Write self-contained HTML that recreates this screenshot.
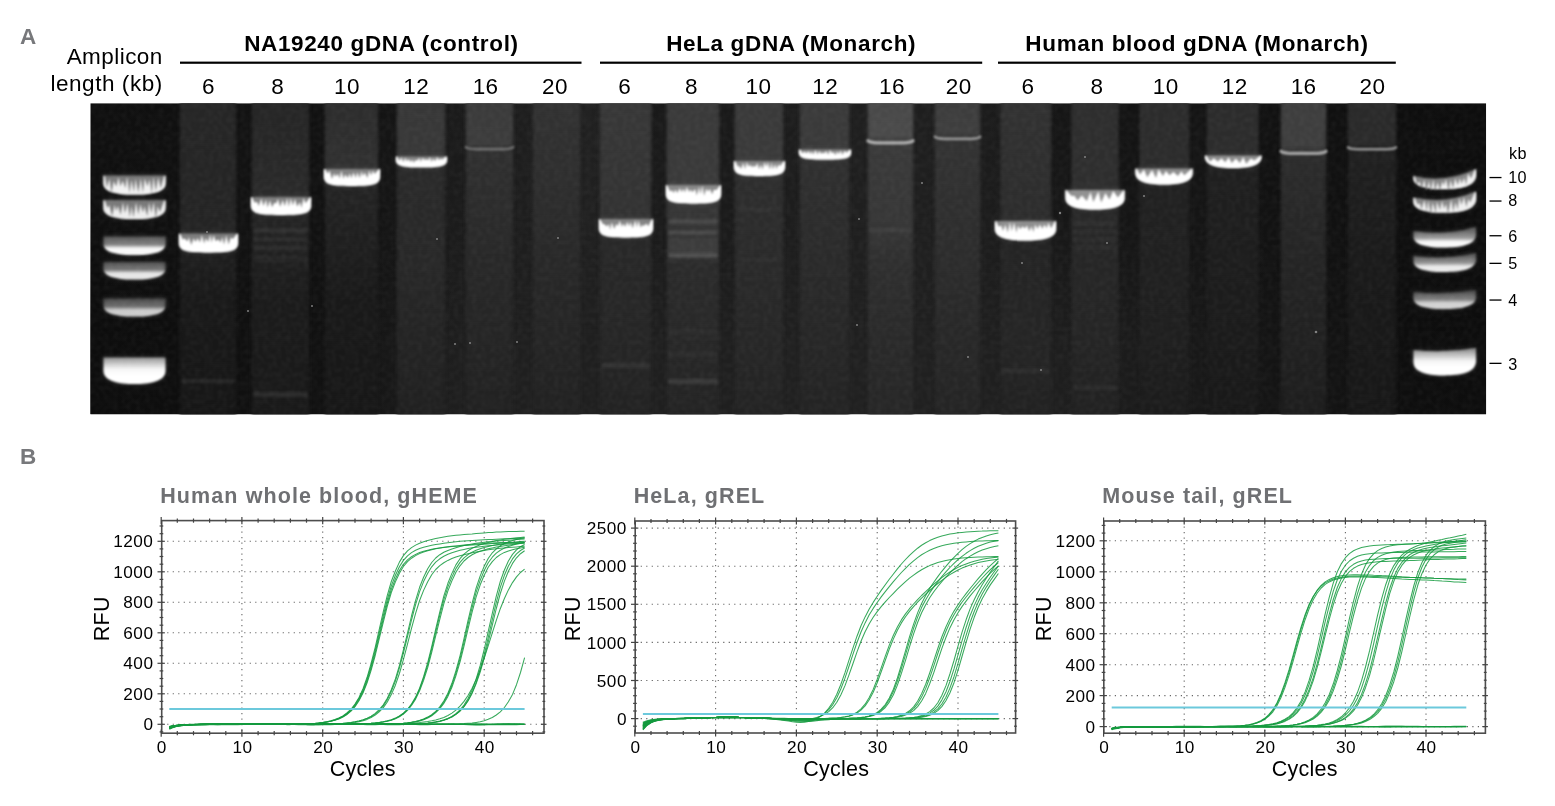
<!DOCTYPE html>
<html lang="en"><head><meta charset="utf-8"><title>Figure</title>
<style>
html,body{margin:0;padding:0;background:#fff;}
body{width:1555px;height:806px;overflow:hidden;}
svg{display:block;font-family:"Liberation Sans", Arial, Helvetica, sans-serif;}
.t{fill:#000;}
.hd{font-weight:700;font-size:22.5px;letter-spacing:0.64px;}
.num{font-size:22.5px;letter-spacing:0.45px;}
.kb{font-size:16.2px;letter-spacing:0.3px;}
.pt{font-weight:700;font-size:21.5px;letter-spacing:1.1px;fill:#6f7073;}
.tk{font-size:17.2px;letter-spacing:0.45px;}
.ax{font-size:21.5px;letter-spacing:0.25px;}
.pl{font-weight:700;font-size:22.5px;fill:#77787b;}
</style></head><body>
<svg width="1555" height="806" viewBox="0 0 1555 806">
<defs>
<filter id="b05" color-interpolation-filters="sRGB" x="-50%" y="-50%" width="200%" height="200%"><feGaussianBlur stdDeviation="0.5"/></filter>
<filter id="b1" color-interpolation-filters="sRGB" x="-10%" y="-40%" width="120%" height="180%"><feGaussianBlur stdDeviation="1.1"/></filter>
<filter id="b15" color-interpolation-filters="sRGB" x="-10%" y="-80%" width="120%" height="260%"><feGaussianBlur stdDeviation="1.5"/></filter>
<filter id="b08" color-interpolation-filters="sRGB" x="-10%" y="-200%" width="120%" height="500%"><feGaussianBlur stdDeviation="0.8"/></filter>
<filter id="b2" color-interpolation-filters="sRGB" x="-10%" y="-5%" width="120%" height="110%"><feGaussianBlur stdDeviation="1.6 0.1"/></filter>
<filter id="b3" color-interpolation-filters="sRGB" x="-15%" y="-60%" width="130%" height="220%"><feGaussianBlur stdDeviation="2.4"/></filter>
<filter id="noise" x="0" y="0" width="100%" height="100%" color-interpolation-filters="sRGB"><feTurbulence type="fractalNoise" baseFrequency="0.22" numOctaves="2" seed="4"/><feGaussianBlur stdDeviation="0.9"/><feColorMatrix type="matrix" values="0 0 0 0 1  0 0 0 0 1  0 0 0 0 1  0.1 0 0 0 -0.04"/></filter>
<clipPath id="gc"><rect x="90.3" y="103.2" width="1395.9" height="311.2"/></clipPath>
<linearGradient id="lg0" x1="0" y1="0" x2="0" y2="1"><stop offset="-0.001" stop-color="#262626"/><stop offset="0.414" stop-color="#242424"/><stop offset="0.440" stop-color="#262626"/><stop offset="0.491" stop-color="#1e1e1e"/><stop offset="0.632" stop-color="#191919"/><stop offset="0.999" stop-color="#161616"/></linearGradient><linearGradient id="lg1" x1="0" y1="0" x2="0" y2="1"><stop offset="-0.001" stop-color="#252525"/><stop offset="0.298" stop-color="#2a2a2a"/><stop offset="0.369" stop-color="#242424"/><stop offset="0.510" stop-color="#1f1f1f"/><stop offset="0.632" stop-color="#1b1b1b"/><stop offset="0.999" stop-color="#191919"/></linearGradient><linearGradient id="lg2" x1="0" y1="0" x2="0" y2="1"><stop offset="-0.001" stop-color="#2c2c2c"/><stop offset="0.208" stop-color="#303030"/><stop offset="0.272" stop-color="#242424"/><stop offset="0.504" stop-color="#1d1d1d"/><stop offset="0.632" stop-color="#191919"/><stop offset="0.999" stop-color="#171717"/></linearGradient><linearGradient id="lg3" x1="0" y1="0" x2="0" y2="1"><stop offset="-0.001" stop-color="#373737"/><stop offset="0.166" stop-color="#383838"/><stop offset="0.215" stop-color="#2a2a2a"/><stop offset="0.504" stop-color="#282828"/><stop offset="0.729" stop-color="#242424"/><stop offset="0.999" stop-color="#202020"/></linearGradient><linearGradient id="lg4" x1="0" y1="0" x2="0" y2="1"><stop offset="-0.001" stop-color="#3a3a3a"/><stop offset="0.138" stop-color="#3c3c3c"/><stop offset="0.157" stop-color="#303030"/><stop offset="0.504" stop-color="#282828"/><stop offset="0.729" stop-color="#252525"/><stop offset="0.999" stop-color="#212121"/></linearGradient><linearGradient id="lg5" x1="0" y1="0" x2="0" y2="1"><stop offset="-0.001" stop-color="#323232"/><stop offset="0.247" stop-color="#2e2e2e"/><stop offset="0.504" stop-color="#282828"/><stop offset="0.729" stop-color="#252525"/><stop offset="0.999" stop-color="#212121"/></linearGradient><linearGradient id="lg6" x1="0" y1="0" x2="0" y2="1"><stop offset="-0.001" stop-color="#383838"/><stop offset="0.369" stop-color="#323232"/><stop offset="0.440" stop-color="#282828"/><stop offset="0.729" stop-color="#262626"/><stop offset="0.999" stop-color="#222222"/></linearGradient><linearGradient id="lg7" x1="0" y1="0" x2="0" y2="1"><stop offset="-0.001" stop-color="#3a3a3a"/><stop offset="0.260" stop-color="#3a3a3a"/><stop offset="0.330" stop-color="#363636"/><stop offset="0.488" stop-color="#323232"/><stop offset="0.517" stop-color="#2b2b2b"/><stop offset="0.729" stop-color="#282828"/><stop offset="0.999" stop-color="#232323"/></linearGradient><linearGradient id="lg8" x1="0" y1="0" x2="0" y2="1"><stop offset="-0.001" stop-color="#3a3a3a"/><stop offset="0.183" stop-color="#3a3a3a"/><stop offset="0.240" stop-color="#2e2e2e"/><stop offset="0.504" stop-color="#2a2a2a"/><stop offset="0.729" stop-color="#272727"/><stop offset="0.999" stop-color="#232323"/></linearGradient><linearGradient id="lg9" x1="0" y1="0" x2="0" y2="1"><stop offset="-0.001" stop-color="#3a3a3a"/><stop offset="0.144" stop-color="#3a3a3a"/><stop offset="0.189" stop-color="#303030"/><stop offset="0.504" stop-color="#2a2a2a"/><stop offset="0.729" stop-color="#272727"/><stop offset="0.999" stop-color="#232323"/></linearGradient><linearGradient id="lg10" x1="0" y1="0" x2="0" y2="1"><stop offset="-0.001" stop-color="#484848"/><stop offset="0.112" stop-color="#4a4a4a"/><stop offset="0.138" stop-color="#3a3a3a"/><stop offset="0.407" stop-color="#363636"/><stop offset="0.504" stop-color="#2f2f2f"/><stop offset="0.729" stop-color="#2a2a2a"/><stop offset="0.999" stop-color="#262626"/></linearGradient><linearGradient id="lg11" x1="0" y1="0" x2="0" y2="1"><stop offset="-0.001" stop-color="#3c3c3c"/><stop offset="0.102" stop-color="#3e3e3e"/><stop offset="0.125" stop-color="#333333"/><stop offset="0.504" stop-color="#2c2c2c"/><stop offset="0.729" stop-color="#282828"/><stop offset="0.999" stop-color="#242424"/></linearGradient><linearGradient id="lg12" x1="0" y1="0" x2="0" y2="1"><stop offset="-0.001" stop-color="#323232"/><stop offset="0.379" stop-color="#2c2c2c"/><stop offset="0.446" stop-color="#242424"/><stop offset="0.729" stop-color="#252525"/><stop offset="0.999" stop-color="#212121"/></linearGradient><linearGradient id="lg13" x1="0" y1="0" x2="0" y2="1"><stop offset="-0.001" stop-color="#2e2e2e"/><stop offset="0.279" stop-color="#2e2e2e"/><stop offset="0.350" stop-color="#282828"/><stop offset="0.504" stop-color="#262626"/><stop offset="0.729" stop-color="#252525"/><stop offset="0.999" stop-color="#212121"/></linearGradient><linearGradient id="lg14" x1="0" y1="0" x2="0" y2="1"><stop offset="-0.001" stop-color="#2c2c2c"/><stop offset="0.208" stop-color="#2c2c2c"/><stop offset="0.266" stop-color="#212121"/><stop offset="0.729" stop-color="#1f1f1f"/><stop offset="0.999" stop-color="#1b1b1b"/></linearGradient><linearGradient id="lg15" x1="0" y1="0" x2="0" y2="1"><stop offset="-0.001" stop-color="#2c2c2c"/><stop offset="0.166" stop-color="#2c2c2c"/><stop offset="0.215" stop-color="#1f1f1f"/><stop offset="0.729" stop-color="#1b1b1b"/><stop offset="0.999" stop-color="#181818"/></linearGradient><linearGradient id="lg16" x1="0" y1="0" x2="0" y2="1"><stop offset="-0.001" stop-color="#3e3e3e"/><stop offset="0.144" stop-color="#3e3e3e"/><stop offset="0.173" stop-color="#2c2c2c"/><stop offset="0.504" stop-color="#242424"/><stop offset="0.729" stop-color="#212121"/><stop offset="0.999" stop-color="#1d1d1d"/></linearGradient><linearGradient id="lg17" x1="0" y1="0" x2="0" y2="1"><stop offset="-0.001" stop-color="#2a2a2a"/><stop offset="0.134" stop-color="#2a2a2a"/><stop offset="0.157" stop-color="#202020"/><stop offset="0.504" stop-color="#1a1a1a"/><stop offset="0.999" stop-color="#171717"/></linearGradient><linearGradient id="bg0" gradientUnits="userSpaceOnUse" x1="0" y1="175.5" x2="0" y2="194.5"><stop offset="0" stop-color="#fff" stop-opacity="0.17"/><stop offset="0.43" stop-color="#fff" stop-opacity="0.34"/><stop offset="0.65" stop-color="#fff" stop-opacity="0.90"/><stop offset="1" stop-color="#fff" stop-opacity="0.90"/></linearGradient><linearGradient id="bg1" gradientUnits="userSpaceOnUse" x1="0" y1="200.0" x2="0" y2="219.0"><stop offset="0" stop-color="#fff" stop-opacity="0.16"/><stop offset="0.43" stop-color="#fff" stop-opacity="0.32"/><stop offset="0.65" stop-color="#fff" stop-opacity="0.88"/><stop offset="1" stop-color="#fff" stop-opacity="0.88"/></linearGradient><linearGradient id="bg2" gradientUnits="userSpaceOnUse" x1="0" y1="236.5" x2="0" y2="255.0"><stop offset="0" stop-color="#fff" stop-opacity="0.18"/><stop offset="0.43" stop-color="#fff" stop-opacity="0.36"/><stop offset="0.65" stop-color="#fff" stop-opacity="0.97"/><stop offset="1" stop-color="#fff" stop-opacity="0.97"/></linearGradient><linearGradient id="bg3" gradientUnits="userSpaceOnUse" x1="0" y1="262.0" x2="0" y2="279.5"><stop offset="0" stop-color="#fff" stop-opacity="0.15"/><stop offset="0.43" stop-color="#fff" stop-opacity="0.30"/><stop offset="0.65" stop-color="#fff" stop-opacity="0.88"/><stop offset="1" stop-color="#fff" stop-opacity="0.88"/></linearGradient><linearGradient id="bg4" gradientUnits="userSpaceOnUse" x1="0" y1="298.5" x2="0" y2="316.5"><stop offset="0" stop-color="#fff" stop-opacity="0.12"/><stop offset="0.43" stop-color="#fff" stop-opacity="0.25"/><stop offset="0.65" stop-color="#fff" stop-opacity="0.75"/><stop offset="1" stop-color="#fff" stop-opacity="0.75"/></linearGradient><linearGradient id="bg5" gradientUnits="userSpaceOnUse" x1="0" y1="357.5" x2="0" y2="384.0"><stop offset="0" stop-color="#fff" stop-opacity="0.47"/><stop offset="0.43" stop-color="#fff" stop-opacity="0.95"/><stop offset="0.65" stop-color="#fff" stop-opacity="1.00"/><stop offset="1" stop-color="#fff" stop-opacity="1.00"/></linearGradient><linearGradient id="bg6" gradientUnits="userSpaceOnUse" x1="0" y1="176.0" x2="0" y2="189.0"><stop offset="0" stop-color="#fff" stop-opacity="0.20"/><stop offset="0.43" stop-color="#fff" stop-opacity="0.40"/><stop offset="0.65" stop-color="#fff" stop-opacity="0.90"/><stop offset="1" stop-color="#fff" stop-opacity="0.90"/></linearGradient><linearGradient id="bg7" gradientUnits="userSpaceOnUse" x1="0" y1="197.5" x2="0" y2="212.5"><stop offset="0" stop-color="#fff" stop-opacity="0.20"/><stop offset="0.43" stop-color="#fff" stop-opacity="0.40"/><stop offset="0.65" stop-color="#fff" stop-opacity="0.88"/><stop offset="1" stop-color="#fff" stop-opacity="0.88"/></linearGradient><linearGradient id="bg8" gradientUnits="userSpaceOnUse" x1="0" y1="231.0" x2="0" y2="247.5"><stop offset="0" stop-color="#fff" stop-opacity="0.25"/><stop offset="0.43" stop-color="#fff" stop-opacity="0.50"/><stop offset="0.65" stop-color="#fff" stop-opacity="0.97"/><stop offset="1" stop-color="#fff" stop-opacity="0.97"/></linearGradient><linearGradient id="bg9" gradientUnits="userSpaceOnUse" x1="0" y1="256.0" x2="0" y2="272.0"><stop offset="0" stop-color="#fff" stop-opacity="0.23"/><stop offset="0.43" stop-color="#fff" stop-opacity="0.45"/><stop offset="0.65" stop-color="#fff" stop-opacity="0.90"/><stop offset="1" stop-color="#fff" stop-opacity="0.90"/></linearGradient><linearGradient id="bg10" gradientUnits="userSpaceOnUse" x1="0" y1="292.0" x2="0" y2="309.0"><stop offset="0" stop-color="#fff" stop-opacity="0.17"/><stop offset="0.43" stop-color="#fff" stop-opacity="0.35"/><stop offset="0.65" stop-color="#fff" stop-opacity="0.78"/><stop offset="1" stop-color="#fff" stop-opacity="0.78"/></linearGradient><linearGradient id="bg11" gradientUnits="userSpaceOnUse" x1="0" y1="350.0" x2="0" y2="375.5"><stop offset="0" stop-color="#fff" stop-opacity="0.47"/><stop offset="0.43" stop-color="#fff" stop-opacity="0.95"/><stop offset="0.65" stop-color="#fff" stop-opacity="1.00"/><stop offset="1" stop-color="#fff" stop-opacity="1.00"/></linearGradient><linearGradient id="bg12" gradientUnits="userSpaceOnUse" x1="0" y1="233.5" x2="0" y2="252.5"><stop offset="0" stop-color="#fff" stop-opacity="0.15"/><stop offset="0.18" stop-color="#fff" stop-opacity="0.30"/><stop offset="0.40" stop-color="#fff" stop-opacity="1.00"/><stop offset="1" stop-color="#fff" stop-opacity="1.00"/></linearGradient><linearGradient id="bg13" gradientUnits="userSpaceOnUse" x1="0" y1="197.0" x2="0" y2="215.0"><stop offset="0" stop-color="#fff" stop-opacity="0.15"/><stop offset="0.18" stop-color="#fff" stop-opacity="0.30"/><stop offset="0.40" stop-color="#fff" stop-opacity="1.00"/><stop offset="1" stop-color="#fff" stop-opacity="1.00"/></linearGradient><linearGradient id="bg14" gradientUnits="userSpaceOnUse" x1="0" y1="169.0" x2="0" y2="186.0"><stop offset="0" stop-color="#fff" stop-opacity="0.15"/><stop offset="0.18" stop-color="#fff" stop-opacity="0.30"/><stop offset="0.40" stop-color="#fff" stop-opacity="1.00"/><stop offset="1" stop-color="#fff" stop-opacity="1.00"/></linearGradient><linearGradient id="bg15" gradientUnits="userSpaceOnUse" x1="0" y1="156.5" x2="0" y2="167.3"><stop offset="0" stop-color="#fff" stop-opacity="0.15"/><stop offset="0.18" stop-color="#fff" stop-opacity="0.30"/><stop offset="0.40" stop-color="#fff" stop-opacity="1.00"/><stop offset="1" stop-color="#fff" stop-opacity="1.00"/></linearGradient><linearGradient id="bg16" gradientUnits="userSpaceOnUse" x1="0" y1="219.0" x2="0" y2="237.5"><stop offset="0" stop-color="#fff" stop-opacity="0.15"/><stop offset="0.18" stop-color="#fff" stop-opacity="0.30"/><stop offset="0.40" stop-color="#fff" stop-opacity="1.00"/><stop offset="1" stop-color="#fff" stop-opacity="1.00"/></linearGradient><linearGradient id="bg17" gradientUnits="userSpaceOnUse" x1="0" y1="185.0" x2="0" y2="203.5"><stop offset="0" stop-color="#fff" stop-opacity="0.15"/><stop offset="0.18" stop-color="#fff" stop-opacity="0.30"/><stop offset="0.40" stop-color="#fff" stop-opacity="1.00"/><stop offset="1" stop-color="#fff" stop-opacity="1.00"/></linearGradient><linearGradient id="bg18" gradientUnits="userSpaceOnUse" x1="0" y1="161.0" x2="0" y2="176.0"><stop offset="0" stop-color="#fff" stop-opacity="0.15"/><stop offset="0.18" stop-color="#fff" stop-opacity="0.30"/><stop offset="0.40" stop-color="#fff" stop-opacity="1.00"/><stop offset="1" stop-color="#fff" stop-opacity="1.00"/></linearGradient><linearGradient id="bg19" gradientUnits="userSpaceOnUse" x1="0" y1="149.5" x2="0" y2="159.5"><stop offset="0" stop-color="#fff" stop-opacity="0.15"/><stop offset="0.18" stop-color="#fff" stop-opacity="0.30"/><stop offset="0.40" stop-color="#fff" stop-opacity="1.00"/><stop offset="1" stop-color="#fff" stop-opacity="1.00"/></linearGradient><linearGradient id="bg20" gradientUnits="userSpaceOnUse" x1="0" y1="221.0" x2="0" y2="240.5"><stop offset="0" stop-color="#fff" stop-opacity="0.19"/><stop offset="0.18" stop-color="#fff" stop-opacity="0.38"/><stop offset="0.40" stop-color="#fff" stop-opacity="1.00"/><stop offset="1" stop-color="#fff" stop-opacity="1.00"/></linearGradient><linearGradient id="bg21" gradientUnits="userSpaceOnUse" x1="0" y1="190.0" x2="0" y2="209.5"><stop offset="0" stop-color="#fff" stop-opacity="0.19"/><stop offset="0.18" stop-color="#fff" stop-opacity="0.38"/><stop offset="0.40" stop-color="#fff" stop-opacity="1.00"/><stop offset="1" stop-color="#fff" stop-opacity="1.00"/></linearGradient><linearGradient id="bg22" gradientUnits="userSpaceOnUse" x1="0" y1="168.5" x2="0" y2="184.5"><stop offset="0" stop-color="#fff" stop-opacity="0.19"/><stop offset="0.18" stop-color="#fff" stop-opacity="0.38"/><stop offset="0.40" stop-color="#fff" stop-opacity="1.00"/><stop offset="1" stop-color="#fff" stop-opacity="1.00"/></linearGradient><linearGradient id="bg23" gradientUnits="userSpaceOnUse" x1="0" y1="155.5" x2="0" y2="168.0"><stop offset="0" stop-color="#fff" stop-opacity="0.19"/><stop offset="0.18" stop-color="#fff" stop-opacity="0.38"/><stop offset="0.40" stop-color="#fff" stop-opacity="1.00"/><stop offset="1" stop-color="#fff" stop-opacity="1.00"/></linearGradient>
</defs>
<rect width="1555" height="806" fill="#fff"/>

<text class="pl" x="20" y="44">A</text>
<text class="pl" x="20" y="464">B</text>
<text class="t num" x="162.8" y="64" text-anchor="end">Amplicon</text>
<text class="t num" x="162.8" y="91.3" text-anchor="end" style="letter-spacing:0.55px">length (kb)</text>
<rect x="180" y="61.6" width="401.5" height="2.2" fill="#000"/>
<text class="t hd" x="381.4" y="51" text-anchor="middle">NA19240 gDNA (control)</text>
<rect x="600" y="61.6" width="382.20000000000005" height="2.2" fill="#000"/>
<text class="t hd" x="791.2" y="51" text-anchor="middle">HeLa gDNA (Monarch)</text>
<rect x="998" y="61.6" width="397.79999999999995" height="2.2" fill="#000"/>
<text class="t hd" x="1197" y="51" text-anchor="middle">Human blood gDNA (Monarch)</text>
<text class="t num" x="208.4" y="93.8" text-anchor="middle">6</text>
<text class="t num" x="277.7" y="93.8" text-anchor="middle">8</text>
<text class="t num" x="347.0" y="93.8" text-anchor="middle">10</text>
<text class="t num" x="416.3" y="93.8" text-anchor="middle">12</text>
<text class="t num" x="485.6" y="93.8" text-anchor="middle">16</text>
<text class="t num" x="554.9" y="93.8" text-anchor="middle">20</text>
<text class="t num" x="624.8" y="93.8" text-anchor="middle">6</text>
<text class="t num" x="691.6" y="93.8" text-anchor="middle">8</text>
<text class="t num" x="758.4" y="93.8" text-anchor="middle">10</text>
<text class="t num" x="825.2" y="93.8" text-anchor="middle">12</text>
<text class="t num" x="892.0" y="93.8" text-anchor="middle">16</text>
<text class="t num" x="958.8" y="93.8" text-anchor="middle">20</text>
<text class="t num" x="1028.0" y="93.8" text-anchor="middle">6</text>
<text class="t num" x="1096.9" y="93.8" text-anchor="middle">8</text>
<text class="t num" x="1165.8" y="93.8" text-anchor="middle">10</text>
<text class="t num" x="1234.7" y="93.8" text-anchor="middle">12</text>
<text class="t num" x="1303.6" y="93.8" text-anchor="middle">16</text>
<text class="t num" x="1372.5" y="93.8" text-anchor="middle">20</text>
<defs><linearGradient id="gbg" gradientUnits="userSpaceOnUse" x1="90" y1="0" x2="1486" y2="0"><stop offset="0.0000" stop-color="#101010"/><stop offset="0.0630" stop-color="#111111"/><stop offset="0.1103" stop-color="#131313"/><stop offset="0.1626" stop-color="#121212"/><stop offset="0.2135" stop-color="#151515"/><stop offset="0.2615" stop-color="#1b1b1b"/><stop offset="0.3102" stop-color="#1e1e1e"/><stop offset="0.3582" stop-color="#212121"/><stop offset="0.4076" stop-color="#1a1a1a"/><stop offset="0.4563" stop-color="#1a1a1a"/><stop offset="0.5021" stop-color="#1d1d1d"/><stop offset="0.5501" stop-color="#1f1f1f"/><stop offset="0.5974" stop-color="#1f1f1f"/><stop offset="0.6433" stop-color="#1c1c1c"/><stop offset="0.6948" stop-color="#161616"/><stop offset="0.7450" stop-color="#141414"/><stop offset="0.7937" stop-color="#151515"/><stop offset="0.8453" stop-color="#121212"/><stop offset="0.8933" stop-color="#111111"/><stop offset="0.9420" stop-color="#0f0f0f"/><stop offset="1.0000" stop-color="#0e0e0e"/></linearGradient><linearGradient id="gbb" gradientUnits="userSpaceOnUse" x1="90" y1="0" x2="1486" y2="0"><stop offset="0.0000" stop-color="#0d0d0d"/><stop offset="0.0630" stop-color="#0e0e0e"/><stop offset="0.1103" stop-color="#101010"/><stop offset="0.1626" stop-color="#111111"/><stop offset="0.2135" stop-color="#171717"/><stop offset="0.2615" stop-color="#1e1e1e"/><stop offset="0.3102" stop-color="#1f1f1f"/><stop offset="0.3582" stop-color="#1f1f1f"/><stop offset="0.4076" stop-color="#1f1f1f"/><stop offset="0.4563" stop-color="#1f1f1f"/><stop offset="0.5021" stop-color="#202020"/><stop offset="0.5501" stop-color="#202020"/><stop offset="0.5974" stop-color="#202020"/><stop offset="0.6433" stop-color="#1f1f1f"/><stop offset="0.6948" stop-color="#1e1e1e"/><stop offset="0.7450" stop-color="#1b1b1b"/><stop offset="0.7937" stop-color="#181818"/><stop offset="0.8453" stop-color="#141414"/><stop offset="0.8933" stop-color="#131313"/><stop offset="0.9420" stop-color="#0e0e0e"/><stop offset="1.0000" stop-color="#0d0d0d"/></linearGradient><linearGradient id="gbv" x1="0" y1="0" x2="0" y2="1"><stop offset="0" stop-color="#fff" stop-opacity="0"/><stop offset="0.35" stop-color="#fff" stop-opacity="0.15"/><stop offset="0.75" stop-color="#fff" stop-opacity="1"/></linearGradient><mask id="mbv" maskUnits="userSpaceOnUse" x="90" y="100" width="1400" height="320"><rect x="90" y="103.2" width="1400" height="311.2" fill="url(#gbv)"/></mask></defs>
<g clip-path="url(#gc)"><rect x="90.3" y="103.2" width="1395.9" height="311.2" fill="url(#gbg)"/><rect x="90.3" y="103.2" width="1395.9" height="311.2" fill="url(#gbb)" mask="url(#mbv)"/>
<rect x="179.8" y="99.2" width="56.4" height="319.2" fill="url(#lg0)" filter="url(#b2)"/>
<rect x="251.8" y="99.2" width="57.4" height="319.2" fill="url(#lg1)" filter="url(#b2)"/>
<rect x="324.8" y="99.2" width="53.4" height="319.2" fill="url(#lg2)" filter="url(#b2)"/>
<rect x="396.8" y="99.2" width="48.4" height="319.2" fill="url(#lg3)" filter="url(#b2)"/>
<rect x="465.8" y="99.2" width="47.4" height="319.2" fill="url(#lg4)" filter="url(#b2)"/>
<rect x="532.8" y="99.2" width="47.4" height="319.2" fill="url(#lg5)" filter="url(#b2)"/>
<rect x="599.8" y="99.2" width="51.4" height="319.2" fill="url(#lg6)" filter="url(#b2)"/>
<rect x="666.8" y="99.2" width="52.4" height="319.2" fill="url(#lg7)" filter="url(#b2)"/>
<rect x="734.8" y="99.2" width="48.4" height="319.2" fill="url(#lg8)" filter="url(#b2)"/>
<rect x="799.8" y="99.2" width="49.4" height="319.2" fill="url(#lg9)" filter="url(#b2)"/>
<rect x="867.8" y="99.2" width="45.4" height="319.2" fill="url(#lg10)" filter="url(#b2)"/>
<rect x="934.8" y="99.2" width="45.4" height="319.2" fill="url(#lg11)" filter="url(#b2)"/>
<rect x="1000.3" y="99.2" width="50.9" height="319.2" fill="url(#lg12)" filter="url(#b2)"/>
<rect x="1071.3" y="99.2" width="47.4" height="319.2" fill="url(#lg13)" filter="url(#b2)"/>
<rect x="1139.3" y="99.2" width="49.9" height="319.2" fill="url(#lg14)" filter="url(#b2)"/>
<rect x="1206.8" y="99.2" width="51.9" height="319.2" fill="url(#lg15)" filter="url(#b2)"/>
<rect x="1280.8" y="99.2" width="45.4" height="319.2" fill="url(#lg16)" filter="url(#b2)"/>
<rect x="1347.8" y="99.2" width="48.4" height="319.2" fill="url(#lg17)" filter="url(#b2)"/>
<path d="M103.5 175.5 Q134.5 175.5 165.5 175.5 L165.5 183.4 C165.5 192.8 148.4 194.5 134.5 194.5 C120.5 194.5 103.5 192.8 103.5 183.4 Z" fill="#999" opacity="0.32" filter="url(#b3)"/>
<path d="M103.5 175.5 Q134.5 175.5 165.5 175.5 L165.5 183.4 C165.5 192.8 148.4 194.5 134.5 194.5 C120.5 194.5 103.5 192.8 103.5 183.4 Z" fill="#fff" opacity="0.34" filter="url(#b1)"/>
<path d="M103.5 175.5 L105.1 176.4 L107.0 187.5 L109.4 178.7 L111.5 192.6 L113.7 180.9 L116.2 186.8 L118.6 177.3 L120.3 186.5 L122.9 180.7 L125.3 188.3 L127.1 177.1 L129.6 192.8 L131.4 180.1 L134.0 192.1 L135.5 178.9 L138.4 192.6 L140.8 178.2 L142.9 192.5 L144.8 178.2 L147.4 186.4 L149.6 179.2 L151.8 193.3 L153.4 176.7 L155.8 190.9 L158.3 177.5 L160.6 188.2 L163.9 176.4 L165.5 175.5 L165.5 183.4 C165.5 192.8 148.4 194.5 134.5 194.5 C120.5 194.5 103.5 192.8 103.5 183.4 Z" fill="#fff" opacity="0.90" filter="url(#b08)"/>
<path d="M103.5 200.0 Q134.5 200.0 165.5 200.0 L165.5 207.9 C165.5 217.3 148.4 219.0 134.5 219.0 C120.5 219.0 103.5 217.3 103.5 207.9 Z" fill="#999" opacity="0.32" filter="url(#b3)"/>
<path d="M103.5 200.0 Q134.5 200.0 165.5 200.0 L165.5 207.9 C165.5 217.3 148.4 219.0 134.5 219.0 C120.5 219.0 103.5 217.3 103.5 207.9 Z" fill="#fff" opacity="0.32" filter="url(#b1)"/>
<path d="M103.5 200.0 L105.1 200.9 L107.5 208.0 L109.4 205.2 L112.1 216.0 L114.6 204.8 L116.2 211.2 L118.0 205.8 L120.6 214.7 L123.0 202.2 L124.9 213.2 L127.5 203.4 L129.8 216.9 L131.6 205.7 L133.4 217.2 L136.1 202.4 L138.3 214.4 L140.5 204.3 L143.0 212.8 L144.5 206.0 L147.3 216.2 L149.1 202.2 L151.3 213.3 L153.6 201.9 L155.8 218.0 L157.6 206.1 L159.9 212.1 L163.9 200.9 L165.5 200.0 L165.5 207.9 C165.5 217.3 148.4 219.0 134.5 219.0 C120.5 219.0 103.5 217.3 103.5 207.9 Z" fill="#fff" opacity="0.88" filter="url(#b08)"/>
<path d="M103.5 236.5 Q134.5 236.5 165.5 236.5 L165.5 243.9 C165.5 253.3 148.4 255.0 134.5 255.0 C120.5 255.0 103.5 253.3 103.5 243.9 Z" fill="#999" opacity="0.32" filter="url(#b3)"/>
<path d="M103.5 236.5 Q134.5 236.5 165.5 236.5 L165.5 243.9 C165.5 253.3 148.4 255.0 134.5 255.0 C120.5 255.0 103.5 253.3 103.5 243.9 Z" fill="url(#bg2)" filter="url(#b1)"/>
<path d="M103.5 262.0 Q134.5 262.0 165.5 262.0 L165.5 268.4 C165.5 277.8 148.4 279.5 134.5 279.5 C120.5 279.5 103.5 277.8 103.5 268.4 Z" fill="#999" opacity="0.32" filter="url(#b3)"/>
<path d="M103.5 262.0 Q134.5 262.0 165.5 262.0 L165.5 268.4 C165.5 277.8 148.4 279.5 134.5 279.5 C120.5 279.5 103.5 277.8 103.5 268.4 Z" fill="url(#bg3)" filter="url(#b1)"/>
<path d="M103.5 298.5 Q134.5 298.5 165.5 298.5 L165.5 305.4 C165.5 314.8 148.4 316.5 134.5 316.5 C120.5 316.5 103.5 314.8 103.5 305.4 Z" fill="#999" opacity="0.32" filter="url(#b3)"/>
<path d="M103.5 298.5 Q134.5 298.5 165.5 298.5 L165.5 305.4 C165.5 314.8 148.4 316.5 134.5 316.5 C120.5 316.5 103.5 314.8 103.5 305.4 Z" fill="url(#bg4)" filter="url(#b1)"/>
<path d="M103.5 357.5 Q134.5 357.5 165.5 357.5 L165.5 370.5 C165.5 382.0 148.4 384.0 134.5 384.0 C120.5 384.0 103.5 382.0 103.5 370.5 Z" fill="#999" opacity="0.32" filter="url(#b3)"/>
<path d="M103.5 357.5 Q134.5 357.5 165.5 357.5 L165.5 370.5 C165.5 382.0 148.4 384.0 134.5 384.0 C120.5 384.0 103.5 382.0 103.5 370.5 Z" fill="url(#bg5)" filter="url(#b1)"/>
<path d="M1413.5 176.0 Q1444.8 183.8 1476.0 169.0 L1476.0 174.8 C1476.0 186.9 1458.8 189.0 1444.8 189.0 C1430.7 189.0 1413.5 187.3 1413.5 177.9 Z" fill="#999" opacity="0.32" filter="url(#b3)"/>
<path d="M1413.5 176.0 Q1444.8 183.8 1476.0 169.0 L1476.0 174.8 C1476.0 186.9 1458.8 189.0 1444.8 189.0 C1430.7 189.0 1413.5 187.3 1413.5 177.9 Z" fill="#fff" opacity="0.40" filter="url(#b1)"/>
<path d="M1413.5 176.0 L1415.1 177.0 L1417.2 184.0 L1419.4 181.4 L1422.0 187.8 L1424.2 179.7 L1426.5 190.0 L1429.0 181.0 L1430.8 190.4 L1433.4 179.6 L1435.0 190.4 L1437.7 182.2 L1439.9 189.7 L1442.4 181.3 L1444.0 185.7 L1445.9 178.9 L1448.6 190.0 L1450.6 180.1 L1453.0 188.1 L1455.3 178.3 L1457.7 185.3 L1459.9 177.9 L1461.5 183.9 L1464.2 177.7 L1466.0 185.0 L1468.1 173.5 L1471.1 178.5 L1474.4 170.4 L1476.0 169.0 L1476.0 174.8 C1476.0 186.9 1458.8 189.0 1444.8 189.0 C1430.7 189.0 1413.5 187.3 1413.5 177.9 Z" fill="#fff" opacity="0.90" filter="url(#b08)"/>
<path d="M1413.5 197.5 Q1444.8 204.4 1476.0 191.5 L1476.0 198.7 C1476.0 210.4 1458.8 212.5 1444.8 212.5 C1430.7 212.5 1413.5 210.8 1413.5 201.4 Z" fill="#999" opacity="0.32" filter="url(#b3)"/>
<path d="M1413.5 197.5 Q1444.8 204.4 1476.0 191.5 L1476.0 198.7 C1476.0 210.4 1458.8 212.5 1444.8 212.5 C1430.7 212.5 1413.5 210.8 1413.5 201.4 Z" fill="#fff" opacity="0.40" filter="url(#b1)"/>
<path d="M1413.5 197.5 L1415.1 198.6 L1417.7 204.4 L1419.9 203.3 L1421.5 209.3 L1424.3 200.1 L1426.9 211.1 L1428.1 200.4 L1431.0 213.8 L1432.6 202.5 L1435.8 212.6 L1436.9 201.6 L1440.0 210.1 L1442.0 200.8 L1444.0 208.7 L1446.2 204.0 L1448.0 213.1 L1451.2 199.6 L1453.3 211.4 L1455.5 202.3 L1457.7 209.6 L1459.3 197.7 L1461.6 205.1 L1463.9 197.1 L1466.4 207.1 L1468.3 198.7 L1470.2 202.6 L1474.4 192.9 L1476.0 191.5 L1476.0 198.7 C1476.0 210.4 1458.8 212.5 1444.8 212.5 C1430.7 212.5 1413.5 210.8 1413.5 201.4 Z" fill="#fff" opacity="0.88" filter="url(#b08)"/>
<path d="M1413.5 231.0 Q1444.8 236.1 1476.0 227.0 L1476.0 234.6 C1476.0 245.6 1458.8 247.5 1444.8 247.5 C1430.7 247.5 1413.5 245.8 1413.5 236.4 Z" fill="#999" opacity="0.32" filter="url(#b3)"/>
<path d="M1413.5 231.0 Q1444.8 236.1 1476.0 227.0 L1476.0 234.6 C1476.0 245.6 1458.8 247.5 1444.8 247.5 C1430.7 247.5 1413.5 245.8 1413.5 236.4 Z" fill="url(#bg8)" filter="url(#b1)"/>
<path d="M1413.5 256.0 Q1444.8 260.2 1476.0 253.0 L1476.0 259.6 C1476.0 270.1 1458.8 272.0 1444.8 272.0 C1430.7 272.0 1413.5 270.3 1413.5 260.9 Z" fill="#999" opacity="0.32" filter="url(#b3)"/>
<path d="M1413.5 256.0 Q1444.8 260.2 1476.0 253.0 L1476.0 259.6 C1476.0 270.1 1458.8 272.0 1444.8 272.0 C1430.7 272.0 1413.5 270.3 1413.5 260.9 Z" fill="url(#bg9)" filter="url(#b1)"/>
<path d="M1413.5 292.0 Q1444.8 295.3 1476.0 290.0 L1476.0 297.0 C1476.0 307.2 1458.8 309.0 1444.8 309.0 C1430.7 309.0 1413.5 307.3 1413.5 297.9 Z" fill="#999" opacity="0.32" filter="url(#b3)"/>
<path d="M1413.5 292.0 Q1444.8 295.3 1476.0 290.0 L1476.0 297.0 C1476.0 307.2 1458.8 309.0 1444.8 309.0 C1430.7 309.0 1413.5 307.3 1413.5 297.9 Z" fill="url(#bg10)" filter="url(#b1)"/>
<path d="M1413.5 350.0 Q1444.8 353.3 1476.0 348.0 L1476.0 361.1 C1476.0 373.3 1458.8 375.5 1444.8 375.5 C1430.7 375.5 1413.5 373.5 1413.5 362.0 Z" fill="#999" opacity="0.32" filter="url(#b3)"/>
<path d="M1413.5 350.0 Q1444.8 353.3 1476.0 348.0 L1476.0 361.1 C1476.0 373.3 1458.8 375.5 1444.8 375.5 C1430.7 375.5 1413.5 373.5 1413.5 362.0 Z" fill="url(#bg11)" filter="url(#b1)"/>
<path d="M179.0 233.5 Q208.5 233.5 238.0 233.5 L238.0 243.1 C238.0 252.0 226.8 252.5 208.5 252.5 C190.2 252.5 179.0 252.0 179.0 243.1 Z" fill="#999" opacity="0.32" filter="url(#b3)"/>
<path d="M179.0 233.5 Q208.5 233.5 238.0 233.5 L238.0 243.1 C238.0 252.0 226.8 252.5 208.5 252.5 C190.2 252.5 179.0 252.0 179.0 243.1 Z" fill="#fff" opacity="0.30" filter="url(#b1)"/>
<path d="M179.0 233.5 L180.6 234.4 L182.8 239.4 L184.9 238.6 L187.5 241.5 L188.9 236.9 L191.3 245.1 L193.5 238.3 L195.7 242.1 L197.5 237.9 L200.0 242.5 L201.8 235.0 L204.2 243.5 L205.7 238.0 L208.1 241.9 L210.2 234.4 L211.6 242.4 L213.6 235.2 L215.8 241.3 L218.3 239.3 L220.5 242.6 L222.4 237.1 L224.0 244.8 L226.2 235.3 L228.6 244.5 L230.7 237.6 L232.8 238.9 L236.4 234.4 L238.0 233.5 L238.0 243.1 C238.0 252.0 226.8 252.5 208.5 252.5 C190.2 252.5 179.0 252.0 179.0 243.1 Z" fill="#fff" opacity="1.00" filter="url(#b08)"/>
<path d="M251.0 197.0 Q281.0 197.0 311.0 197.0 L311.0 205.6 C311.0 214.5 299.6 215.0 281.0 215.0 C262.4 215.0 251.0 214.5 251.0 205.6 Z" fill="#999" opacity="0.32" filter="url(#b3)"/>
<path d="M251.0 197.0 Q281.0 197.0 311.0 197.0 L311.0 205.6 C311.0 214.5 299.6 215.0 281.0 215.0 C262.4 215.0 251.0 214.5 251.0 205.6 Z" fill="#fff" opacity="0.30" filter="url(#b1)"/>
<path d="M251.0 197.0 L252.6 197.9 L254.5 202.4 L257.2 201.9 L258.7 206.1 L261.3 198.6 L263.5 205.9 L266.0 199.2 L267.6 207.6 L269.9 200.3 L272.1 207.3 L274.4 202.5 L276.1 203.7 L277.9 199.1 L280.2 206.7 L282.8 199.8 L284.7 206.2 L287.2 198.0 L288.8 206.7 L290.8 198.0 L292.9 205.6 L294.9 198.7 L297.2 206.6 L299.9 201.9 L301.4 207.8 L303.6 198.0 L305.5 203.3 L309.4 197.9 L311.0 197.0 L311.0 205.6 C311.0 214.5 299.6 215.0 281.0 215.0 C262.4 215.0 251.0 214.5 251.0 205.6 Z" fill="#fff" opacity="1.00" filter="url(#b08)"/>
<path d="M324.0 169.0 Q352.0 169.0 380.0 169.0 L380.0 176.6 C380.0 185.5 369.4 186.0 352.0 186.0 C334.6 186.0 324.0 185.5 324.0 176.6 Z" fill="#999" opacity="0.32" filter="url(#b3)"/>
<path d="M324.0 169.0 Q352.0 169.0 380.0 169.0 L380.0 176.6 C380.0 185.5 369.4 186.0 352.0 186.0 C334.6 186.0 324.0 185.5 324.0 176.6 Z" fill="#fff" opacity="0.30" filter="url(#b1)"/>
<path d="M324.0 169.0 L325.6 169.8 L327.5 173.6 L329.6 170.8 L332.0 179.1 L334.1 173.0 L335.4 176.8 L337.7 173.7 L339.8 178.4 L341.2 170.7 L343.6 178.7 L345.2 174.2 L347.8 178.1 L349.7 173.3 L351.4 178.3 L353.4 172.2 L355.8 178.1 L357.2 172.1 L359.6 178.0 L361.6 171.1 L362.8 176.3 L364.8 172.4 L367.4 178.1 L369.2 170.2 L371.0 175.5 L372.9 170.4 L374.6 174.0 L378.4 169.8 L380.0 169.0 L380.0 176.6 C380.0 185.5 369.4 186.0 352.0 186.0 C334.6 186.0 324.0 185.5 324.0 176.6 Z" fill="#fff" opacity="1.00" filter="url(#b08)"/>
<path d="M396.0 156.5 Q421.5 156.5 447.0 156.5 L447.0 160.0 C447.0 166.9 437.3 167.3 421.5 167.3 C405.7 167.3 396.0 166.9 396.0 160.0 Z" fill="#999" opacity="0.32" filter="url(#b3)"/>
<path d="M396.0 156.5 Q421.5 156.5 447.0 156.5 L447.0 160.0 C447.0 166.9 437.3 167.3 421.5 167.3 C405.7 167.3 396.0 166.9 396.0 160.0 Z" fill="#fff" opacity="0.30" filter="url(#b1)"/>
<path d="M396.0 156.5 L397.6 157.0 L399.4 161.0 L401.2 157.2 L403.4 162.1 L405.2 157.6 L406.8 161.5 L408.4 158.9 L410.8 162.1 L412.3 159.4 L413.8 162.7 L415.7 159.4 L417.0 161.1 L419.4 157.8 L420.7 161.7 L422.7 157.8 L424.8 160.6 L426.1 158.7 L428.2 160.6 L429.8 157.0 L431.6 162.0 L433.1 158.3 L435.0 161.3 L437.3 157.1 L438.9 160.5 L440.0 158.6 L442.1 159.5 L445.4 157.0 L447.0 156.5 L447.0 160.0 C447.0 166.9 437.3 167.3 421.5 167.3 C405.7 167.3 396.0 166.9 396.0 160.0 Z" fill="#fff" opacity="1.00" filter="url(#b08)"/>
<path d="M599.0 219.0 Q626.0 219.0 653.0 219.0 L653.0 228.1 C653.0 237.0 642.7 237.5 626.0 237.5 C609.3 237.5 599.0 237.0 599.0 228.1 Z" fill="#999" opacity="0.32" filter="url(#b3)"/>
<path d="M599.0 219.0 Q626.0 219.0 653.0 219.0 L653.0 228.1 C653.0 237.0 642.7 237.5 626.0 237.5 C609.3 237.5 599.0 237.0 599.0 228.1 Z" fill="#fff" opacity="0.30" filter="url(#b1)"/>
<path d="M599.0 219.0 L600.6 219.9 L602.9 224.0 L604.9 224.5 L606.8 226.5 L608.9 224.1 L610.1 229.8 L611.8 222.3 L614.2 229.0 L616.2 224.1 L618.1 226.1 L619.6 220.5 L622.0 227.1 L623.1 223.4 L625.4 226.7 L627.2 221.7 L629.3 226.6 L630.6 221.7 L632.7 228.2 L635.3 219.9 L636.9 227.4 L638.3 220.3 L640.7 227.6 L642.3 224.9 L643.9 225.9 L646.3 223.6 L648.2 226.3 L651.4 219.9 L653.0 219.0 L653.0 228.1 C653.0 237.0 642.7 237.5 626.0 237.5 C609.3 237.5 599.0 237.0 599.0 228.1 Z" fill="#fff" opacity="1.00" filter="url(#b08)"/>
<path d="M666.0 185.0 Q693.5 185.0 721.0 185.0 L721.0 194.1 C721.0 203.0 710.5 203.5 693.5 203.5 C676.5 203.5 666.0 203.0 666.0 194.1 Z" fill="#999" opacity="0.32" filter="url(#b3)"/>
<path d="M666.0 185.0 Q693.5 185.0 721.0 185.0 L721.0 194.1 C721.0 203.0 710.5 203.5 693.5 203.5 C676.5 203.5 666.0 203.0 666.0 194.1 Z" fill="#fff" opacity="0.30" filter="url(#b1)"/>
<path d="M666.0 185.0 L667.6 185.9 L670.1 191.4 L672.2 190.2 L673.7 193.1 L675.5 189.4 L677.3 192.9 L679.8 187.9 L681.6 192.3 L683.4 188.4 L685.0 192.4 L686.7 187.0 L689.2 191.9 L690.7 189.5 L692.5 192.2 L695.2 188.8 L696.7 195.4 L699.1 186.8 L700.4 194.1 L702.5 185.8 L704.1 195.7 L706.3 188.3 L707.9 191.8 L709.8 188.8 L712.2 194.2 L713.8 189.7 L716.4 189.9 L719.4 185.9 L721.0 185.0 L721.0 194.1 C721.0 203.0 710.5 203.5 693.5 203.5 C676.5 203.5 666.0 203.0 666.0 194.1 Z" fill="#fff" opacity="1.00" filter="url(#b08)"/>
<path d="M734.0 161.0 Q759.5 161.0 785.0 161.0 L785.0 166.6 C785.0 175.5 775.3 176.0 759.5 176.0 C743.7 176.0 734.0 175.5 734.0 166.6 Z" fill="#999" opacity="0.32" filter="url(#b3)"/>
<path d="M734.0 161.0 Q759.5 161.0 785.0 161.0 L785.0 166.6 C785.0 175.5 775.3 176.0 759.5 176.0 C743.7 176.0 734.0 175.5 734.0 166.6 Z" fill="#fff" opacity="0.30" filter="url(#b1)"/>
<path d="M734.0 161.0 L735.6 161.7 L738.1 167.1 L739.1 165.4 L741.0 169.1 L743.4 162.7 L745.0 169.2 L746.8 162.0 L748.7 167.0 L749.9 164.6 L752.3 167.6 L753.3 165.4 L755.1 166.9 L757.5 163.3 L759.1 169.3 L761.0 164.4 L762.6 169.6 L764.5 162.3 L766.4 167.1 L767.8 162.1 L769.9 169.5 L771.7 162.5 L772.9 169.4 L775.2 163.8 L776.4 169.1 L778.5 164.5 L780.1 166.0 L783.4 161.8 L785.0 161.0 L785.0 166.6 C785.0 175.5 775.3 176.0 759.5 176.0 C743.7 176.0 734.0 175.5 734.0 166.6 Z" fill="#fff" opacity="1.00" filter="url(#b08)"/>
<path d="M799.0 149.5 Q825.0 149.5 851.0 149.5 L851.0 152.8 C851.0 159.2 841.1 159.5 825.0 159.5 C808.9 159.5 799.0 159.2 799.0 152.8 Z" fill="#999" opacity="0.32" filter="url(#b3)"/>
<path d="M799.0 149.5 Q825.0 149.5 851.0 149.5 L851.0 152.8 C851.0 159.2 841.1 159.5 825.0 159.5 C808.9 159.5 799.0 159.2 799.0 152.8 Z" fill="#fff" opacity="0.30" filter="url(#b1)"/>
<path d="M799.0 149.5 L800.6 150.0 L802.6 153.5 L804.4 151.2 L806.5 153.5 L808.4 151.0 L810.4 154.0 L811.6 151.2 L813.5 154.5 L815.4 150.1 L817.6 154.6 L819.0 150.9 L821.2 153.8 L822.7 152.4 L824.6 153.4 L826.1 150.7 L828.2 154.8 L829.9 150.0 L831.9 153.2 L833.3 152.1 L835.6 155.1 L837.0 151.2 L838.8 154.1 L840.8 150.4 L842.3 154.8 L844.8 150.7 L846.4 152.7 L849.4 150.0 L851.0 149.5 L851.0 152.8 C851.0 159.2 841.1 159.5 825.0 159.5 C808.9 159.5 799.0 159.2 799.0 152.8 Z" fill="#fff" opacity="1.00" filter="url(#b08)"/>
<path d="M995.0 221.0 Q1025.5 221.0 1056.0 221.0 L1056.0 229.0 C1056.0 238.8 1039.2 240.5 1025.5 240.5 C1011.8 240.5 995.0 238.8 995.0 229.0 Z" fill="#999" opacity="0.32" filter="url(#b3)"/>
<path d="M995.0 221.0 Q1025.5 221.0 1056.0 221.0 L1056.0 229.0 C1056.0 238.8 1039.2 240.5 1025.5 240.5 C1011.8 240.5 995.0 238.8 995.0 229.0 Z" fill="#fff" opacity="0.38" filter="url(#b1)"/>
<path d="M995.0 221.0 L996.6 222.0 L998.6 226.6 L1001.3 225.7 L1003.0 231.1 L1005.4 224.6 L1007.7 232.5 L1010.0 222.1 L1011.7 231.3 L1014.0 222.6 L1016.5 232.4 L1018.0 225.6 L1020.1 229.3 L1022.7 226.3 L1024.7 228.4 L1027.0 225.5 L1029.3 231.3 L1031.3 226.3 L1033.5 232.1 L1035.1 224.4 L1037.5 228.7 L1039.9 224.5 L1042.3 228.8 L1044.5 224.6 L1046.7 228.3 L1048.4 222.8 L1051.1 228.3 L1054.4 222.0 L1056.0 221.0 L1056.0 229.0 C1056.0 238.8 1039.2 240.5 1025.5 240.5 C1011.8 240.5 995.0 238.8 995.0 229.0 Z" fill="#fff" opacity="1.00" filter="url(#b08)"/>
<path d="M1065.5 190.0 Q1095.0 190.0 1124.5 190.0 L1124.5 198.0 C1124.5 207.8 1108.3 209.5 1095.0 209.5 C1081.7 209.5 1065.5 207.8 1065.5 198.0 Z" fill="#999" opacity="0.32" filter="url(#b3)"/>
<path d="M1065.5 190.0 Q1095.0 190.0 1124.5 190.0 L1124.5 198.0 C1124.5 207.8 1108.3 209.5 1095.0 209.5 C1081.7 209.5 1065.5 207.8 1065.5 198.0 Z" fill="#fff" opacity="0.38" filter="url(#b1)"/>
<path d="M1065.5 190.0 L1067.1 191.0 L1071.5 195.9 L1074.3 195.8 L1077.6 200.3 L1081.8 195.5 L1086.9 201.1 L1090.5 191.9 L1093.3 202.1 L1098.4 191.4 L1101.2 202.4 L1105.4 193.1 L1109.4 199.6 L1113.2 191.1 L1117.8 197.5 L1122.9 191.0 L1124.5 190.0 L1124.5 198.0 C1124.5 207.8 1108.3 209.5 1095.0 209.5 C1081.7 209.5 1065.5 207.8 1065.5 198.0 Z" fill="#fff" opacity="1.00" filter="url(#b08)"/>
<path d="M1135.5 168.5 Q1164.0 168.5 1192.5 168.5 L1192.5 173.0 C1192.5 182.8 1176.8 184.5 1164.0 184.5 C1151.2 184.5 1135.5 182.8 1135.5 173.0 Z" fill="#999" opacity="0.32" filter="url(#b3)"/>
<path d="M1135.5 168.5 Q1164.0 168.5 1192.5 168.5 L1192.5 173.0 C1192.5 182.8 1176.8 184.5 1164.0 184.5 C1151.2 184.5 1135.5 182.8 1135.5 173.0 Z" fill="#fff" opacity="0.38" filter="url(#b1)"/>
<path d="M1135.5 168.5 L1137.1 169.3 L1140.1 174.4 L1144.0 169.5 L1147.2 177.3 L1152.1 170.1 L1156.0 177.9 L1158.5 169.2 L1163.0 175.9 L1165.9 171.0 L1169.6 175.3 L1173.4 172.0 L1178.0 175.9 L1181.2 171.3 L1184.4 175.2 L1190.9 169.3 L1192.5 168.5 L1192.5 173.0 C1192.5 182.8 1176.8 184.5 1164.0 184.5 C1151.2 184.5 1135.5 182.8 1135.5 173.0 Z" fill="#fff" opacity="1.00" filter="url(#b08)"/>
<path d="M1205.0 155.5 Q1233.2 155.5 1261.5 155.5 L1261.5 156.5 C1261.5 166.3 1246.0 168.0 1233.2 168.0 C1220.5 168.0 1205.0 166.3 1205.0 156.5 Z" fill="#999" opacity="0.32" filter="url(#b3)"/>
<path d="M1205.0 155.5 Q1233.2 155.5 1261.5 155.5 L1261.5 156.5 C1261.5 166.3 1246.0 168.0 1233.2 168.0 C1220.5 168.0 1205.0 166.3 1205.0 156.5 Z" fill="#fff" opacity="0.38" filter="url(#b1)"/>
<path d="M1205.0 155.5 L1206.6 156.1 L1210.1 161.4 L1213.8 158.3 L1217.8 161.4 L1221.5 158.2 L1225.3 162.3 L1228.6 157.3 L1231.8 162.9 L1235.9 158.6 L1239.9 163.1 L1243.3 156.9 L1246.2 163.7 L1250.7 158.5 L1254.5 160.6 L1259.9 156.1 L1261.5 155.5 L1261.5 156.5 C1261.5 166.3 1246.0 168.0 1233.2 168.0 C1220.5 168.0 1205.0 166.3 1205.0 156.5 Z" fill="#fff" opacity="1.00" filter="url(#b08)"/>
<path d="M466 147.10000000000002 Q468 148.9 475 149.10000000000002 L504 149.10000000000002 Q511 148.9 513 147.10000000000002" fill="none" stroke="#707070" stroke-width="2.6" stroke-linecap="round" filter="url(#b08)"/>
<path d="M868 140.8 Q870 142.6 877 142.8 L904 142.8 Q911 142.6 913 140.8" fill="none" stroke="#afafaf" stroke-width="3.2" stroke-linecap="round" filter="url(#b08)"/>
<path d="M935 136.8 Q937 138.6 944 138.8 L971 138.8 Q978 138.6 980 136.8" fill="none" stroke="#969696" stroke-width="2.8" stroke-linecap="round" filter="url(#b08)"/>
<path d="M1281 151.3 Q1283 153.1 1290 153.3 L1317 153.3 Q1324 153.1 1326 151.3" fill="none" stroke="#a5a5a5" stroke-width="3.2" stroke-linecap="round" filter="url(#b08)"/>
<path d="M1348 147.3 Q1350 149.1 1357 149.3 L1387 149.3 Q1394 149.1 1396 147.3" fill="none" stroke="#969696" stroke-width="2.6" stroke-linecap="round" filter="url(#b08)"/>
<rect x="181.0" y="379.0" width="54.0" height="4.0" rx="2" fill="#fff" opacity="0.074" filter="url(#b15)"/>
<rect x="253.0" y="392.0" width="55.0" height="5.0" rx="2" fill="#fff" opacity="0.078" filter="url(#b15)"/>
<rect x="601.0" y="363.0" width="49.0" height="5.0" rx="2" fill="#fff" opacity="0.059" filter="url(#b15)"/>
<rect x="668.0" y="379.0" width="50.0" height="5.0" rx="2" fill="#fff" opacity="0.098" filter="url(#b15)"/>
<rect x="1001.5" y="368.5" width="48.5" height="4.5" rx="2" fill="#fff" opacity="0.049" filter="url(#b15)"/>
<rect x="1072.5" y="385.5" width="45.0" height="4.5" rx="2" fill="#fff" opacity="0.034" filter="url(#b15)"/>
<rect x="869.0" y="228.5" width="43.0" height="4.0" rx="2" fill="#fff" opacity="0.039" filter="url(#b15)"/>
<rect x="253.0" y="228.5" width="55.0" height="4.0" rx="2" fill="#fff" opacity="0.069" filter="url(#b15)"/>
<rect x="253.0" y="237.5" width="55.0" height="4.0" rx="2" fill="#fff" opacity="0.049" filter="url(#b15)"/>
<rect x="253.0" y="245.5" width="55.0" height="5.0" rx="2" fill="#fff" opacity="0.049" filter="url(#b15)"/>
<rect x="253.0" y="255.5" width="55.0" height="7.0" rx="2" fill="#fff" opacity="0.029" filter="url(#b15)"/>
<rect x="668.0" y="219.5" width="50.0" height="4.0" rx="2" fill="#fff" opacity="0.108" filter="url(#b15)"/>
<rect x="668.0" y="230.5" width="50.0" height="4.0" rx="2" fill="#fff" opacity="0.118" filter="url(#b15)"/>
<rect x="668.0" y="237.5" width="50.0" height="20.0" rx="2" fill="#fff" opacity="0.049" filter="url(#b15)"/>
<rect x="668.0" y="253.5" width="50.0" height="4.0" rx="2" fill="#fff" opacity="0.127" filter="url(#b15)"/>
<rect x="736.0" y="208.0" width="46.0" height="3.0" rx="2" fill="#fff" opacity="0.029" filter="url(#b15)"/>
<rect x="736.0" y="258.0" width="46.0" height="3.0" rx="2" fill="#fff" opacity="0.025" filter="url(#b15)"/>
<rect x="668.0" y="329.5" width="50.0" height="5.0" rx="2" fill="#fff" opacity="0.025" filter="url(#b15)"/>
<rect x="668.0" y="351.5" width="50.0" height="5.0" rx="2" fill="#fff" opacity="0.025" filter="url(#b15)"/>
<rect x="1072.5" y="221.5" width="45.0" height="4.0" rx="2" fill="#fff" opacity="0.034" filter="url(#b15)"/>
<rect x="1072.5" y="229.5" width="45.0" height="4.0" rx="2" fill="#fff" opacity="0.029" filter="url(#b15)"/>
<rect x="1072.5" y="237.5" width="45.0" height="4.0" rx="2" fill="#fff" opacity="0.029" filter="url(#b15)"/>
<rect x="1072.5" y="245.5" width="45.0" height="4.0" rx="2" fill="#fff" opacity="0.025" filter="url(#b15)"/>
<circle cx="207" cy="232" r="1" fill="#999" opacity="0.8" filter="url(#b05)"/>
<circle cx="437" cy="239" r="1" fill="#999" opacity="0.8" filter="url(#b05)"/>
<circle cx="312" cy="306" r="1" fill="#999" opacity="0.8" filter="url(#b05)"/>
<circle cx="248" cy="311" r="1" fill="#999" opacity="0.8" filter="url(#b05)"/>
<circle cx="455" cy="344" r="1" fill="#999" opacity="0.8" filter="url(#b05)"/>
<circle cx="558" cy="238" r="1" fill="#999" opacity="0.8" filter="url(#b05)"/>
<circle cx="517" cy="342" r="1" fill="#999" opacity="0.8" filter="url(#b05)"/>
<circle cx="470" cy="343" r="1" fill="#999" opacity="0.8" filter="url(#b05)"/>
<circle cx="922" cy="183" r="1" fill="#999" opacity="0.8" filter="url(#b05)"/>
<circle cx="857" cy="325" r="1" fill="#999" opacity="0.8" filter="url(#b05)"/>
<circle cx="968" cy="357" r="1" fill="#999" opacity="0.8" filter="url(#b05)"/>
<circle cx="1022" cy="263" r="1" fill="#999" opacity="0.8" filter="url(#b05)"/>
<circle cx="1107" cy="243" r="1" fill="#999" opacity="0.8" filter="url(#b05)"/>
<circle cx="1316" cy="332" r="1.3" fill="#999" opacity="0.8" filter="url(#b05)"/>
<circle cx="1144" cy="196" r="1" fill="#999" opacity="0.8" filter="url(#b05)"/>
<circle cx="1085" cy="157" r="1" fill="#999" opacity="0.8" filter="url(#b05)"/>
<circle cx="1041" cy="370" r="1" fill="#999" opacity="0.8" filter="url(#b05)"/>
<circle cx="859" cy="219" r="1" fill="#999" opacity="0.8" filter="url(#b05)"/>
<circle cx="1060" cy="213" r="1.2" fill="#999" opacity="0.8" filter="url(#b05)"/>
<rect x="90.3" y="103.2" width="1395.9" height="311.2" filter="url(#noise)"/>
</g>
<text class="t kb" x="1509" y="158.5">kb</text>
<rect x="1489.5" y="176.9" width="12" height="1.3" fill="#000"/>
<text class="t kb" x="1508.3" y="183.3">10</text>
<rect x="1489.5" y="200.4" width="12" height="1.3" fill="#000"/>
<text class="t kb" x="1508.3" y="205.6">8</text>
<rect x="1489.5" y="235.1" width="12" height="1.3" fill="#000"/>
<text class="t kb" x="1508.3" y="241.5">6</text>
<rect x="1489.5" y="262.7" width="12" height="1.3" fill="#000"/>
<text class="t kb" x="1508.3" y="269.4">5</text>
<rect x="1489.5" y="299.4" width="12" height="1.3" fill="#000"/>
<text class="t kb" x="1508.3" y="306.1">4</text>
<rect x="1489.5" y="362.7" width="12" height="1.3" fill="#000"/>
<text class="t kb" x="1508.3" y="369.9">3</text>
<text class="pt" x="160.2" y="502.5">Human whole blood, gHEME</text>
<line x1="241.9" y1="520.6" x2="241.9" y2="733.2" stroke="#666" stroke-width="1.1" stroke-dasharray="1.2 4.3"/>
<line x1="322.7" y1="520.6" x2="322.7" y2="733.2" stroke="#666" stroke-width="1.1" stroke-dasharray="1.2 4.3"/>
<line x1="403.4" y1="520.6" x2="403.4" y2="733.2" stroke="#666" stroke-width="1.1" stroke-dasharray="1.2 4.3"/>
<line x1="484.2" y1="520.6" x2="484.2" y2="733.2" stroke="#666" stroke-width="1.1" stroke-dasharray="1.2 4.3"/>
<line x1="161.7" y1="724.3" x2="544" y2="724.3" stroke="#666" stroke-width="1.1" stroke-dasharray="1.2 4.3"/>
<line x1="161.7" y1="693.8" x2="544" y2="693.8" stroke="#666" stroke-width="1.1" stroke-dasharray="1.2 4.3"/>
<line x1="161.7" y1="663.3" x2="544" y2="663.3" stroke="#666" stroke-width="1.1" stroke-dasharray="1.2 4.3"/>
<line x1="161.7" y1="632.8" x2="544" y2="632.8" stroke="#666" stroke-width="1.1" stroke-dasharray="1.2 4.3"/>
<line x1="161.7" y1="602.3" x2="544" y2="602.3" stroke="#666" stroke-width="1.1" stroke-dasharray="1.2 4.3"/>
<line x1="161.7" y1="571.8" x2="544" y2="571.8" stroke="#666" stroke-width="1.1" stroke-dasharray="1.2 4.3"/>
<line x1="161.7" y1="541.3" x2="544" y2="541.3" stroke="#666" stroke-width="1.1" stroke-dasharray="1.2 4.3"/>
<polyline points="169.3,727.4 173.3,726.2 177.3,725.5 181.4,725.1 185.4,724.8 189.5,724.7 193.5,724.6 197.5,724.5 201.6,724.4 205.6,724.3 209.6,724.2 213.7,724.2 217.7,724.1 221.8,724.1 225.8,724.1 229.8,724.1 233.9,724.2 237.9,724.2 241.9,724.3 246.0,724.4 250.0,724.4 254.1,724.4 258.1,724.4 262.1,724.4 266.2,724.3 270.2,724.3 274.2,724.2 278.3,724.2 282.3,724.2 286.4,724.2 290.4,724.2 294.4,724.2 298.5,724.1 302.5,724.1 306.5,723.9 310.6,723.7 314.6,723.4 318.7,723.0 322.7,722.5 326.7,721.8 330.8,720.8 334.8,719.6 338.8,718.0 342.9,715.9 346.9,713.0 351.0,709.2 355.0,704.1 359.0,697.4 363.1,688.5 367.1,677.3 371.1,663.4 375.2,647.3 379.2,629.5 383.3,611.7 387.3,595.3 391.3,581.5 395.4,571.0 399.4,562.1 403.4,555.6 407.5,550.9 411.5,547.6 415.6,545.1 419.6,543.2 423.6,541.7 427.7,540.5 431.7,539.4 435.7,538.5 439.8,537.7 443.8,537.0 447.9,536.3 451.9,535.8 455.9,535.3 460.0,534.9 464.0,534.5 468.0,534.2 472.1,533.9 476.1,533.5 480.2,533.2 484.2,532.9 488.2,532.6 492.3,532.4 496.3,532.1 500.3,531.9 504.4,531.7 508.4,531.5 512.5,531.4 516.5,531.4 520.5,531.3 524.6,531.3" fill="none" stroke="#149a3e" stroke-width="1.05" stroke-opacity="0.85" stroke-linejoin="round"/>
<polyline points="169.3,726.9 173.3,725.9 177.3,725.2 181.4,724.8 185.4,724.6 189.5,724.5 193.5,724.4 197.5,724.4 201.6,724.4 205.6,724.4 209.6,724.4 213.7,724.3 217.7,724.3 221.8,724.2 225.8,724.2 229.8,724.2 233.9,724.2 237.9,724.2 241.9,724.2 246.0,724.3 250.0,724.4 254.1,724.4 258.1,724.4 262.1,724.5 266.2,724.5 270.2,724.4 274.2,724.4 278.3,724.3 282.3,724.2 286.4,724.2 290.4,724.1 294.4,724.0 298.5,724.0 302.5,723.9 306.5,723.8 310.6,723.6 314.6,723.4 318.7,723.1 322.7,722.6 326.7,721.9 330.8,721.1 334.8,719.9 338.8,718.3 342.9,716.2 346.9,713.5 351.0,709.8 355.0,704.9 359.0,698.4 363.1,689.9 367.1,679.2 371.1,665.9 375.2,650.2 379.2,633.1 383.3,615.6 387.3,599.5 391.3,585.9 395.4,575.3 399.4,566.7 403.4,560.4 407.5,555.8 411.5,552.6 415.6,550.3 419.6,548.6 423.6,547.3 427.7,546.2 431.7,545.3 435.7,544.6 439.8,543.9 443.8,543.3 447.9,542.7 451.9,542.2 455.9,541.7 460.0,541.3 464.0,541.0 468.0,540.7 472.1,540.4 476.1,540.2 480.2,540.0 484.2,539.8 488.2,539.6 492.3,539.4 496.3,539.2 500.3,539.0 504.4,538.8 508.4,538.7 512.5,538.5 516.5,538.4 520.5,538.3 524.6,538.3" fill="none" stroke="#149a3e" stroke-width="1.05" stroke-opacity="0.85" stroke-linejoin="round"/>
<polyline points="169.3,728.2 173.3,726.9 177.3,726.0 181.4,725.5 185.4,725.2 189.5,725.0 193.5,724.8 197.5,724.7 201.6,724.6 205.6,724.4 209.6,724.3 213.7,724.2 217.7,724.2 221.8,724.2 225.8,724.2 229.8,724.2 233.9,724.3 237.9,724.3 241.9,724.3 246.0,724.4 250.0,724.3 254.1,724.3 258.1,724.2 262.1,724.1 266.2,724.1 270.2,724.0 274.2,724.0 278.3,724.0 282.3,724.1 286.4,724.1 290.4,724.2 294.4,724.2 298.5,724.2 302.5,724.1 306.5,724.0 310.6,723.8 314.6,723.5 318.7,723.2 322.7,722.7 326.7,722.0 330.8,721.2 334.8,720.1 338.8,718.7 342.9,716.8 346.9,714.2 351.0,710.7 355.0,706.0 359.0,699.8 363.1,691.6 367.1,681.1 371.1,668.1 375.2,652.9 379.2,636.1 383.3,618.9 387.3,603.0 391.3,589.5 395.4,579.0 399.4,570.6 403.4,564.3 407.5,559.8 411.5,556.7 415.6,554.4 419.6,552.6 423.6,551.3 427.7,550.2 431.7,549.3 435.7,548.5 439.8,547.9 443.8,547.3 447.9,546.9 451.9,546.5 455.9,546.2 460.0,545.9 464.0,545.6 468.0,545.3 472.1,545.1 476.1,544.8 480.2,544.5 484.2,544.2 488.2,543.9 492.3,543.6 496.3,543.4 500.3,543.2 504.4,543.1 508.4,543.0 512.5,542.9 516.5,542.8 520.5,542.8 524.6,542.7" fill="none" stroke="#149a3e" stroke-width="1.05" stroke-opacity="0.85" stroke-linejoin="round"/>
<polyline points="169.3,726.6 173.3,725.8 177.3,725.2 181.4,724.9 185.4,724.7 189.5,724.6 193.5,724.5 197.5,724.4 201.6,724.3 205.6,724.3 209.6,724.3 213.7,724.2 217.7,724.2 221.8,724.2 225.8,724.3 229.8,724.3 233.9,724.4 237.9,724.4 241.9,724.5 246.0,724.5 250.0,724.5 254.1,724.4 258.1,724.4 262.1,724.3 266.2,724.3 270.2,724.2 274.2,724.2 278.3,724.2 282.3,724.2 286.4,724.2 290.4,724.2 294.4,724.1 298.5,724.1 302.5,724.0 306.5,723.9 310.6,723.7 314.6,723.4 318.7,723.0 322.7,722.6 326.7,722.0 330.8,721.2 334.8,720.2 338.8,718.9 342.9,717.0 346.9,714.5 351.0,711.2 355.0,706.7 359.0,700.7 363.1,692.8 367.1,682.8 371.1,670.3 375.2,655.5 379.2,639.0 383.3,622.1 387.3,606.2 391.3,592.5 395.4,581.9 399.4,573.2 403.4,566.5 407.5,561.6 411.5,558.2 415.6,555.6 419.6,553.6 423.6,552.1 427.7,550.8 431.7,549.7 435.7,548.8 439.8,548.1 443.8,547.4 447.9,546.8 451.9,546.3 455.9,545.9 460.0,545.5 464.0,545.1 468.0,544.8 472.1,544.5 476.1,544.1 480.2,543.8 484.2,543.6 488.2,543.3 492.3,543.0 496.3,542.8 500.3,542.6 504.4,542.5 508.4,542.4 512.5,542.3 516.5,542.2 520.5,542.1 524.6,542.0" fill="none" stroke="#149a3e" stroke-width="1.05" stroke-opacity="0.85" stroke-linejoin="round"/>
<polyline points="169.3,728.2 173.3,726.9 177.3,725.9 181.4,725.3 185.4,724.9 189.5,724.6 193.5,724.4 197.5,724.3 201.6,724.2 205.6,724.2 209.6,724.3 213.7,724.3 217.7,724.3 221.8,724.3 225.8,724.3 229.8,724.3 233.9,724.3 237.9,724.2 241.9,724.2 246.0,724.1 250.0,724.1 254.1,724.1 258.1,724.1 262.1,724.2 266.2,724.3 270.2,724.4 274.2,724.4 278.3,724.5 282.3,724.5 286.4,724.5 290.4,724.5 294.4,724.4 298.5,724.3 302.5,724.3 306.5,724.2 310.6,724.2 314.6,724.1 318.7,724.1 322.7,724.1 326.7,724.1 330.8,724.0 334.8,723.9 338.8,723.7 342.9,723.4 346.9,723.0 351.0,722.5 355.0,721.8 359.0,720.9 363.1,719.7 367.1,718.2 371.1,716.1 375.2,713.4 379.2,709.7 383.3,704.8 387.3,698.3 391.3,689.8 395.4,678.9 399.4,665.6 403.4,650.0 407.5,633.0 411.5,616.0 415.6,600.4 419.6,587.3 423.6,577.3 427.7,568.8 431.7,562.5 435.7,558.0 439.8,554.7 443.8,552.3 447.9,550.4 451.9,548.9 455.9,547.7 460.0,546.6 464.0,545.6 468.0,544.8 472.1,544.0 476.1,543.3 480.2,542.8 484.2,542.3 488.2,541.8 492.3,541.5 496.3,541.1 500.3,540.8 504.4,540.5 508.4,540.2 512.5,539.9 516.5,539.6 520.5,539.3 524.6,539.1" fill="none" stroke="#149a3e" stroke-width="1.05" stroke-opacity="0.85" stroke-linejoin="round"/>
<polyline points="169.3,727.7 173.3,726.4 177.3,725.6 181.4,725.0 185.4,724.7 189.5,724.5 193.5,724.4 197.5,724.3 201.6,724.3 205.6,724.3 209.6,724.4 213.7,724.4 217.7,724.3 221.8,724.3 225.8,724.3 229.8,724.2 233.9,724.2 237.9,724.1 241.9,724.1 246.0,724.1 250.0,724.2 254.1,724.3 258.1,724.3 262.1,724.4 266.2,724.5 270.2,724.5 274.2,724.5 278.3,724.5 282.3,724.4 286.4,724.4 290.4,724.3 294.4,724.3 298.5,724.2 302.5,724.2 306.5,724.2 310.6,724.2 314.6,724.2 318.7,724.2 322.7,724.2 326.7,724.1 330.8,724.0 334.8,723.8 338.8,723.6 342.9,723.3 346.9,722.9 351.0,722.4 355.0,721.8 359.0,721.0 363.1,720.0 367.1,718.6 371.1,716.7 375.2,714.1 379.2,710.6 383.3,705.9 387.3,699.6 391.3,691.5 395.4,681.1 399.4,668.2 403.4,653.2 407.5,636.7 411.5,620.0 415.6,604.6 419.6,591.6 423.6,581.6 427.7,573.2 431.7,566.8 435.7,562.2 439.8,558.8 443.8,556.3 447.9,554.3 451.9,552.7 455.9,551.4 460.0,550.3 464.0,549.4 468.0,548.5 472.1,547.8 476.1,547.2 480.2,546.7 484.2,546.2 488.2,545.8 492.3,545.4 496.3,545.1 500.3,544.7 504.4,544.3 508.4,544.0 512.5,543.7 516.5,543.4 520.5,543.1 524.6,542.9" fill="none" stroke="#149a3e" stroke-width="1.05" stroke-opacity="0.85" stroke-linejoin="round"/>
<polyline points="169.3,726.6 173.3,725.8 177.3,725.3 181.4,724.9 185.4,724.7 189.5,724.6 193.5,724.5 197.5,724.4 201.6,724.3 205.6,724.3 209.6,724.2 213.7,724.2 217.7,724.3 221.8,724.3 225.8,724.3 229.8,724.4 233.9,724.4 237.9,724.5 241.9,724.5 246.0,724.5 250.0,724.4 254.1,724.4 258.1,724.3 262.1,724.3 266.2,724.2 270.2,724.2 274.2,724.2 278.3,724.2 282.3,724.3 286.4,724.3 290.4,724.3 294.4,724.3 298.5,724.3 302.5,724.3 306.5,724.2 310.6,724.2 314.6,724.1 318.7,724.0 322.7,724.0 326.7,723.9 330.8,723.8 334.8,723.8 338.8,723.7 342.9,723.5 346.9,723.3 351.0,722.9 355.0,722.4 359.0,721.7 363.1,720.7 367.1,719.4 371.1,717.5 375.2,715.1 379.2,711.9 383.3,707.6 387.3,702.0 391.3,694.6 395.4,685.2 399.4,673.5 403.4,659.7 407.5,644.2 411.5,628.3 415.6,613.3 419.6,600.5 423.6,590.4 427.7,581.7 431.7,574.7 435.7,569.5 439.8,565.6 443.8,562.7 447.9,560.4 451.9,558.6 455.9,557.1 460.0,555.8 464.0,554.7 468.0,553.7 472.1,552.8 476.1,551.9 480.2,551.2 484.2,550.5 488.2,549.8 492.3,549.2 496.3,548.7 500.3,548.3 504.4,547.9 508.4,547.5 512.5,547.2 516.5,546.9 520.5,546.6 524.6,546.3" fill="none" stroke="#149a3e" stroke-width="1.05" stroke-opacity="0.85" stroke-linejoin="round"/>
<polyline points="169.3,727.8 173.3,726.5 177.3,725.7 181.4,725.2 185.4,724.9 189.5,724.7 193.5,724.6 197.5,724.4 201.6,724.3 205.6,724.2 209.6,724.2 213.7,724.1 217.7,724.1 221.8,724.1 225.8,724.2 229.8,724.2 233.9,724.3 237.9,724.4 241.9,724.5 246.0,724.5 250.0,724.5 254.1,724.5 258.1,724.4 262.1,724.4 266.2,724.3 270.2,724.3 274.2,724.3 278.3,724.3 282.3,724.3 286.4,724.3 290.4,724.4 294.4,724.4 298.5,724.4 302.5,724.4 306.5,724.4 310.6,724.4 314.6,724.3 318.7,724.2 322.7,724.1 326.7,724.0 330.8,724.0 334.8,724.0 338.8,724.0 342.9,724.0 346.9,724.1 351.0,724.1 355.0,724.0 359.0,724.0 363.1,723.8 367.1,723.6 371.1,723.3 375.2,722.9 379.2,722.4 383.3,721.7 387.3,720.8 391.3,719.7 395.4,718.1 399.4,716.0 403.4,713.1 407.5,709.2 411.5,704.0 415.6,697.1 419.6,688.1 423.6,676.7 427.7,662.7 431.7,646.6 435.7,629.2 439.8,611.9 443.8,596.2 447.9,583.3 451.9,573.4 455.9,564.9 460.0,558.7 464.0,554.2 468.0,550.8 472.1,548.3 476.1,546.4 480.2,544.8 484.2,543.5 488.2,542.4 492.3,541.4 496.3,540.6 500.3,539.9 504.4,539.2 508.4,538.7 512.5,538.2 516.5,537.8 520.5,537.4 524.6,537.1" fill="none" stroke="#149a3e" stroke-width="1.05" stroke-opacity="0.85" stroke-linejoin="round"/>
<polyline points="169.3,726.7 173.3,725.9 177.3,725.4 181.4,725.0 185.4,724.8 189.5,724.6 193.5,724.5 197.5,724.4 201.6,724.3 205.6,724.3 209.6,724.3 213.7,724.3 217.7,724.4 221.8,724.4 225.8,724.4 229.8,724.4 233.9,724.4 237.9,724.4 241.9,724.4 246.0,724.3 250.0,724.3 254.1,724.2 258.1,724.2 262.1,724.2 266.2,724.2 270.2,724.2 274.2,724.2 278.3,724.3 282.3,724.3 286.4,724.3 290.4,724.3 294.4,724.3 298.5,724.3 302.5,724.3 306.5,724.2 310.6,724.2 314.6,724.2 318.7,724.2 322.7,724.2 326.7,724.2 330.8,724.3 334.8,724.3 338.8,724.3 342.9,724.3 346.9,724.3 351.0,724.2 355.0,724.1 359.0,724.0 363.1,723.8 367.1,723.6 371.1,723.3 375.2,722.9 379.2,722.5 383.3,721.8 387.3,721.0 391.3,719.9 395.4,718.4 399.4,716.3 403.4,713.5 407.5,709.6 411.5,704.6 415.6,697.9 419.6,689.2 423.6,678.2 427.7,664.8 431.7,649.1 435.7,632.2 439.8,615.2 443.8,599.8 447.9,586.9 451.9,577.1 455.9,568.6 460.0,562.4 464.0,557.9 468.0,554.6 472.1,552.1 476.1,550.2 480.2,548.7 484.2,547.4 488.2,546.4 492.3,545.5 496.3,544.8 500.3,544.2 504.4,543.6 508.4,543.0 512.5,542.6 516.5,542.1 520.5,541.6 524.6,541.2" fill="none" stroke="#149a3e" stroke-width="1.05" stroke-opacity="0.85" stroke-linejoin="round"/>
<polyline points="169.3,727.8 173.3,726.6 177.3,725.8 181.4,725.3 185.4,724.9 189.5,724.7 193.5,724.5 197.5,724.4 201.6,724.4 205.6,724.4 209.6,724.4 213.7,724.4 217.7,724.5 221.8,724.5 225.8,724.5 229.8,724.5 233.9,724.4 237.9,724.4 241.9,724.3 246.0,724.2 250.0,724.1 254.1,724.1 258.1,724.1 262.1,724.1 266.2,724.1 270.2,724.2 274.2,724.3 278.3,724.3 282.3,724.3 286.4,724.3 290.4,724.3 294.4,724.3 298.5,724.2 302.5,724.2 306.5,724.2 310.6,724.2 314.6,724.2 318.7,724.2 322.7,724.3 326.7,724.4 330.8,724.4 334.8,724.4 338.8,724.5 342.9,724.4 346.9,724.4 351.0,724.2 355.0,724.1 359.0,723.9 363.1,723.7 367.1,723.5 371.1,723.3 375.2,723.0 379.2,722.6 383.3,722.0 387.3,721.2 391.3,720.2 395.4,718.7 399.4,716.7 403.4,714.0 407.5,710.3 411.5,705.5 415.6,699.1 419.6,690.8 423.6,680.4 427.7,667.5 431.7,652.4 435.7,635.9 439.8,619.3 443.8,603.9 447.9,590.9 451.9,580.9 455.9,572.3 460.0,565.8 464.0,561.0 468.0,557.5 472.1,554.8 476.1,552.8 480.2,551.2 484.2,549.9 488.2,548.8 492.3,547.9 496.3,547.1 500.3,546.4 504.4,545.8 508.4,545.2 512.5,544.6 516.5,544.0 520.5,543.5 524.6,543.0" fill="none" stroke="#149a3e" stroke-width="1.05" stroke-opacity="0.85" stroke-linejoin="round"/>
<polyline points="169.3,726.9 173.3,726.0 177.3,725.5 181.4,725.1 185.4,724.8 189.5,724.7 193.5,724.5 197.5,724.4 201.6,724.3 205.6,724.3 209.6,724.3 213.7,724.3 217.7,724.3 221.8,724.3 225.8,724.3 229.8,724.4 233.9,724.4 237.9,724.3 241.9,724.3 246.0,724.3 250.0,724.2 254.1,724.2 258.1,724.1 262.1,724.1 266.2,724.1 270.2,724.2 274.2,724.2 278.3,724.3 282.3,724.3 286.4,724.4 290.4,724.4 294.4,724.4 298.5,724.4 302.5,724.4 306.5,724.3 310.6,724.3 314.6,724.3 318.7,724.3 322.7,724.3 326.7,724.3 330.8,724.3 334.8,724.4 338.8,724.4 342.9,724.4 346.9,724.4 351.0,724.4 355.0,724.3 359.0,724.3 363.1,724.2 367.1,724.1 371.1,724.1 375.2,724.0 379.2,724.0 383.3,723.9 387.3,723.9 391.3,723.8 395.4,723.7 399.4,723.5 403.4,723.2 407.5,722.8 411.5,722.2 415.6,721.4 419.6,720.4 423.6,719.0 427.7,717.1 431.7,714.7 435.7,711.3 439.8,706.9 443.8,701.0 447.9,693.3 451.9,683.3 455.9,670.8 460.0,655.8 464.0,638.7 468.0,620.7 472.1,603.4 476.1,588.2 480.2,575.9 484.2,566.3 488.2,558.5 492.3,552.8 496.3,548.8 500.3,545.8 504.4,543.6 508.4,541.9 512.5,540.6 516.5,539.4 520.5,538.5 524.6,537.6" fill="none" stroke="#149a3e" stroke-width="1.05" stroke-opacity="0.85" stroke-linejoin="round"/>
<polyline points="169.3,727.0 173.3,726.1 177.3,725.5 181.4,725.1 185.4,724.8 189.5,724.6 193.5,724.5 197.5,724.4 201.6,724.3 205.6,724.3 209.6,724.2 213.7,724.2 217.7,724.3 221.8,724.3 225.8,724.3 229.8,724.3 233.9,724.3 237.9,724.3 241.9,724.3 246.0,724.2 250.0,724.2 254.1,724.2 258.1,724.1 262.1,724.2 266.2,724.2 270.2,724.2 274.2,724.3 278.3,724.3 282.3,724.4 286.4,724.4 290.4,724.4 294.4,724.4 298.5,724.4 302.5,724.4 306.5,724.3 310.6,724.3 314.6,724.3 318.7,724.3 322.7,724.3 326.7,724.3 330.8,724.3 334.8,724.4 338.8,724.4 342.9,724.4 346.9,724.4 351.0,724.3 355.0,724.3 359.0,724.2 363.1,724.2 367.1,724.1 371.1,724.0 375.2,724.0 379.2,724.0 383.3,723.9 387.3,723.9 391.3,723.8 395.4,723.7 399.4,723.5 403.4,723.3 407.5,722.9 411.5,722.3 415.6,721.6 419.6,720.6 423.6,719.3 427.7,717.5 431.7,715.2 435.7,712.0 439.8,707.8 443.8,702.2 447.9,694.8 451.9,685.3 455.9,673.3 460.0,658.8 464.0,642.3 468.0,624.7 472.1,607.6 476.1,592.4 480.2,580.2 484.2,570.6 488.2,562.8 492.3,557.2 496.3,553.1 500.3,550.2 504.4,548.1 508.4,546.5 512.5,545.2 516.5,544.1 520.5,543.2 524.6,542.3" fill="none" stroke="#149a3e" stroke-width="1.05" stroke-opacity="0.85" stroke-linejoin="round"/>
<polyline points="169.3,727.7 173.3,726.5 177.3,725.8 181.4,725.3 185.4,725.1 189.5,724.8 193.5,724.7 197.5,724.5 201.6,724.4 205.6,724.3 209.6,724.2 213.7,724.2 217.7,724.1 221.8,724.1 225.8,724.1 229.8,724.2 233.9,724.2 237.9,724.3 241.9,724.3 246.0,724.3 250.0,724.3 254.1,724.3 258.1,724.3 262.1,724.2 266.2,724.2 270.2,724.2 274.2,724.2 278.3,724.2 282.3,724.3 286.4,724.3 290.4,724.4 294.4,724.5 298.5,724.5 302.5,724.5 306.5,724.5 310.6,724.5 314.6,724.4 318.7,724.3 322.7,724.3 326.7,724.2 330.8,724.2 334.8,724.2 338.8,724.2 342.9,724.3 346.9,724.3 351.0,724.3 355.0,724.3 359.0,724.3 363.1,724.3 367.1,724.2 371.1,724.1 375.2,724.0 379.2,723.9 383.3,723.9 387.3,723.8 391.3,723.7 395.4,723.6 399.4,723.5 403.4,723.3 407.5,723.0 411.5,722.5 415.6,721.9 419.6,721.0 423.6,719.7 427.7,718.1 431.7,715.8 435.7,712.7 439.8,708.7 443.8,703.4 447.9,696.4 451.9,687.3 455.9,675.9 460.0,662.1 464.0,646.1 468.0,629.1 472.1,612.2 476.1,597.1 480.2,584.8 484.2,575.2 488.2,567.3 492.3,561.6 496.3,557.5 500.3,554.6 504.4,552.4 508.4,550.9 512.5,549.7 516.5,548.7 520.5,547.9 524.6,547.2" fill="none" stroke="#149a3e" stroke-width="1.05" stroke-opacity="0.85" stroke-linejoin="round"/>
<polyline points="169.3,728.7 173.3,727.1 177.3,726.1 181.4,725.5 185.4,725.2 189.5,724.9 193.5,724.8 197.5,724.7 201.6,724.6 205.6,724.5 209.6,724.3 213.7,724.2 217.7,724.1 221.8,724.0 225.8,724.0 229.8,724.0 233.9,724.1 237.9,724.1 241.9,724.2 246.0,724.3 250.0,724.4 254.1,724.4 258.1,724.4 262.1,724.4 266.2,724.3 270.2,724.3 274.2,724.2 278.3,724.2 282.3,724.2 286.4,724.2 290.4,724.3 294.4,724.4 298.5,724.5 302.5,724.5 306.5,724.6 310.6,724.6 314.6,724.6 318.7,724.5 322.7,724.4 326.7,724.3 330.8,724.2 334.8,724.2 338.8,724.1 342.9,724.1 346.9,724.1 351.0,724.2 355.0,724.3 359.0,724.3 363.1,724.3 367.1,724.3 371.1,724.3 375.2,724.2 379.2,724.2 383.3,724.1 387.3,724.0 391.3,724.0 395.4,723.9 399.4,723.9 403.4,724.0 407.5,724.0 411.5,724.0 415.6,724.0 419.6,723.8 423.6,723.6 427.7,723.3 431.7,722.8 435.7,722.1 439.8,721.2 443.8,720.0 447.9,718.4 451.9,716.4 455.9,713.6 460.0,709.9 464.0,705.0 468.0,698.5 472.1,690.0 476.1,679.1 480.2,665.5 484.2,649.5 488.2,631.6 492.3,613.3 496.3,596.1 500.3,581.5 504.4,570.0 508.4,561.0 512.5,554.4 516.5,549.9 520.5,546.7 524.6,544.5" fill="none" stroke="#149a3e" stroke-width="1.05" stroke-opacity="0.85" stroke-linejoin="round"/>
<polyline points="169.3,726.8 173.3,725.8 177.3,725.2 181.4,724.8 185.4,724.6 189.5,724.5 193.5,724.4 197.5,724.4 201.6,724.4 205.6,724.4 209.6,724.4 213.7,724.3 217.7,724.3 221.8,724.3 225.8,724.2 229.8,724.2 233.9,724.2 237.9,724.2 241.9,724.3 246.0,724.3 250.0,724.4 254.1,724.4 258.1,724.5 262.1,724.5 266.2,724.5 270.2,724.4 274.2,724.4 278.3,724.3 282.3,724.3 286.4,724.2 290.4,724.2 294.4,724.2 298.5,724.2 302.5,724.3 306.5,724.3 310.6,724.3 314.6,724.3 318.7,724.3 322.7,724.3 326.7,724.3 330.8,724.2 334.8,724.2 338.8,724.2 342.9,724.1 346.9,724.1 351.0,724.2 355.0,724.2 359.0,724.3 363.1,724.3 367.1,724.4 371.1,724.4 375.2,724.4 379.2,724.4 383.3,724.4 387.3,724.3 391.3,724.3 395.4,724.2 399.4,724.1 403.4,724.1 407.5,724.0 411.5,724.0 415.6,723.9 419.6,723.7 423.6,723.5 427.7,723.2 431.7,722.8 435.7,722.2 439.8,721.4 443.8,720.3 447.9,718.9 451.9,717.0 455.9,714.4 460.0,711.0 464.0,706.4 468.0,700.4 472.1,692.6 476.1,682.5 480.2,669.8 484.2,654.7 488.2,637.5 492.3,619.6 496.3,602.4 500.3,587.3 504.4,575.3 508.4,566.0 512.5,558.9 516.5,553.9 520.5,550.5 524.6,548.0" fill="none" stroke="#149a3e" stroke-width="1.05" stroke-opacity="0.85" stroke-linejoin="round"/>
<polyline points="169.3,727.2 173.3,726.2 177.3,725.6 181.4,725.2 185.4,724.9 189.5,724.8 193.5,724.6 197.5,724.5 201.6,724.4 205.6,724.3 209.6,724.3 213.7,724.3 217.7,724.3 221.8,724.3 225.8,724.3 229.8,724.4 233.9,724.4 237.9,724.4 241.9,724.4 246.0,724.3 250.0,724.3 254.1,724.2 258.1,724.2 262.1,724.1 266.2,724.1 270.2,724.1 274.2,724.1 278.3,724.2 282.3,724.2 286.4,724.3 290.4,724.4 294.4,724.4 298.5,724.4 302.5,724.4 306.5,724.4 310.6,724.3 314.6,724.3 318.7,724.3 322.7,724.3 326.7,724.3 330.8,724.3 334.8,724.3 338.8,724.4 342.9,724.4 346.9,724.5 351.0,724.5 355.0,724.5 359.0,724.4 363.1,724.4 367.1,724.3 371.1,724.2 375.2,724.2 379.2,724.1 383.3,724.1 387.3,724.1 391.3,724.1 395.4,724.1 399.4,724.1 403.4,724.1 407.5,724.0 411.5,723.9 415.6,723.7 419.6,723.5 423.6,723.2 427.7,722.9 431.7,722.4 435.7,721.8 439.8,721.0 443.8,720.0 447.9,718.6 451.9,716.8 455.9,714.3 460.0,711.0 464.0,706.7 468.0,700.9 472.1,693.4 476.1,683.9 480.2,672.1 484.2,658.1 488.2,642.1 492.3,625.2 496.3,608.5 500.3,593.5 504.4,581.1 508.4,571.3 512.5,563.4 516.5,557.8 520.5,553.7 524.6,550.8" fill="none" stroke="#149a3e" stroke-width="1.05" stroke-opacity="0.85" stroke-linejoin="round"/>
<polyline points="169.3,728.4 173.3,727.0 177.3,726.1 181.4,725.4 185.4,725.0 189.5,724.7 193.5,724.4 197.5,724.3 201.6,724.2 205.6,724.1 209.6,724.1 213.7,724.2 217.7,724.2 221.8,724.3 225.8,724.3 229.8,724.4 233.9,724.3 237.9,724.3 241.9,724.3 246.0,724.2 250.0,724.2 254.1,724.2 258.1,724.2 262.1,724.2 266.2,724.2 270.2,724.3 274.2,724.4 278.3,724.5 282.3,724.5 286.4,724.6 290.4,724.6 294.4,724.5 298.5,724.5 302.5,724.4 306.5,724.3 310.6,724.2 314.6,724.2 318.7,724.2 322.7,724.2 326.7,724.2 330.8,724.3 334.8,724.3 338.8,724.4 342.9,724.4 346.9,724.3 351.0,724.3 355.0,724.2 359.0,724.1 363.1,724.0 367.1,724.0 371.1,723.9 375.2,724.0 379.2,724.0 383.3,724.0 387.3,724.1 391.3,724.1 395.4,724.1 399.4,724.0 403.4,723.9 407.5,723.7 411.5,723.4 415.6,723.0 419.6,722.6 423.6,722.1 427.7,721.5 431.7,720.8 435.7,719.9 439.8,718.8 443.8,717.4 447.9,715.5 451.9,713.1 455.9,710.1 460.0,706.2 464.0,701.4 468.0,695.5 472.1,688.3 476.1,679.6 480.2,669.5 484.2,658.1 488.2,645.8 492.3,632.9 496.3,620.3 500.3,608.7 504.4,598.5 508.4,589.9 512.5,582.6 516.5,576.9 520.5,572.5 524.6,569.2" fill="none" stroke="#149a3e" stroke-width="1.05" stroke-opacity="0.85" stroke-linejoin="round"/>
<polyline points="169.3,727.3 173.3,726.3 177.3,725.6 181.4,725.2 185.4,725.0 189.5,724.8 193.5,724.7 197.5,724.6 201.6,724.5 205.6,724.4 209.6,724.3 213.7,724.2 217.7,724.2 221.8,724.1 225.8,724.1 229.8,724.2 233.9,724.2 237.9,724.2 241.9,724.3 246.0,724.3 250.0,724.3 254.1,724.3 258.1,724.3 262.1,724.3 266.2,724.2 270.2,724.2 274.2,724.2 278.3,724.2 282.3,724.2 286.4,724.3 290.4,724.3 294.4,724.4 298.5,724.5 302.5,724.5 306.5,724.5 310.6,724.5 314.6,724.5 318.7,724.4 322.7,724.3 326.7,724.3 330.8,724.2 334.8,724.2 338.8,724.2 342.9,724.2 346.9,724.3 351.0,724.3 355.0,724.3 359.0,724.4 363.1,724.4 367.1,724.3 371.1,724.3 375.2,724.2 379.2,724.2 383.3,724.1 387.3,724.1 391.3,724.1 395.4,724.1 399.4,724.2 403.4,724.2 407.5,724.3 411.5,724.4 415.6,724.4 419.6,724.4 423.6,724.4 427.7,724.4 431.7,724.3 435.7,724.2 439.8,724.2 443.8,724.1 447.9,724.0 451.9,724.0 455.9,723.9 460.0,723.8 464.0,723.6 468.0,723.3 472.1,723.0 476.1,722.4 480.2,721.7 484.2,720.7 488.2,719.3 492.3,717.5 496.3,715.0 500.3,711.8 504.4,707.5 508.4,701.8 512.5,694.4 516.5,684.7 520.5,672.5 524.6,657.6" fill="none" stroke="#149a3e" stroke-width="1.05" stroke-opacity="0.85" stroke-linejoin="round"/>
<polyline points="169.3,726.9 173.3,726.0 177.3,725.4 181.4,725.1 185.4,724.9 189.5,724.7 193.5,724.7 197.5,724.6 201.6,724.5 205.6,724.5 209.6,724.4 213.7,724.3 217.7,724.3 221.8,724.2 225.8,724.2 229.8,724.2 233.9,724.3 237.9,724.3 241.9,724.3 246.0,724.4 250.0,724.4 254.1,724.3 258.1,724.3 262.1,724.3 266.2,724.2 270.2,724.2 274.2,724.1 278.3,724.1 282.3,724.1 286.4,724.2 290.4,724.2 294.4,724.3 298.5,724.3 302.5,724.4 306.5,724.4 310.6,724.4 314.6,724.4 318.7,724.4 322.7,724.4 326.7,724.3 330.8,724.3 334.8,724.3 338.8,724.3 342.9,724.3 346.9,724.3 351.0,724.4 355.0,724.4 359.0,724.4 363.1,724.4 367.1,724.4 371.1,724.4 375.2,724.3 379.2,724.3 383.3,724.2 387.3,724.2 391.3,724.1 395.4,724.1 399.4,724.1 403.4,724.2 407.5,724.2 411.5,724.3 415.6,724.3 419.6,724.3 423.6,724.3 427.7,724.3 431.7,724.3 435.7,724.3 439.8,724.2 443.8,724.2 447.9,724.2 451.9,724.2 455.9,724.3 460.0,724.3 464.0,724.4 468.0,724.4 472.1,724.5 476.1,724.5 480.2,724.5 484.2,724.5 488.2,724.4 492.3,724.3 496.3,724.3 500.3,724.2 504.4,724.2 508.4,724.2 512.5,724.2 516.5,724.2 520.5,724.3 524.6,724.3" fill="none" stroke="#149a3e" stroke-width="1.3" stroke-opacity="0.85" stroke-linejoin="round"/>
<polyline points="169.3,727.8 173.3,726.6 177.3,725.7 181.4,725.2 185.4,724.8 189.5,724.5 193.5,724.4 197.5,724.3 201.6,724.3 205.6,724.3 209.6,724.3 213.7,724.4 217.7,724.5 221.8,724.5 225.8,724.5 229.8,724.5 233.9,724.5 237.9,724.5 241.9,724.4 246.0,724.3 250.0,724.3 254.1,724.2 258.1,724.2 262.1,724.2 266.2,724.3 270.2,724.3 274.2,724.4 278.3,724.4 282.3,724.4 286.4,724.4 290.4,724.3 294.4,724.3 298.5,724.2 302.5,724.1 306.5,724.1 310.6,724.1 314.6,724.1 318.7,724.1 322.7,724.2 326.7,724.3 330.8,724.3 334.8,724.4 338.8,724.4 342.9,724.4 346.9,724.4 351.0,724.4 355.0,724.3 359.0,724.3 363.1,724.3 367.1,724.3 371.1,724.3 375.2,724.3 379.2,724.4 383.3,724.4 387.3,724.5 391.3,724.5 395.4,724.5 399.4,724.5 403.4,724.4 407.5,724.3 411.5,724.3 415.6,724.2 419.6,724.1 423.6,724.1 427.7,724.1 431.7,724.1 435.7,724.2 439.8,724.2 443.8,724.3 447.9,724.3 451.9,724.3 455.9,724.3 460.0,724.3 464.0,724.3 468.0,724.2 472.1,724.2 476.1,724.2 480.2,724.2 484.2,724.2 488.2,724.3 492.3,724.3 496.3,724.4 500.3,724.5 504.4,724.5 508.4,724.5 512.5,724.5 516.5,724.5 520.5,724.4 524.6,724.4" fill="none" stroke="#149a3e" stroke-width="1.3" stroke-opacity="0.85" stroke-linejoin="round"/>
<polyline points="169.3,728.5 173.3,727.0 177.3,726.1 181.4,725.5 185.4,725.2 189.5,725.0 193.5,724.9 197.5,724.7 201.6,724.6 205.6,724.5 209.6,724.4 213.7,724.2 217.7,724.2 221.8,724.1 225.8,724.1 229.8,724.1 233.9,724.1 237.9,724.2 241.9,724.3 246.0,724.3 250.0,724.3 254.1,724.3 258.1,724.3 262.1,724.3 266.2,724.2 270.2,724.1 274.2,724.1 278.3,724.1 282.3,724.1 286.4,724.2 290.4,724.3 294.4,724.4 298.5,724.5 302.5,724.5 306.5,724.6 310.6,724.6 314.6,724.6 318.7,724.5 322.7,724.4 326.7,724.3 330.8,724.3 334.8,724.2 338.8,724.2 342.9,724.2 346.9,724.3 351.0,724.3 355.0,724.4 359.0,724.4 363.1,724.4 367.1,724.4 371.1,724.3 375.2,724.2 379.2,724.2 383.3,724.1 387.3,724.0 391.3,724.0 395.4,724.0 399.4,724.1 403.4,724.2 407.5,724.3 411.5,724.3 415.6,724.4 419.6,724.5 423.6,724.5 427.7,724.5 431.7,724.4 435.7,724.4 439.8,724.3 443.8,724.3 447.9,724.3 451.9,724.3 455.9,724.3 460.0,724.4 464.0,724.4 468.0,724.5 472.1,724.5 476.1,724.5 480.2,724.5 484.2,724.4 488.2,724.4 492.3,724.3 496.3,724.2 500.3,724.1 504.4,724.0 508.4,724.0 512.5,724.1 516.5,724.1 520.5,724.2 524.6,724.3" fill="none" stroke="#149a3e" stroke-width="1.3" stroke-opacity="0.85" stroke-linejoin="round"/>
<polyline points="169.3,729.2 173.3,727.3 177.3,726.2 181.4,725.5 185.4,725.1 189.5,724.9 193.5,724.8 197.5,724.8 201.6,724.8 205.6,724.7 209.6,724.7 213.7,724.6 217.7,724.5 221.8,724.3 225.8,724.2 229.8,724.2 233.9,724.1 237.9,724.1 241.9,724.2 246.0,724.2 250.0,724.3 254.1,724.3 258.1,724.4 262.1,724.4 266.2,724.3 270.2,724.3 274.2,724.2 278.3,724.1 282.3,724.0 286.4,724.0 290.4,724.0 294.4,724.1 298.5,724.2 302.5,724.3 306.5,724.4 310.6,724.5 314.6,724.6 318.7,724.6 322.7,724.6 326.7,724.5 330.8,724.5 334.8,724.4 338.8,724.3 342.9,724.3 346.9,724.2 351.0,724.3 355.0,724.3 359.0,724.4 363.1,724.4 367.1,724.5 371.1,724.5 375.2,724.5 379.2,724.4 383.3,724.3 387.3,724.2 391.3,724.1 395.4,724.0 399.4,724.0 403.4,724.0 407.5,724.0 411.5,724.1 415.6,724.1 419.6,724.2 423.6,724.3 427.7,724.4 431.7,724.4 435.7,724.4 439.8,724.4 443.8,724.3 447.9,724.3 451.9,724.2 455.9,724.2 460.0,724.2 464.0,724.3 468.0,724.3 472.1,724.4 476.1,724.5 480.2,724.6 484.2,724.6 488.2,724.6 492.3,724.6 496.3,724.5 500.3,724.4 504.4,724.3 508.4,724.2 512.5,724.1 516.5,724.1 520.5,724.1 524.6,724.1" fill="none" stroke="#149a3e" stroke-width="1.3" stroke-opacity="0.85" stroke-linejoin="round"/>
<line x1="169.3" y1="709.0" x2="524.6" y2="709.0" stroke="#6cc9dc" stroke-width="2"/>
<rect x="161.7" y="520.6" width="382.3" height="212.60000000000002" fill="none" stroke="#4d4d4d" stroke-width="1.6"/>
<line x1="161.2" y1="729.6" x2="161.2" y2="736.8000000000001" stroke="#444" stroke-width="1.2"/>
<line x1="161.2" y1="517.0" x2="161.2" y2="524.2" stroke="#444" stroke-width="1.2"/>
<line x1="177.3" y1="731.1" x2="177.3" y2="735.3000000000001" stroke="#444" stroke-width="1.2"/>
<line x1="177.3" y1="518.5" x2="177.3" y2="522.7" stroke="#444" stroke-width="1.2"/>
<line x1="193.5" y1="731.1" x2="193.5" y2="735.3000000000001" stroke="#444" stroke-width="1.2"/>
<line x1="193.5" y1="518.5" x2="193.5" y2="522.7" stroke="#444" stroke-width="1.2"/>
<line x1="209.6" y1="731.1" x2="209.6" y2="735.3000000000001" stroke="#444" stroke-width="1.2"/>
<line x1="209.6" y1="518.5" x2="209.6" y2="522.7" stroke="#444" stroke-width="1.2"/>
<line x1="225.8" y1="731.1" x2="225.8" y2="735.3000000000001" stroke="#444" stroke-width="1.2"/>
<line x1="225.8" y1="518.5" x2="225.8" y2="522.7" stroke="#444" stroke-width="1.2"/>
<line x1="241.9" y1="729.6" x2="241.9" y2="736.8000000000001" stroke="#444" stroke-width="1.2"/>
<line x1="241.9" y1="517.0" x2="241.9" y2="524.2" stroke="#444" stroke-width="1.2"/>
<line x1="258.1" y1="731.1" x2="258.1" y2="735.3000000000001" stroke="#444" stroke-width="1.2"/>
<line x1="258.1" y1="518.5" x2="258.1" y2="522.7" stroke="#444" stroke-width="1.2"/>
<line x1="274.2" y1="731.1" x2="274.2" y2="735.3000000000001" stroke="#444" stroke-width="1.2"/>
<line x1="274.2" y1="518.5" x2="274.2" y2="522.7" stroke="#444" stroke-width="1.2"/>
<line x1="290.4" y1="731.1" x2="290.4" y2="735.3000000000001" stroke="#444" stroke-width="1.2"/>
<line x1="290.4" y1="518.5" x2="290.4" y2="522.7" stroke="#444" stroke-width="1.2"/>
<line x1="306.5" y1="731.1" x2="306.5" y2="735.3000000000001" stroke="#444" stroke-width="1.2"/>
<line x1="306.5" y1="518.5" x2="306.5" y2="522.7" stroke="#444" stroke-width="1.2"/>
<line x1="322.7" y1="729.6" x2="322.7" y2="736.8000000000001" stroke="#444" stroke-width="1.2"/>
<line x1="322.7" y1="517.0" x2="322.7" y2="524.2" stroke="#444" stroke-width="1.2"/>
<line x1="338.8" y1="731.1" x2="338.8" y2="735.3000000000001" stroke="#444" stroke-width="1.2"/>
<line x1="338.8" y1="518.5" x2="338.8" y2="522.7" stroke="#444" stroke-width="1.2"/>
<line x1="355.0" y1="731.1" x2="355.0" y2="735.3000000000001" stroke="#444" stroke-width="1.2"/>
<line x1="355.0" y1="518.5" x2="355.0" y2="522.7" stroke="#444" stroke-width="1.2"/>
<line x1="371.1" y1="731.1" x2="371.1" y2="735.3000000000001" stroke="#444" stroke-width="1.2"/>
<line x1="371.1" y1="518.5" x2="371.1" y2="522.7" stroke="#444" stroke-width="1.2"/>
<line x1="387.3" y1="731.1" x2="387.3" y2="735.3000000000001" stroke="#444" stroke-width="1.2"/>
<line x1="387.3" y1="518.5" x2="387.3" y2="522.7" stroke="#444" stroke-width="1.2"/>
<line x1="403.4" y1="729.6" x2="403.4" y2="736.8000000000001" stroke="#444" stroke-width="1.2"/>
<line x1="403.4" y1="517.0" x2="403.4" y2="524.2" stroke="#444" stroke-width="1.2"/>
<line x1="419.6" y1="731.1" x2="419.6" y2="735.3000000000001" stroke="#444" stroke-width="1.2"/>
<line x1="419.6" y1="518.5" x2="419.6" y2="522.7" stroke="#444" stroke-width="1.2"/>
<line x1="435.7" y1="731.1" x2="435.7" y2="735.3000000000001" stroke="#444" stroke-width="1.2"/>
<line x1="435.7" y1="518.5" x2="435.7" y2="522.7" stroke="#444" stroke-width="1.2"/>
<line x1="451.9" y1="731.1" x2="451.9" y2="735.3000000000001" stroke="#444" stroke-width="1.2"/>
<line x1="451.9" y1="518.5" x2="451.9" y2="522.7" stroke="#444" stroke-width="1.2"/>
<line x1="468.0" y1="731.1" x2="468.0" y2="735.3000000000001" stroke="#444" stroke-width="1.2"/>
<line x1="468.0" y1="518.5" x2="468.0" y2="522.7" stroke="#444" stroke-width="1.2"/>
<line x1="484.2" y1="729.6" x2="484.2" y2="736.8000000000001" stroke="#444" stroke-width="1.2"/>
<line x1="484.2" y1="517.0" x2="484.2" y2="524.2" stroke="#444" stroke-width="1.2"/>
<line x1="500.3" y1="731.1" x2="500.3" y2="735.3000000000001" stroke="#444" stroke-width="1.2"/>
<line x1="500.3" y1="518.5" x2="500.3" y2="522.7" stroke="#444" stroke-width="1.2"/>
<line x1="516.5" y1="731.1" x2="516.5" y2="735.3000000000001" stroke="#444" stroke-width="1.2"/>
<line x1="516.5" y1="518.5" x2="516.5" y2="522.7" stroke="#444" stroke-width="1.2"/>
<line x1="532.6" y1="731.1" x2="532.6" y2="735.3000000000001" stroke="#444" stroke-width="1.2"/>
<line x1="532.6" y1="518.5" x2="532.6" y2="522.7" stroke="#444" stroke-width="1.2"/>
<line x1="159.6" y1="731.9" x2="163.27499999999998" y2="731.9" stroke="#444" stroke-width="1.2"/>
<line x1="542.425" y1="731.9" x2="545.26" y2="731.9" stroke="#444" stroke-width="1.2"/>
<line x1="157.5" y1="724.3" x2="164.85" y2="724.3" stroke="#444" stroke-width="1.2"/>
<line x1="540.85" y1="724.3" x2="546.52" y2="724.3" stroke="#444" stroke-width="1.2"/>
<line x1="159.6" y1="716.7" x2="163.27499999999998" y2="716.7" stroke="#444" stroke-width="1.2"/>
<line x1="542.425" y1="716.7" x2="545.26" y2="716.7" stroke="#444" stroke-width="1.2"/>
<line x1="159.6" y1="709.0" x2="163.27499999999998" y2="709.0" stroke="#444" stroke-width="1.2"/>
<line x1="542.425" y1="709.0" x2="545.26" y2="709.0" stroke="#444" stroke-width="1.2"/>
<line x1="159.6" y1="701.4" x2="163.27499999999998" y2="701.4" stroke="#444" stroke-width="1.2"/>
<line x1="542.425" y1="701.4" x2="545.26" y2="701.4" stroke="#444" stroke-width="1.2"/>
<line x1="157.5" y1="693.8" x2="164.85" y2="693.8" stroke="#444" stroke-width="1.2"/>
<line x1="540.85" y1="693.8" x2="546.52" y2="693.8" stroke="#444" stroke-width="1.2"/>
<line x1="159.6" y1="686.2" x2="163.27499999999998" y2="686.2" stroke="#444" stroke-width="1.2"/>
<line x1="542.425" y1="686.2" x2="545.26" y2="686.2" stroke="#444" stroke-width="1.2"/>
<line x1="159.6" y1="678.5" x2="163.27499999999998" y2="678.5" stroke="#444" stroke-width="1.2"/>
<line x1="542.425" y1="678.5" x2="545.26" y2="678.5" stroke="#444" stroke-width="1.2"/>
<line x1="159.6" y1="670.9" x2="163.27499999999998" y2="670.9" stroke="#444" stroke-width="1.2"/>
<line x1="542.425" y1="670.9" x2="545.26" y2="670.9" stroke="#444" stroke-width="1.2"/>
<line x1="157.5" y1="663.3" x2="164.85" y2="663.3" stroke="#444" stroke-width="1.2"/>
<line x1="540.85" y1="663.3" x2="546.52" y2="663.3" stroke="#444" stroke-width="1.2"/>
<line x1="159.6" y1="655.7" x2="163.27499999999998" y2="655.7" stroke="#444" stroke-width="1.2"/>
<line x1="542.425" y1="655.7" x2="545.26" y2="655.7" stroke="#444" stroke-width="1.2"/>
<line x1="159.6" y1="648.0" x2="163.27499999999998" y2="648.0" stroke="#444" stroke-width="1.2"/>
<line x1="542.425" y1="648.0" x2="545.26" y2="648.0" stroke="#444" stroke-width="1.2"/>
<line x1="159.6" y1="640.4" x2="163.27499999999998" y2="640.4" stroke="#444" stroke-width="1.2"/>
<line x1="542.425" y1="640.4" x2="545.26" y2="640.4" stroke="#444" stroke-width="1.2"/>
<line x1="157.5" y1="632.8" x2="164.85" y2="632.8" stroke="#444" stroke-width="1.2"/>
<line x1="540.85" y1="632.8" x2="546.52" y2="632.8" stroke="#444" stroke-width="1.2"/>
<line x1="159.6" y1="625.2" x2="163.27499999999998" y2="625.2" stroke="#444" stroke-width="1.2"/>
<line x1="542.425" y1="625.2" x2="545.26" y2="625.2" stroke="#444" stroke-width="1.2"/>
<line x1="159.6" y1="617.5" x2="163.27499999999998" y2="617.5" stroke="#444" stroke-width="1.2"/>
<line x1="542.425" y1="617.5" x2="545.26" y2="617.5" stroke="#444" stroke-width="1.2"/>
<line x1="159.6" y1="609.9" x2="163.27499999999998" y2="609.9" stroke="#444" stroke-width="1.2"/>
<line x1="542.425" y1="609.9" x2="545.26" y2="609.9" stroke="#444" stroke-width="1.2"/>
<line x1="157.5" y1="602.3" x2="164.85" y2="602.3" stroke="#444" stroke-width="1.2"/>
<line x1="540.85" y1="602.3" x2="546.52" y2="602.3" stroke="#444" stroke-width="1.2"/>
<line x1="159.6" y1="594.7" x2="163.27499999999998" y2="594.7" stroke="#444" stroke-width="1.2"/>
<line x1="542.425" y1="594.7" x2="545.26" y2="594.7" stroke="#444" stroke-width="1.2"/>
<line x1="159.6" y1="587.0" x2="163.27499999999998" y2="587.0" stroke="#444" stroke-width="1.2"/>
<line x1="542.425" y1="587.0" x2="545.26" y2="587.0" stroke="#444" stroke-width="1.2"/>
<line x1="159.6" y1="579.4" x2="163.27499999999998" y2="579.4" stroke="#444" stroke-width="1.2"/>
<line x1="542.425" y1="579.4" x2="545.26" y2="579.4" stroke="#444" stroke-width="1.2"/>
<line x1="157.5" y1="571.8" x2="164.85" y2="571.8" stroke="#444" stroke-width="1.2"/>
<line x1="540.85" y1="571.8" x2="546.52" y2="571.8" stroke="#444" stroke-width="1.2"/>
<line x1="159.6" y1="564.2" x2="163.27499999999998" y2="564.2" stroke="#444" stroke-width="1.2"/>
<line x1="542.425" y1="564.2" x2="545.26" y2="564.2" stroke="#444" stroke-width="1.2"/>
<line x1="159.6" y1="556.5" x2="163.27499999999998" y2="556.5" stroke="#444" stroke-width="1.2"/>
<line x1="542.425" y1="556.5" x2="545.26" y2="556.5" stroke="#444" stroke-width="1.2"/>
<line x1="159.6" y1="548.9" x2="163.27499999999998" y2="548.9" stroke="#444" stroke-width="1.2"/>
<line x1="542.425" y1="548.9" x2="545.26" y2="548.9" stroke="#444" stroke-width="1.2"/>
<line x1="157.5" y1="541.3" x2="164.85" y2="541.3" stroke="#444" stroke-width="1.2"/>
<line x1="540.85" y1="541.3" x2="546.52" y2="541.3" stroke="#444" stroke-width="1.2"/>
<line x1="159.6" y1="533.7" x2="163.27499999999998" y2="533.7" stroke="#444" stroke-width="1.2"/>
<line x1="542.425" y1="533.7" x2="545.26" y2="533.7" stroke="#444" stroke-width="1.2"/>
<line x1="159.6" y1="526.0" x2="163.27499999999998" y2="526.0" stroke="#444" stroke-width="1.2"/>
<line x1="542.425" y1="526.0" x2="545.26" y2="526.0" stroke="#444" stroke-width="1.2"/>
<text class="t tk" x="153.39999999999998" y="730.4" text-anchor="end">0</text>
<text class="t tk" x="153.39999999999998" y="699.9" text-anchor="end">200</text>
<text class="t tk" x="153.39999999999998" y="669.4" text-anchor="end">400</text>
<text class="t tk" x="153.39999999999998" y="638.9" text-anchor="end">600</text>
<text class="t tk" x="153.39999999999998" y="608.4" text-anchor="end">800</text>
<text class="t tk" x="153.39999999999998" y="577.9" text-anchor="end">1000</text>
<text class="t tk" x="153.39999999999998" y="547.4" text-anchor="end">1200</text>
<text class="t tk" x="161.8" y="753.2" text-anchor="middle">0</text>
<text class="t tk" x="242.5" y="753.2" text-anchor="middle">10</text>
<text class="t tk" x="323.3" y="753.2" text-anchor="middle">20</text>
<text class="t tk" x="404.0" y="753.2" text-anchor="middle">30</text>
<text class="t tk" x="484.8" y="753.2" text-anchor="middle">40</text>
<text class="t ax" x="362.7" y="776.4" text-anchor="middle">Cycles</text>
<text class="t ax" transform="translate(108.8,618.8) rotate(-90)" text-anchor="middle">RFU</text>
<text class="pt" x="633.7" y="502.5">HeLa, gREL</text>
<line x1="715.6" y1="521" x2="715.6" y2="733" stroke="#666" stroke-width="1.1" stroke-dasharray="1.2 4.3"/>
<line x1="796.4" y1="521" x2="796.4" y2="733" stroke="#666" stroke-width="1.1" stroke-dasharray="1.2 4.3"/>
<line x1="877.2" y1="521" x2="877.2" y2="733" stroke="#666" stroke-width="1.1" stroke-dasharray="1.2 4.3"/>
<line x1="958.0" y1="521" x2="958.0" y2="733" stroke="#666" stroke-width="1.1" stroke-dasharray="1.2 4.3"/>
<line x1="635.2" y1="718.6" x2="1015.6" y2="718.6" stroke="#666" stroke-width="1.1" stroke-dasharray="1.2 4.3"/>
<line x1="635.2" y1="680.5" x2="1015.6" y2="680.5" stroke="#666" stroke-width="1.1" stroke-dasharray="1.2 4.3"/>
<line x1="635.2" y1="642.4" x2="1015.6" y2="642.4" stroke="#666" stroke-width="1.1" stroke-dasharray="1.2 4.3"/>
<line x1="635.2" y1="604.3" x2="1015.6" y2="604.3" stroke="#666" stroke-width="1.1" stroke-dasharray="1.2 4.3"/>
<line x1="635.2" y1="566.2" x2="1015.6" y2="566.2" stroke="#666" stroke-width="1.1" stroke-dasharray="1.2 4.3"/>
<line x1="635.2" y1="528.1" x2="1015.6" y2="528.1" stroke="#666" stroke-width="1.1" stroke-dasharray="1.2 4.3"/>
<polyline points="642.9,727.7 646.9,724.1 651.0,722.0 655.0,720.6 659.0,719.8 663.1,719.3 667.1,719.0 671.2,718.8 675.2,718.7 679.2,718.6 683.3,718.5 687.3,718.3 691.4,718.2 695.4,718.1 699.4,718.0 703.5,717.8 707.5,717.7 711.6,717.5 715.6,717.4 719.6,717.3 723.7,717.2 727.7,717.2 731.8,717.2 735.8,717.3 739.8,717.4 743.9,717.5 747.9,717.7 752.0,717.8 756.0,718.0 760.0,718.2 764.1,718.4 768.1,718.6 772.2,719.0 776.2,719.4 780.2,719.9 784.3,720.5 788.3,721.1 792.4,721.8 796.4,722.2 800.4,722.4 804.5,722.3 808.5,721.6 812.6,720.4 816.6,718.7 820.6,716.2 824.7,712.8 828.7,708.3 832.8,702.2 836.8,694.3 840.8,684.5 844.9,672.9 848.9,660.4 853.0,647.9 857.0,636.2 861.0,625.8 865.1,616.9 869.1,609.2 873.2,602.4 877.2,596.2 881.2,590.4 885.3,584.7 889.3,579.3 893.4,574.0 897.4,568.9 901.4,564.0 905.5,559.5 909.5,555.3 913.6,551.6 917.6,548.2 921.6,545.3 925.7,542.8 929.7,540.6 933.8,538.8 937.8,537.3 941.8,536.0 945.9,535.0 949.9,534.1 954.0,533.4 958.0,532.8 962.0,532.4 966.1,532.0 970.1,531.7 974.2,531.4 978.2,531.2 982.2,531.1 986.3,530.9 990.3,530.8 994.4,530.7 998.4,530.7" fill="none" stroke="#149a3e" stroke-width="1.05" stroke-opacity="0.85" stroke-linejoin="round"/>
<polyline points="642.9,730.0 646.9,725.5 651.0,722.8 655.0,721.1 659.0,720.1 663.1,719.5 667.1,719.1 671.2,718.9 675.2,718.7 679.2,718.6 683.3,718.5 687.3,718.4 691.4,718.2 695.4,718.1 699.4,718.0 703.5,717.8 707.5,717.7 711.6,717.5 715.6,717.4 719.6,717.3 723.7,717.3 727.7,717.2 731.8,717.2 735.8,717.3 739.8,717.4 743.9,717.5 747.9,717.7 752.0,717.8 756.0,718.0 760.0,718.2 764.1,718.3 768.1,718.5 772.2,718.8 776.2,719.1 780.2,719.4 784.3,719.8 788.3,720.3 792.4,720.7 796.4,721.0 800.4,721.1 804.5,720.9 808.5,720.4 812.6,719.5 816.6,718.1 820.6,716.1 824.7,713.4 828.7,709.7 832.8,704.6 836.8,697.8 840.8,689.0 844.9,678.4 848.9,666.5 853.0,654.2 857.0,642.5 861.0,632.0 865.1,622.9 869.1,615.1 873.2,608.4 877.2,602.5 881.2,596.9 885.3,591.7 889.3,586.6 893.4,581.7 897.4,577.0 901.4,572.5 905.5,568.3 909.5,564.3 913.6,560.8 917.6,557.6 921.6,554.8 925.7,552.4 929.7,550.3 933.8,548.6 937.8,547.1 941.8,545.8 945.9,544.8 949.9,544.0 954.0,543.3 958.0,542.7 962.0,542.2 966.1,541.9 970.1,541.6 974.2,541.3 978.2,541.1 982.2,541.0 986.3,540.8 990.3,540.7 994.4,540.6 998.4,540.6" fill="none" stroke="#149a3e" stroke-width="1.05" stroke-opacity="0.85" stroke-linejoin="round"/>
<polyline points="642.9,725.5 646.9,722.8 651.0,721.1 655.0,720.1 659.0,719.5 663.1,719.1 667.1,718.9 671.2,718.7 675.2,718.6 679.2,718.5 683.3,718.4 687.3,718.3 691.4,718.2 695.4,718.1 699.4,718.0 703.5,717.8 707.5,717.7 711.6,717.5 715.6,717.4 719.6,717.3 723.7,717.2 727.7,717.2 731.8,717.2 735.8,717.3 739.8,717.4 743.9,717.5 747.9,717.7 752.0,717.8 756.0,718.0 760.0,718.1 764.1,718.3 768.1,718.4 772.2,718.6 776.2,718.7 780.2,718.9 784.3,719.2 788.3,719.4 792.4,719.6 796.4,719.7 800.4,719.7 804.5,719.6 808.5,719.2 812.6,718.6 816.6,717.6 820.6,716.3 824.7,714.3 828.7,711.6 832.8,707.7 836.8,702.2 840.8,695.0 844.9,685.9 848.9,675.1 853.0,663.5 857.0,651.9 861.0,641.2 865.1,631.8 869.1,624.0 873.2,617.3 877.2,611.6 881.2,606.6 885.3,601.9 889.3,597.5 893.4,593.3 897.4,589.2 901.4,585.3 905.5,581.6 909.5,578.2 913.6,575.1 917.6,572.2 921.6,569.7 925.7,567.5 929.7,565.6 933.8,564.0 937.8,562.6 941.8,561.5 945.9,560.5 949.9,559.8 954.0,559.1 958.0,558.6 962.0,558.1 966.1,557.8 970.1,557.5 974.2,557.3 978.2,557.1 982.2,556.9 986.3,556.8 990.3,556.7 994.4,556.6 998.4,556.6" fill="none" stroke="#149a3e" stroke-width="1.05" stroke-opacity="0.85" stroke-linejoin="round"/>
<polyline points="642.9,727.0 646.9,723.7 651.0,721.7 655.0,720.5 659.0,719.7 663.1,719.3 667.1,719.0 671.2,718.8 675.2,718.7 679.2,718.5 683.3,718.4 687.3,718.3 691.4,718.2 695.4,718.1 699.4,718.0 703.5,717.8 707.5,717.7 711.6,717.5 715.6,717.4 719.6,717.3 723.7,717.3 727.7,717.2 731.8,717.2 735.8,717.3 739.8,717.4 743.9,717.5 747.9,717.7 752.0,717.8 756.0,718.0 760.0,718.1 764.1,718.2 768.1,718.3 772.2,718.4 776.2,718.5 780.2,718.5 784.3,718.5 788.3,718.6 792.4,718.6 796.4,718.6 800.4,718.6 804.5,718.6 808.5,718.6 812.6,718.5 816.6,718.5 820.6,718.5 824.7,718.4 828.7,718.3 832.8,718.1 836.8,717.9 840.8,717.5 844.9,716.8 848.9,715.9 853.0,714.4 857.0,712.2 861.0,708.9 865.1,704.2 869.1,697.7 873.2,689.4 877.2,679.2 881.2,667.8 885.3,656.2 889.3,645.1 893.4,635.3 897.4,626.9 901.4,619.9 905.5,613.9 909.5,608.7 913.6,604.0 917.6,599.6 921.6,595.5 925.7,591.6 929.7,587.8 933.8,584.2 937.8,580.8 941.8,577.6 945.9,574.6 949.9,572.0 954.0,569.5 958.0,567.4 962.0,565.5 966.1,563.9 970.1,562.4 974.2,561.2 978.2,560.2 982.2,559.3 986.3,558.5 990.3,557.9 994.4,557.4 998.4,556.9" fill="none" stroke="#149a3e" stroke-width="1.05" stroke-opacity="0.85" stroke-linejoin="round"/>
<polyline points="642.9,723.9 646.9,721.8 651.0,720.6 655.0,719.8 659.0,719.3 663.1,719.0 667.1,718.8 671.2,718.7 675.2,718.6 679.2,718.5 683.3,718.4 687.3,718.3 691.4,718.2 695.4,718.1 699.4,718.0 703.5,717.8 707.5,717.7 711.6,717.5 715.6,717.4 719.6,717.3 723.7,717.2 727.7,717.2 731.8,717.2 735.8,717.3 739.8,717.4 743.9,717.5 747.9,717.7 752.0,717.8 756.0,718.0 760.0,718.1 764.1,718.2 768.1,718.3 772.2,718.4 776.2,718.5 780.2,718.5 784.3,718.5 788.3,718.6 792.4,718.6 796.4,718.6 800.4,718.6 804.5,718.6 808.5,718.6 812.6,718.6 816.6,718.5 820.6,718.5 824.7,718.4 828.7,718.3 832.8,718.2 836.8,718.0 840.8,717.6 844.9,717.1 848.9,716.2 853.0,714.9 857.0,713.0 861.0,710.1 865.1,705.9 869.1,700.0 873.2,692.3 877.2,682.7 881.2,671.7 885.3,660.2 889.3,649.0 893.4,638.9 897.4,630.2 901.4,622.9 905.5,616.7 909.5,611.4 913.6,606.6 917.6,602.2 921.6,598.1 925.7,594.2 929.7,590.5 933.8,586.9 937.8,583.5 941.8,580.3 945.9,577.3 949.9,574.6 954.0,572.2 958.0,570.0 962.0,568.1 966.1,566.4 970.1,565.0 974.2,563.7 978.2,562.6 982.2,561.7 986.3,560.9 990.3,560.3 994.4,559.8 998.4,559.3" fill="none" stroke="#149a3e" stroke-width="1.05" stroke-opacity="0.85" stroke-linejoin="round"/>
<polyline points="642.9,728.5 646.9,724.6 651.0,722.2 655.0,720.8 659.0,719.9 663.1,719.4 667.1,719.1 671.2,718.8 675.2,718.7 679.2,718.6 683.3,718.5 687.3,718.4 691.4,718.2 695.4,718.1 699.4,718.0 703.5,717.8 707.5,717.7 711.6,717.5 715.6,717.4 719.6,717.3 723.7,717.3 727.7,717.2 731.8,717.2 735.8,717.3 739.8,717.4 743.9,717.5 747.9,717.7 752.0,717.8 756.0,718.0 760.0,718.1 764.1,718.2 768.1,718.3 772.2,718.4 776.2,718.5 780.2,718.5 784.3,718.5 788.3,718.6 792.4,718.6 796.4,718.6 800.4,718.6 804.5,718.6 808.5,718.6 812.6,718.6 816.6,718.6 820.6,718.6 824.7,718.6 828.7,718.6 832.8,718.6 836.8,718.5 840.8,718.5 844.9,718.4 848.9,718.3 853.0,718.1 857.0,717.9 861.0,717.5 865.1,716.9 869.1,716.0 873.2,714.6 877.2,712.4 881.2,709.2 885.3,704.5 889.3,698.0 893.4,689.2 897.4,678.0 901.4,664.9 905.5,650.9 909.5,636.9 913.6,624.1 917.6,612.9 921.6,603.4 925.7,595.4 929.7,588.4 933.8,582.2 937.8,576.6 941.8,571.3 945.9,566.3 949.9,561.6 954.0,557.3 958.0,553.3 962.0,549.7 966.1,546.4 970.1,543.6 974.2,541.2 978.2,539.1 982.2,537.4 986.3,535.9 990.3,534.7 994.4,533.8 998.4,532.9" fill="none" stroke="#149a3e" stroke-width="1.05" stroke-opacity="0.85" stroke-linejoin="round"/>
<polyline points="642.9,723.2 646.9,721.4 651.0,720.3 655.0,719.6 659.0,719.2 663.1,719.0 667.1,718.8 671.2,718.7 675.2,718.6 679.2,718.5 683.3,718.4 687.3,718.3 691.4,718.2 695.4,718.1 699.4,718.0 703.5,717.8 707.5,717.7 711.6,717.5 715.6,717.4 719.6,717.3 723.7,717.2 727.7,717.2 731.8,717.2 735.8,717.3 739.8,717.4 743.9,717.5 747.9,717.7 752.0,717.8 756.0,718.0 760.0,718.1 764.1,718.2 768.1,718.3 772.2,718.4 776.2,718.5 780.2,718.5 784.3,718.5 788.3,718.6 792.4,718.6 796.4,718.6 800.4,718.6 804.5,718.6 808.5,718.6 812.6,718.6 816.6,718.6 820.6,718.6 824.7,718.6 828.7,718.6 832.8,718.6 836.8,718.5 840.8,718.5 844.9,718.4 848.9,718.3 853.0,718.2 857.0,718.0 861.0,717.6 865.1,717.1 869.1,716.2 873.2,714.9 877.2,713.0 881.2,710.1 885.3,705.8 889.3,699.8 893.4,691.5 897.4,681.0 901.4,668.5 905.5,654.8 909.5,641.1 913.6,628.3 917.6,617.1 921.6,607.6 925.7,599.7 929.7,592.9 933.8,586.9 937.8,581.6 941.8,576.6 945.9,571.9 949.9,567.5 954.0,563.4 958.0,559.7 962.0,556.3 966.1,553.3 970.1,550.6 974.2,548.3 978.2,546.3 982.2,544.7 986.3,543.3 990.3,542.1 994.4,541.2 998.4,540.4" fill="none" stroke="#149a3e" stroke-width="1.05" stroke-opacity="0.85" stroke-linejoin="round"/>
<polyline points="642.9,726.2 646.9,723.2 651.0,721.4 655.0,720.3 659.0,719.6 663.1,719.2 667.1,718.9 671.2,718.8 675.2,718.6 679.2,718.5 683.3,718.4 687.3,718.3 691.4,718.2 695.4,718.1 699.4,718.0 703.5,717.8 707.5,717.7 711.6,717.5 715.6,717.4 719.6,717.3 723.7,717.3 727.7,717.2 731.8,717.2 735.8,717.3 739.8,717.4 743.9,717.5 747.9,717.7 752.0,717.8 756.0,718.0 760.0,718.1 764.1,718.2 768.1,718.3 772.2,718.4 776.2,718.5 780.2,718.5 784.3,718.5 788.3,718.6 792.4,718.6 796.4,718.6 800.4,718.6 804.5,718.6 808.5,718.6 812.6,718.6 816.6,718.6 820.6,718.6 824.7,718.6 828.7,718.6 832.8,718.6 836.8,718.5 840.8,718.5 844.9,718.5 848.9,718.4 853.0,718.2 857.0,718.1 861.0,717.8 865.1,717.3 869.1,716.6 873.2,715.5 877.2,713.8 881.2,711.2 885.3,707.5 889.3,702.1 893.4,694.8 897.4,685.1 901.4,673.4 905.5,660.3 909.5,646.8 913.6,633.9 917.6,622.5 921.6,612.8 925.7,604.7 929.7,597.8 933.8,591.8 937.8,586.5 941.8,581.6 945.9,577.0 949.9,572.8 954.0,568.8 958.0,565.1 962.0,561.7 966.1,558.7 970.1,556.1 974.2,553.8 978.2,551.8 982.2,550.1 986.3,548.7 990.3,547.6 994.4,546.6 998.4,545.8" fill="none" stroke="#149a3e" stroke-width="1.05" stroke-opacity="0.85" stroke-linejoin="round"/>
<polyline points="642.9,726.2 646.9,723.2 651.0,721.4 655.0,720.3 659.0,719.6 663.1,719.2 667.1,718.9 671.2,718.8 675.2,718.6 679.2,718.5 683.3,718.4 687.3,718.3 691.4,718.2 695.4,718.1 699.4,718.0 703.5,717.8 707.5,717.7 711.6,717.5 715.6,717.4 719.6,717.3 723.7,717.3 727.7,717.2 731.8,717.2 735.8,717.3 739.8,717.4 743.9,717.5 747.9,717.7 752.0,717.8 756.0,718.0 760.0,718.1 764.1,718.2 768.1,718.3 772.2,718.4 776.2,718.5 780.2,718.5 784.3,718.5 788.3,718.6 792.4,718.6 796.4,718.6 800.4,718.6 804.5,718.6 808.5,718.6 812.6,718.6 816.6,718.6 820.6,718.6 824.7,718.6 828.7,718.6 832.8,718.6 836.8,718.6 840.8,718.6 844.9,718.6 848.9,718.6 853.0,718.6 857.0,718.6 861.0,718.6 865.1,718.5 869.1,718.5 873.2,718.4 877.2,718.4 881.2,718.2 885.3,718.0 889.3,717.7 893.4,717.2 897.4,716.4 901.4,715.2 905.5,713.4 909.5,710.8 913.6,706.9 917.6,701.3 921.6,693.8 925.7,684.3 929.7,673.0 933.8,660.7 937.8,648.5 941.8,637.0 945.9,627.0 949.9,618.4 954.0,611.1 958.0,604.7 962.0,599.0 966.1,593.6 970.1,588.5 974.2,583.5 978.2,578.7 982.2,574.1 986.3,569.7 990.3,565.7 994.4,561.9 998.4,558.5" fill="none" stroke="#149a3e" stroke-width="1.05" stroke-opacity="0.85" stroke-linejoin="round"/>
<polyline points="642.9,729.3 646.9,725.1 651.0,722.5 655.0,721.0 659.0,720.0 663.1,719.5 667.1,719.1 671.2,718.9 675.2,718.7 679.2,718.6 683.3,718.5 687.3,718.4 691.4,718.2 695.4,718.1 699.4,718.0 703.5,717.8 707.5,717.7 711.6,717.5 715.6,717.4 719.6,717.3 723.7,717.3 727.7,717.2 731.8,717.2 735.8,717.3 739.8,717.4 743.9,717.5 747.9,717.7 752.0,717.8 756.0,718.0 760.0,718.1 764.1,718.2 768.1,718.3 772.2,718.4 776.2,718.5 780.2,718.5 784.3,718.5 788.3,718.6 792.4,718.6 796.4,718.6 800.4,718.6 804.5,718.6 808.5,718.6 812.6,718.6 816.6,718.6 820.6,718.6 824.7,718.6 828.7,718.6 832.8,718.6 836.8,718.6 840.8,718.6 844.9,718.6 848.9,718.6 853.0,718.6 857.0,718.6 861.0,718.6 865.1,718.5 869.1,718.5 873.2,718.5 877.2,718.4 881.2,718.3 885.3,718.1 889.3,717.8 893.4,717.4 897.4,716.8 901.4,715.8 905.5,714.3 909.5,712.0 913.6,708.6 917.6,703.8 921.6,697.1 925.7,688.4 929.7,677.8 933.8,665.9 937.8,653.5 941.8,641.8 945.9,631.3 949.9,622.3 954.0,614.7 958.0,608.1 962.0,602.3 966.1,597.0 970.1,592.0 974.2,587.1 978.2,582.5 982.2,578.0 986.3,573.7 990.3,569.7 994.4,566.0 998.4,562.7" fill="none" stroke="#149a3e" stroke-width="1.05" stroke-opacity="0.85" stroke-linejoin="round"/>
<polyline points="642.9,724.7 646.9,722.3 651.0,720.8 655.0,720.0 659.0,719.4 663.1,719.1 667.1,718.9 671.2,718.7 675.2,718.6 679.2,718.5 683.3,718.4 687.3,718.3 691.4,718.2 695.4,718.1 699.4,718.0 703.5,717.8 707.5,717.7 711.6,717.5 715.6,717.4 719.6,717.3 723.7,717.2 727.7,717.2 731.8,717.2 735.8,717.3 739.8,717.4 743.9,717.5 747.9,717.7 752.0,717.8 756.0,718.0 760.0,718.1 764.1,718.2 768.1,718.3 772.2,718.4 776.2,718.5 780.2,718.5 784.3,718.5 788.3,718.6 792.4,718.6 796.4,718.6 800.4,718.6 804.5,718.6 808.5,718.6 812.6,718.6 816.6,718.6 820.6,718.6 824.7,718.6 828.7,718.6 832.8,718.6 836.8,718.6 840.8,718.6 844.9,718.6 848.9,718.6 853.0,718.6 857.0,718.6 861.0,718.6 865.1,718.6 869.1,718.5 873.2,718.5 877.2,718.4 881.2,718.4 885.3,718.2 889.3,718.0 893.4,717.7 897.4,717.2 901.4,716.4 905.5,715.1 909.5,713.3 913.6,710.6 917.6,706.6 921.6,701.0 925.7,693.4 929.7,683.8 933.8,672.6 937.8,660.5 941.8,648.6 945.9,637.5 949.9,627.9 954.0,619.7 958.0,612.7 962.0,606.6 966.1,601.1 970.1,595.9 974.2,591.0 978.2,586.3 982.2,581.7 986.3,577.4 990.3,573.2 994.4,569.4 998.4,565.8" fill="none" stroke="#149a3e" stroke-width="1.05" stroke-opacity="0.85" stroke-linejoin="round"/>
<polyline points="642.9,726.2 646.9,723.2 651.0,721.4 655.0,720.3 659.0,719.6 663.1,719.2 667.1,718.9 671.2,718.8 675.2,718.6 679.2,718.5 683.3,718.4 687.3,718.3 691.4,718.2 695.4,718.1 699.4,718.0 703.5,717.8 707.5,717.7 711.6,717.5 715.6,717.4 719.6,717.3 723.7,717.3 727.7,717.2 731.8,717.2 735.8,717.3 739.8,717.4 743.9,717.5 747.9,717.7 752.0,717.8 756.0,718.0 760.0,718.1 764.1,718.2 768.1,718.3 772.2,718.4 776.2,718.5 780.2,718.5 784.3,718.5 788.3,718.6 792.4,718.6 796.4,718.6 800.4,718.6 804.5,718.6 808.5,718.6 812.6,718.6 816.6,718.6 820.6,718.6 824.7,718.6 828.7,718.6 832.8,718.6 836.8,718.6 840.8,718.6 844.9,718.6 848.9,718.6 853.0,718.6 857.0,718.6 861.0,718.6 865.1,718.6 869.1,718.6 873.2,718.6 877.2,718.6 881.2,718.6 885.3,718.5 889.3,718.5 893.4,718.5 897.4,718.4 901.4,718.3 905.5,718.1 909.5,717.8 913.6,717.4 917.6,716.7 921.6,715.6 925.7,714.0 929.7,711.6 933.8,708.0 937.8,702.7 941.8,695.5 945.9,685.9 949.9,674.0 954.0,660.5 958.0,646.2 962.0,632.3 966.1,619.8 970.1,608.9 974.2,599.7 978.2,591.7 982.2,584.7 986.3,578.3 990.3,572.3 994.4,566.5 998.4,560.9" fill="none" stroke="#149a3e" stroke-width="1.05" stroke-opacity="0.85" stroke-linejoin="round"/>
<polyline points="642.9,727.7 646.9,724.1 651.0,722.0 655.0,720.6 659.0,719.8 663.1,719.3 667.1,719.0 671.2,718.8 675.2,718.7 679.2,718.6 683.3,718.5 687.3,718.3 691.4,718.2 695.4,718.1 699.4,718.0 703.5,717.8 707.5,717.7 711.6,717.5 715.6,717.4 719.6,717.3 723.7,717.3 727.7,717.2 731.8,717.2 735.8,717.3 739.8,717.4 743.9,717.5 747.9,717.7 752.0,717.8 756.0,718.0 760.0,718.1 764.1,718.2 768.1,718.3 772.2,718.4 776.2,718.5 780.2,718.5 784.3,718.5 788.3,718.6 792.4,718.6 796.4,718.6 800.4,718.6 804.5,718.6 808.5,718.6 812.6,718.6 816.6,718.6 820.6,718.6 824.7,718.6 828.7,718.6 832.8,718.6 836.8,718.6 840.8,718.6 844.9,718.6 848.9,718.6 853.0,718.6 857.0,718.6 861.0,718.6 865.1,718.6 869.1,718.6 873.2,718.6 877.2,718.6 881.2,718.6 885.3,718.6 889.3,718.5 893.4,718.5 897.4,718.4 901.4,718.3 905.5,718.2 909.5,718.0 913.6,717.6 917.6,717.1 921.6,716.3 925.7,715.0 929.7,713.1 933.8,710.3 937.8,706.1 941.8,700.1 945.9,692.0 949.9,681.5 954.0,668.9 958.0,654.9 962.0,640.8 966.1,627.5 970.1,615.7 974.2,605.6 978.2,597.1 982.2,589.8 986.3,583.2 990.3,577.2 994.4,571.5 998.4,566.0" fill="none" stroke="#149a3e" stroke-width="1.05" stroke-opacity="0.85" stroke-linejoin="round"/>
<polyline points="642.9,725.5 646.9,722.8 651.0,721.1 655.0,720.1 659.0,719.5 663.1,719.1 667.1,718.9 671.2,718.7 675.2,718.6 679.2,718.5 683.3,718.4 687.3,718.3 691.4,718.2 695.4,718.1 699.4,718.0 703.5,717.8 707.5,717.7 711.6,717.5 715.6,717.4 719.6,717.3 723.7,717.2 727.7,717.2 731.8,717.2 735.8,717.3 739.8,717.4 743.9,717.5 747.9,717.7 752.0,717.8 756.0,718.0 760.0,718.1 764.1,718.2 768.1,718.3 772.2,718.4 776.2,718.5 780.2,718.5 784.3,718.5 788.3,718.6 792.4,718.6 796.4,718.6 800.4,718.6 804.5,718.6 808.5,718.6 812.6,718.6 816.6,718.6 820.6,718.6 824.7,718.6 828.7,718.6 832.8,718.6 836.8,718.6 840.8,718.6 844.9,718.6 848.9,718.6 853.0,718.6 857.0,718.6 861.0,718.6 865.1,718.6 869.1,718.6 873.2,718.6 877.2,718.6 881.2,718.6 885.3,718.6 889.3,718.5 893.4,718.5 897.4,718.5 901.4,718.4 905.5,718.3 909.5,718.1 913.6,717.9 917.6,717.5 921.6,716.8 925.7,715.9 929.7,714.4 933.8,712.1 937.8,708.8 941.8,704.0 945.9,697.2 949.9,688.1 954.0,676.7 958.0,663.4 962.0,649.2 966.1,635.3 970.1,622.5 974.2,611.5 978.2,602.1 982.2,594.1 986.3,587.1 990.3,580.8 994.4,574.9 998.4,569.2" fill="none" stroke="#149a3e" stroke-width="1.05" stroke-opacity="0.85" stroke-linejoin="round"/>
<polyline points="642.9,723.2 646.9,721.4 651.0,720.3 655.0,719.6 659.0,719.2 663.1,719.0 667.1,718.8 671.2,718.7 675.2,718.6 679.2,718.5 683.3,718.4 687.3,718.3 691.4,718.2 695.4,718.1 699.4,718.0 703.5,717.8 707.5,717.7 711.6,717.5 715.6,717.4 719.6,717.3 723.7,717.2 727.7,717.2 731.8,717.2 735.8,717.3 739.8,717.4 743.9,717.5 747.9,717.7 752.0,717.8 756.0,718.0 760.0,718.1 764.1,718.2 768.1,718.3 772.2,718.4 776.2,718.5 780.2,718.5 784.3,718.5 788.3,718.6 792.4,718.6 796.4,718.6 800.4,718.6 804.5,718.6 808.5,718.6 812.6,718.6 816.6,718.6 820.6,718.6 824.7,718.6 828.7,718.6 832.8,718.6 836.8,718.6 840.8,718.6 844.9,718.6 848.9,718.6 853.0,718.6 857.0,718.6 861.0,718.6 865.1,718.6 869.1,718.6 873.2,718.6 877.2,718.6 881.2,718.6 885.3,718.6 889.3,718.6 893.4,718.5 897.4,718.5 901.4,718.4 905.5,718.4 909.5,718.2 913.6,718.0 917.6,717.7 921.6,717.2 925.7,716.4 929.7,715.2 933.8,713.4 937.8,710.6 941.8,706.6 945.9,700.8 949.9,693.0 954.0,682.7 958.0,670.3 962.0,656.5 966.1,642.4 970.1,629.1 974.2,617.3 978.2,607.2 982.2,598.7 986.3,591.4 990.3,584.9 994.4,579.1 998.4,573.5" fill="none" stroke="#149a3e" stroke-width="1.05" stroke-opacity="0.85" stroke-linejoin="round"/>
<polyline points="642.9,722.4 646.9,720.9 651.0,720.0 655.0,719.4 659.0,719.1 663.1,718.9 667.1,718.8 671.2,718.7 675.2,718.6 679.2,718.5 683.3,718.5 687.3,718.4 691.4,718.3 695.4,718.2 699.4,718.1 703.5,718.0 707.5,717.8 711.6,717.7 715.6,717.6 719.6,717.5 723.7,717.5 727.7,717.5 731.8,717.5 735.8,717.5 739.8,717.6 743.9,717.7 747.9,717.8 752.0,717.9 756.0,718.1 760.0,718.2 764.1,718.3 768.1,718.4 772.2,718.4 776.2,718.5 780.2,718.5 784.3,718.5 788.3,718.6 792.4,718.6 796.4,718.6 800.4,718.6 804.5,718.6 808.5,718.6 812.6,718.6 816.6,718.6 820.6,718.6 824.7,718.6 828.7,718.6 832.8,718.6 836.8,718.6 840.8,718.6 844.9,718.6 848.9,718.6 853.0,718.6 857.0,718.6 861.0,718.6 865.1,718.6 869.1,718.6 873.2,718.6 877.2,718.6 881.2,718.6 885.3,718.6 889.3,718.6 893.4,718.6 897.4,718.6 901.4,718.6 905.5,718.6 909.5,718.6 913.6,718.6 917.6,718.6 921.6,718.6 925.7,718.6 929.7,718.6 933.8,718.6 937.8,718.6 941.8,718.6 945.9,718.6 949.9,718.6 954.0,718.6 958.0,718.6 962.0,718.6 966.1,718.6 970.1,718.6 974.2,718.6 978.2,718.6 982.2,718.6 986.3,718.6 990.3,718.6 994.4,718.6 998.4,718.6" fill="none" stroke="#149a3e" stroke-width="1.3" stroke-opacity="0.85" stroke-linejoin="round"/>
<polyline points="642.9,724.7 646.9,722.3 651.0,720.8 655.0,720.0 659.0,719.4 663.1,719.1 667.1,718.9 671.2,718.7 675.2,718.6 679.2,718.5 683.3,718.5 687.3,718.4 691.4,718.3 695.4,718.2 699.4,718.1 703.5,718.0 707.5,717.8 711.6,717.7 715.6,717.6 719.6,717.5 723.7,717.5 727.7,717.5 731.8,717.5 735.8,717.5 739.8,717.6 743.9,717.7 747.9,717.8 752.0,718.0 756.0,718.1 760.0,718.2 764.1,718.3 768.1,718.4 772.2,718.5 776.2,718.7 780.2,718.8 784.3,719.0 788.3,719.1 792.4,719.3 796.4,719.4 800.4,719.5 804.5,719.5 808.5,719.5 812.6,719.4 816.6,719.3 820.6,719.1 824.7,719.0 828.7,718.9 832.8,718.8 836.8,718.7 840.8,718.7 844.9,718.6 848.9,718.6 853.0,718.6 857.0,718.6 861.0,718.6 865.1,718.6 869.1,718.6 873.2,718.6 877.2,718.6 881.2,718.6 885.3,718.6 889.3,718.6 893.4,718.6 897.4,718.6 901.4,718.6 905.5,718.6 909.5,718.6 913.6,718.6 917.6,718.6 921.6,718.6 925.7,718.6 929.7,718.6 933.8,718.6 937.8,718.6 941.8,718.6 945.9,718.6 949.9,718.6 954.0,718.6 958.0,718.6 962.0,718.6 966.1,718.6 970.1,718.6 974.2,718.6 978.2,718.6 982.2,718.6 986.3,718.6 990.3,718.6 994.4,718.6 998.4,718.6" fill="none" stroke="#149a3e" stroke-width="1.3" stroke-opacity="0.85" stroke-linejoin="round"/>
<polyline points="642.9,727.0 646.9,723.7 651.0,721.7 655.0,720.5 659.0,719.7 663.1,719.3 667.1,719.0 671.2,718.8 675.2,718.7 679.2,718.6 683.3,718.5 687.3,718.4 691.4,718.3 695.4,718.2 699.4,718.1 703.5,718.0 707.5,717.8 711.6,717.7 715.6,717.6 719.6,717.5 723.7,717.5 727.7,717.5 731.8,717.5 735.8,717.5 739.8,717.6 743.9,717.7 747.9,717.8 752.0,718.0 756.0,718.1 760.0,718.2 764.1,718.4 768.1,718.5 772.2,718.7 776.2,718.9 780.2,719.1 784.3,719.4 788.3,719.7 792.4,720.0 796.4,720.2 800.4,720.4 804.5,720.4 808.5,720.4 812.6,720.2 816.6,720.0 820.6,719.7 824.7,719.4 828.7,719.2 832.8,719.0 836.8,718.8 840.8,718.7 844.9,718.7 848.9,718.6 853.0,718.6 857.0,718.6 861.0,718.6 865.1,718.6 869.1,718.6 873.2,718.6 877.2,718.6 881.2,718.6 885.3,718.6 889.3,718.6 893.4,718.6 897.4,718.6 901.4,718.6 905.5,718.6 909.5,718.6 913.6,718.6 917.6,718.6 921.6,718.6 925.7,718.6 929.7,718.6 933.8,718.6 937.8,718.6 941.8,718.6 945.9,718.6 949.9,718.6 954.0,718.6 958.0,718.6 962.0,718.6 966.1,718.6 970.1,718.6 974.2,718.6 978.2,718.6 982.2,718.6 986.3,718.6 990.3,718.6 994.4,718.6 998.4,718.6" fill="none" stroke="#149a3e" stroke-width="1.3" stroke-opacity="0.85" stroke-linejoin="round"/>
<polyline points="642.9,729.3 646.9,725.1 651.0,722.5 655.0,721.0 659.0,720.0 663.1,719.5 667.1,719.1 671.2,718.9 675.2,718.7 679.2,718.6 683.3,718.5 687.3,718.4 691.4,718.3 695.4,718.2 699.4,718.1 703.5,718.0 707.5,717.8 711.6,717.7 715.6,717.6 719.6,717.5 723.7,717.5 727.7,717.5 731.8,717.5 735.8,717.5 739.8,717.6 743.9,717.7 747.9,717.8 752.0,718.0 756.0,718.1 760.0,718.2 764.1,718.4 768.1,718.6 772.2,718.8 776.2,719.1 780.2,719.4 784.3,719.8 788.3,720.2 792.4,720.6 796.4,721.0 800.4,721.2 804.5,721.3 808.5,721.3 812.6,721.0 816.6,720.7 820.6,720.2 824.7,719.8 828.7,719.5 832.8,719.2 836.8,719.0 840.8,718.8 844.9,718.7 848.9,718.7 853.0,718.6 857.0,718.6 861.0,718.6 865.1,718.6 869.1,718.6 873.2,718.6 877.2,718.6 881.2,718.6 885.3,718.6 889.3,718.6 893.4,718.6 897.4,718.6 901.4,718.6 905.5,718.6 909.5,718.6 913.6,718.6 917.6,718.6 921.6,718.6 925.7,718.6 929.7,718.6 933.8,718.6 937.8,718.6 941.8,718.6 945.9,718.6 949.9,718.6 954.0,718.6 958.0,718.6 962.0,718.6 966.1,718.6 970.1,718.6 974.2,718.6 978.2,718.6 982.2,718.6 986.3,718.6 990.3,718.6 994.4,718.6 998.4,718.6" fill="none" stroke="#149a3e" stroke-width="1.3" stroke-opacity="0.85" stroke-linejoin="round"/>
<line x1="642.9" y1="714.0" x2="998.4" y2="714.0" stroke="#6cc9dc" stroke-width="2"/>
<rect x="635.2" y="521" width="380.4" height="212" fill="none" stroke="#4d4d4d" stroke-width="1.6"/>
<line x1="634.8" y1="729.4" x2="634.8" y2="736.6" stroke="#444" stroke-width="1.2"/>
<line x1="634.8" y1="517.4" x2="634.8" y2="524.6" stroke="#444" stroke-width="1.2"/>
<line x1="651.0" y1="730.9" x2="651.0" y2="735.1" stroke="#444" stroke-width="1.2"/>
<line x1="651.0" y1="518.9" x2="651.0" y2="523.1" stroke="#444" stroke-width="1.2"/>
<line x1="667.1" y1="730.9" x2="667.1" y2="735.1" stroke="#444" stroke-width="1.2"/>
<line x1="667.1" y1="518.9" x2="667.1" y2="523.1" stroke="#444" stroke-width="1.2"/>
<line x1="683.3" y1="730.9" x2="683.3" y2="735.1" stroke="#444" stroke-width="1.2"/>
<line x1="683.3" y1="518.9" x2="683.3" y2="523.1" stroke="#444" stroke-width="1.2"/>
<line x1="699.4" y1="730.9" x2="699.4" y2="735.1" stroke="#444" stroke-width="1.2"/>
<line x1="699.4" y1="518.9" x2="699.4" y2="523.1" stroke="#444" stroke-width="1.2"/>
<line x1="715.6" y1="729.4" x2="715.6" y2="736.6" stroke="#444" stroke-width="1.2"/>
<line x1="715.6" y1="517.4" x2="715.6" y2="524.6" stroke="#444" stroke-width="1.2"/>
<line x1="731.8" y1="730.9" x2="731.8" y2="735.1" stroke="#444" stroke-width="1.2"/>
<line x1="731.8" y1="518.9" x2="731.8" y2="523.1" stroke="#444" stroke-width="1.2"/>
<line x1="747.9" y1="730.9" x2="747.9" y2="735.1" stroke="#444" stroke-width="1.2"/>
<line x1="747.9" y1="518.9" x2="747.9" y2="523.1" stroke="#444" stroke-width="1.2"/>
<line x1="764.1" y1="730.9" x2="764.1" y2="735.1" stroke="#444" stroke-width="1.2"/>
<line x1="764.1" y1="518.9" x2="764.1" y2="523.1" stroke="#444" stroke-width="1.2"/>
<line x1="780.2" y1="730.9" x2="780.2" y2="735.1" stroke="#444" stroke-width="1.2"/>
<line x1="780.2" y1="518.9" x2="780.2" y2="523.1" stroke="#444" stroke-width="1.2"/>
<line x1="796.4" y1="729.4" x2="796.4" y2="736.6" stroke="#444" stroke-width="1.2"/>
<line x1="796.4" y1="517.4" x2="796.4" y2="524.6" stroke="#444" stroke-width="1.2"/>
<line x1="812.6" y1="730.9" x2="812.6" y2="735.1" stroke="#444" stroke-width="1.2"/>
<line x1="812.6" y1="518.9" x2="812.6" y2="523.1" stroke="#444" stroke-width="1.2"/>
<line x1="828.7" y1="730.9" x2="828.7" y2="735.1" stroke="#444" stroke-width="1.2"/>
<line x1="828.7" y1="518.9" x2="828.7" y2="523.1" stroke="#444" stroke-width="1.2"/>
<line x1="844.9" y1="730.9" x2="844.9" y2="735.1" stroke="#444" stroke-width="1.2"/>
<line x1="844.9" y1="518.9" x2="844.9" y2="523.1" stroke="#444" stroke-width="1.2"/>
<line x1="861.0" y1="730.9" x2="861.0" y2="735.1" stroke="#444" stroke-width="1.2"/>
<line x1="861.0" y1="518.9" x2="861.0" y2="523.1" stroke="#444" stroke-width="1.2"/>
<line x1="877.2" y1="729.4" x2="877.2" y2="736.6" stroke="#444" stroke-width="1.2"/>
<line x1="877.2" y1="517.4" x2="877.2" y2="524.6" stroke="#444" stroke-width="1.2"/>
<line x1="893.4" y1="730.9" x2="893.4" y2="735.1" stroke="#444" stroke-width="1.2"/>
<line x1="893.4" y1="518.9" x2="893.4" y2="523.1" stroke="#444" stroke-width="1.2"/>
<line x1="909.5" y1="730.9" x2="909.5" y2="735.1" stroke="#444" stroke-width="1.2"/>
<line x1="909.5" y1="518.9" x2="909.5" y2="523.1" stroke="#444" stroke-width="1.2"/>
<line x1="925.7" y1="730.9" x2="925.7" y2="735.1" stroke="#444" stroke-width="1.2"/>
<line x1="925.7" y1="518.9" x2="925.7" y2="523.1" stroke="#444" stroke-width="1.2"/>
<line x1="941.8" y1="730.9" x2="941.8" y2="735.1" stroke="#444" stroke-width="1.2"/>
<line x1="941.8" y1="518.9" x2="941.8" y2="523.1" stroke="#444" stroke-width="1.2"/>
<line x1="958.0" y1="729.4" x2="958.0" y2="736.6" stroke="#444" stroke-width="1.2"/>
<line x1="958.0" y1="517.4" x2="958.0" y2="524.6" stroke="#444" stroke-width="1.2"/>
<line x1="974.2" y1="730.9" x2="974.2" y2="735.1" stroke="#444" stroke-width="1.2"/>
<line x1="974.2" y1="518.9" x2="974.2" y2="523.1" stroke="#444" stroke-width="1.2"/>
<line x1="990.3" y1="730.9" x2="990.3" y2="735.1" stroke="#444" stroke-width="1.2"/>
<line x1="990.3" y1="518.9" x2="990.3" y2="523.1" stroke="#444" stroke-width="1.2"/>
<line x1="1006.5" y1="730.9" x2="1006.5" y2="735.1" stroke="#444" stroke-width="1.2"/>
<line x1="1006.5" y1="518.9" x2="1006.5" y2="523.1" stroke="#444" stroke-width="1.2"/>
<line x1="633.1" y1="726.2" x2="636.7750000000001" y2="726.2" stroke="#444" stroke-width="1.2"/>
<line x1="1014.025" y1="726.2" x2="1016.86" y2="726.2" stroke="#444" stroke-width="1.2"/>
<line x1="631.0" y1="718.6" x2="638.35" y2="718.6" stroke="#444" stroke-width="1.2"/>
<line x1="1012.45" y1="718.6" x2="1018.12" y2="718.6" stroke="#444" stroke-width="1.2"/>
<line x1="633.1" y1="711.0" x2="636.7750000000001" y2="711.0" stroke="#444" stroke-width="1.2"/>
<line x1="1014.025" y1="711.0" x2="1016.86" y2="711.0" stroke="#444" stroke-width="1.2"/>
<line x1="633.1" y1="703.4" x2="636.7750000000001" y2="703.4" stroke="#444" stroke-width="1.2"/>
<line x1="1014.025" y1="703.4" x2="1016.86" y2="703.4" stroke="#444" stroke-width="1.2"/>
<line x1="633.1" y1="695.7" x2="636.7750000000001" y2="695.7" stroke="#444" stroke-width="1.2"/>
<line x1="1014.025" y1="695.7" x2="1016.86" y2="695.7" stroke="#444" stroke-width="1.2"/>
<line x1="633.1" y1="688.1" x2="636.7750000000001" y2="688.1" stroke="#444" stroke-width="1.2"/>
<line x1="1014.025" y1="688.1" x2="1016.86" y2="688.1" stroke="#444" stroke-width="1.2"/>
<line x1="631.0" y1="680.5" x2="638.35" y2="680.5" stroke="#444" stroke-width="1.2"/>
<line x1="1012.45" y1="680.5" x2="1018.12" y2="680.5" stroke="#444" stroke-width="1.2"/>
<line x1="633.1" y1="672.9" x2="636.7750000000001" y2="672.9" stroke="#444" stroke-width="1.2"/>
<line x1="1014.025" y1="672.9" x2="1016.86" y2="672.9" stroke="#444" stroke-width="1.2"/>
<line x1="633.1" y1="665.3" x2="636.7750000000001" y2="665.3" stroke="#444" stroke-width="1.2"/>
<line x1="1014.025" y1="665.3" x2="1016.86" y2="665.3" stroke="#444" stroke-width="1.2"/>
<line x1="633.1" y1="657.6" x2="636.7750000000001" y2="657.6" stroke="#444" stroke-width="1.2"/>
<line x1="1014.025" y1="657.6" x2="1016.86" y2="657.6" stroke="#444" stroke-width="1.2"/>
<line x1="633.1" y1="650.0" x2="636.7750000000001" y2="650.0" stroke="#444" stroke-width="1.2"/>
<line x1="1014.025" y1="650.0" x2="1016.86" y2="650.0" stroke="#444" stroke-width="1.2"/>
<line x1="631.0" y1="642.4" x2="638.35" y2="642.4" stroke="#444" stroke-width="1.2"/>
<line x1="1012.45" y1="642.4" x2="1018.12" y2="642.4" stroke="#444" stroke-width="1.2"/>
<line x1="633.1" y1="634.8" x2="636.7750000000001" y2="634.8" stroke="#444" stroke-width="1.2"/>
<line x1="1014.025" y1="634.8" x2="1016.86" y2="634.8" stroke="#444" stroke-width="1.2"/>
<line x1="633.1" y1="627.2" x2="636.7750000000001" y2="627.2" stroke="#444" stroke-width="1.2"/>
<line x1="1014.025" y1="627.2" x2="1016.86" y2="627.2" stroke="#444" stroke-width="1.2"/>
<line x1="633.1" y1="619.5" x2="636.7750000000001" y2="619.5" stroke="#444" stroke-width="1.2"/>
<line x1="1014.025" y1="619.5" x2="1016.86" y2="619.5" stroke="#444" stroke-width="1.2"/>
<line x1="633.1" y1="611.9" x2="636.7750000000001" y2="611.9" stroke="#444" stroke-width="1.2"/>
<line x1="1014.025" y1="611.9" x2="1016.86" y2="611.9" stroke="#444" stroke-width="1.2"/>
<line x1="631.0" y1="604.3" x2="638.35" y2="604.3" stroke="#444" stroke-width="1.2"/>
<line x1="1012.45" y1="604.3" x2="1018.12" y2="604.3" stroke="#444" stroke-width="1.2"/>
<line x1="633.1" y1="596.7" x2="636.7750000000001" y2="596.7" stroke="#444" stroke-width="1.2"/>
<line x1="1014.025" y1="596.7" x2="1016.86" y2="596.7" stroke="#444" stroke-width="1.2"/>
<line x1="633.1" y1="589.1" x2="636.7750000000001" y2="589.1" stroke="#444" stroke-width="1.2"/>
<line x1="1014.025" y1="589.1" x2="1016.86" y2="589.1" stroke="#444" stroke-width="1.2"/>
<line x1="633.1" y1="581.4" x2="636.7750000000001" y2="581.4" stroke="#444" stroke-width="1.2"/>
<line x1="1014.025" y1="581.4" x2="1016.86" y2="581.4" stroke="#444" stroke-width="1.2"/>
<line x1="633.1" y1="573.8" x2="636.7750000000001" y2="573.8" stroke="#444" stroke-width="1.2"/>
<line x1="1014.025" y1="573.8" x2="1016.86" y2="573.8" stroke="#444" stroke-width="1.2"/>
<line x1="631.0" y1="566.2" x2="638.35" y2="566.2" stroke="#444" stroke-width="1.2"/>
<line x1="1012.45" y1="566.2" x2="1018.12" y2="566.2" stroke="#444" stroke-width="1.2"/>
<line x1="633.1" y1="558.6" x2="636.7750000000001" y2="558.6" stroke="#444" stroke-width="1.2"/>
<line x1="1014.025" y1="558.6" x2="1016.86" y2="558.6" stroke="#444" stroke-width="1.2"/>
<line x1="633.1" y1="551.0" x2="636.7750000000001" y2="551.0" stroke="#444" stroke-width="1.2"/>
<line x1="1014.025" y1="551.0" x2="1016.86" y2="551.0" stroke="#444" stroke-width="1.2"/>
<line x1="633.1" y1="543.3" x2="636.7750000000001" y2="543.3" stroke="#444" stroke-width="1.2"/>
<line x1="1014.025" y1="543.3" x2="1016.86" y2="543.3" stroke="#444" stroke-width="1.2"/>
<line x1="633.1" y1="535.7" x2="636.7750000000001" y2="535.7" stroke="#444" stroke-width="1.2"/>
<line x1="1014.025" y1="535.7" x2="1016.86" y2="535.7" stroke="#444" stroke-width="1.2"/>
<line x1="631.0" y1="528.1" x2="638.35" y2="528.1" stroke="#444" stroke-width="1.2"/>
<line x1="1012.45" y1="528.1" x2="1018.12" y2="528.1" stroke="#444" stroke-width="1.2"/>
<text class="t tk" x="626.9000000000001" y="724.7" text-anchor="end">0</text>
<text class="t tk" x="626.9000000000001" y="686.6" text-anchor="end">500</text>
<text class="t tk" x="626.9000000000001" y="648.5" text-anchor="end">1000</text>
<text class="t tk" x="626.9000000000001" y="610.4" text-anchor="end">1500</text>
<text class="t tk" x="626.9000000000001" y="572.3" text-anchor="end">2000</text>
<text class="t tk" x="626.9000000000001" y="534.2" text-anchor="end">2500</text>
<text class="t tk" x="635.4" y="753.2" text-anchor="middle">0</text>
<text class="t tk" x="716.2" y="753.2" text-anchor="middle">10</text>
<text class="t tk" x="797.0" y="753.2" text-anchor="middle">20</text>
<text class="t tk" x="877.8" y="753.2" text-anchor="middle">30</text>
<text class="t tk" x="958.6" y="753.2" text-anchor="middle">40</text>
<text class="t ax" x="836.2" y="776.4" text-anchor="middle">Cycles</text>
<text class="t ax" transform="translate(579.8,618.8) rotate(-90)" text-anchor="middle">RFU</text>
<text class="pt" x="1102.3" y="502.5">Mouse tail, gREL</text>
<line x1="1184.2" y1="521" x2="1184.2" y2="733.2" stroke="#666" stroke-width="1.1" stroke-dasharray="1.2 4.3"/>
<line x1="1264.8" y1="521" x2="1264.8" y2="733.2" stroke="#666" stroke-width="1.1" stroke-dasharray="1.2 4.3"/>
<line x1="1345.4" y1="521" x2="1345.4" y2="733.2" stroke="#666" stroke-width="1.1" stroke-dasharray="1.2 4.3"/>
<line x1="1426.0" y1="521" x2="1426.0" y2="733.2" stroke="#666" stroke-width="1.1" stroke-dasharray="1.2 4.3"/>
<line x1="1103.8" y1="726.6" x2="1485.4" y2="726.6" stroke="#666" stroke-width="1.1" stroke-dasharray="1.2 4.3"/>
<line x1="1103.8" y1="695.6" x2="1485.4" y2="695.6" stroke="#666" stroke-width="1.1" stroke-dasharray="1.2 4.3"/>
<line x1="1103.8" y1="664.7" x2="1485.4" y2="664.7" stroke="#666" stroke-width="1.1" stroke-dasharray="1.2 4.3"/>
<line x1="1103.8" y1="633.7" x2="1485.4" y2="633.7" stroke="#666" stroke-width="1.1" stroke-dasharray="1.2 4.3"/>
<line x1="1103.8" y1="602.8" x2="1485.4" y2="602.8" stroke="#666" stroke-width="1.1" stroke-dasharray="1.2 4.3"/>
<line x1="1103.8" y1="571.8" x2="1485.4" y2="571.8" stroke="#666" stroke-width="1.1" stroke-dasharray="1.2 4.3"/>
<line x1="1103.8" y1="540.8" x2="1485.4" y2="540.8" stroke="#666" stroke-width="1.1" stroke-dasharray="1.2 4.3"/>
<polyline points="1111.7,728.8 1115.7,728.1 1119.7,727.5 1123.8,727.2 1127.8,727.0 1131.8,726.8 1135.8,726.7 1139.9,726.7 1143.9,726.7 1147.9,726.7 1152.0,726.7 1156.0,726.7 1160.0,726.7 1164.0,726.7 1168.1,726.7 1172.1,726.7 1176.1,726.7 1180.2,726.6 1184.2,726.6 1188.2,726.5 1192.3,726.5 1196.3,726.5 1200.3,726.5 1204.3,726.5 1208.4,726.5 1212.4,726.5 1216.4,726.5 1220.5,726.5 1224.5,726.4 1228.5,726.3 1232.6,726.2 1236.6,726.0 1240.6,725.7 1244.6,725.3 1248.7,724.7 1252.7,723.8 1256.7,722.6 1260.8,720.8 1264.8,718.3 1268.8,714.7 1272.9,709.7 1276.9,702.9 1280.9,694.0 1284.9,682.9 1289.0,669.9 1293.0,655.6 1297.0,640.9 1301.1,627.0 1305.1,614.7 1309.1,604.5 1313.2,596.5 1317.2,590.5 1321.2,586.0 1325.2,582.9 1329.3,580.7 1333.3,579.1 1337.3,578.0 1341.4,577.3 1345.4,576.7 1349.4,576.3 1353.5,576.1 1357.5,576.1 1361.5,576.1 1365.5,576.1 1369.6,576.2 1373.6,576.4 1377.6,576.5 1381.7,576.7 1385.7,576.8 1389.7,577.0 1393.8,577.1 1397.8,577.2 1401.8,577.3 1405.8,577.4 1409.9,577.5 1413.9,577.6 1417.9,577.7 1422.0,577.8 1426.0,578.0 1430.0,578.1 1434.1,578.3 1438.1,578.4 1442.1,578.6 1446.1,578.7 1450.2,578.8 1454.2,578.9 1458.2,579.0 1462.3,579.1 1466.3,579.1" fill="none" stroke="#149a3e" stroke-width="1.05" stroke-opacity="0.85" stroke-linejoin="round"/>
<polyline points="1111.7,728.7 1115.7,727.9 1119.7,727.5 1123.8,727.2 1127.8,727.0 1131.8,726.9 1135.8,726.9 1139.9,726.8 1143.9,726.8 1147.9,726.7 1152.0,726.7 1156.0,726.6 1160.0,726.6 1164.0,726.6 1168.1,726.6 1172.1,726.6 1176.1,726.6 1180.2,726.7 1184.2,726.7 1188.2,726.7 1192.3,726.7 1196.3,726.6 1200.3,726.6 1204.3,726.5 1208.4,726.5 1212.4,726.4 1216.4,726.4 1220.5,726.3 1224.5,726.3 1228.5,726.3 1232.6,726.2 1236.6,726.0 1240.6,725.8 1244.6,725.5 1248.7,724.9 1252.7,724.1 1256.7,722.9 1260.8,721.2 1264.8,718.8 1268.8,715.3 1272.9,710.5 1276.9,704.0 1280.9,695.5 1284.9,684.8 1289.0,672.1 1293.0,657.9 1297.0,643.1 1301.1,628.9 1305.1,616.1 1309.1,605.3 1313.2,596.7 1317.2,590.2 1321.2,585.4 1325.2,581.9 1329.3,579.4 1333.3,577.7 1337.3,576.5 1341.4,575.8 1345.4,575.2 1349.4,574.9 1353.5,574.8 1357.5,574.8 1361.5,574.9 1365.5,575.0 1369.6,575.1 1373.6,575.3 1377.6,575.4 1381.7,575.6 1385.7,575.7 1389.7,576.0 1393.8,576.2 1397.8,576.4 1401.8,576.7 1405.8,576.9 1409.9,577.2 1413.9,577.4 1417.9,577.6 1422.0,577.8 1426.0,577.9 1430.0,578.1 1434.1,578.3 1438.1,578.4 1442.1,578.6 1446.1,578.8 1450.2,579.0 1454.2,579.2 1458.2,579.5 1462.3,579.7 1466.3,579.9" fill="none" stroke="#149a3e" stroke-width="1.05" stroke-opacity="0.85" stroke-linejoin="round"/>
<polyline points="1111.7,728.8 1115.7,728.1 1119.7,727.6 1123.8,727.2 1127.8,727.0 1131.8,726.8 1135.8,726.7 1139.9,726.6 1143.9,726.5 1147.9,726.5 1152.0,726.5 1156.0,726.5 1160.0,726.5 1164.0,726.6 1168.1,726.6 1172.1,726.6 1176.1,726.7 1180.2,726.7 1184.2,726.6 1188.2,726.6 1192.3,726.6 1196.3,726.6 1200.3,726.5 1204.3,726.5 1208.4,726.5 1212.4,726.6 1216.4,726.6 1220.5,726.6 1224.5,726.6 1228.5,726.5 1232.6,726.4 1236.6,726.2 1240.6,726.0 1244.6,725.6 1248.7,725.0 1252.7,724.3 1256.7,723.1 1260.8,721.6 1264.8,719.3 1268.8,716.2 1272.9,711.8 1276.9,705.7 1280.9,697.8 1284.9,687.6 1289.0,675.4 1293.0,661.6 1297.0,647.0 1301.1,632.7 1305.1,619.7 1309.1,608.7 1313.2,599.8 1317.2,593.0 1321.2,588.0 1325.2,584.4 1329.3,581.9 1333.3,580.1 1337.3,578.9 1341.4,578.1 1345.4,577.5 1349.4,577.1 1353.5,576.9 1357.5,576.9 1361.5,577.0 1365.5,577.1 1369.6,577.2 1373.6,577.4 1377.6,577.6 1381.7,577.8 1385.7,578.0 1389.7,578.3 1393.8,578.5 1397.8,578.7 1401.8,579.0 1405.8,579.2 1409.9,579.4 1413.9,579.5 1417.9,579.7 1422.0,579.9 1426.0,580.1 1430.0,580.3 1434.1,580.6 1438.1,580.8 1442.1,581.1 1446.1,581.3 1450.2,581.6 1454.2,581.9 1458.2,582.1 1462.3,582.3 1466.3,582.5" fill="none" stroke="#149a3e" stroke-width="1.05" stroke-opacity="0.85" stroke-linejoin="round"/>
<polyline points="1111.7,728.7 1115.7,728.0 1119.7,727.5 1123.8,727.2 1127.8,727.0 1131.8,726.9 1135.8,726.8 1139.9,726.7 1143.9,726.6 1147.9,726.6 1152.0,726.6 1156.0,726.6 1160.0,726.6 1164.0,726.6 1168.1,726.7 1172.1,726.7 1176.1,726.7 1180.2,726.7 1184.2,726.7 1188.2,726.7 1192.3,726.7 1196.3,726.6 1200.3,726.6 1204.3,726.5 1208.4,726.5 1212.4,726.5 1216.4,726.5 1220.5,726.5 1224.5,726.5 1228.5,726.5 1232.6,726.5 1236.6,726.5 1240.6,726.4 1244.6,726.3 1248.7,726.2 1252.7,726.0 1256.7,725.7 1260.8,725.4 1264.8,725.0 1268.8,724.5 1272.9,723.7 1276.9,722.7 1280.9,721.3 1284.9,719.3 1289.0,716.6 1293.0,712.9 1297.0,707.8 1301.1,700.9 1305.1,691.9 1309.1,680.4 1313.2,666.3 1317.2,649.9 1321.2,631.9 1325.2,613.8 1329.3,597.1 1333.3,582.9 1337.3,571.8 1341.4,563.6 1345.4,557.7 1349.4,553.6 1353.5,550.8 1357.5,548.9 1361.5,547.6 1365.5,546.7 1369.6,546.0 1373.6,545.6 1377.6,545.2 1381.7,544.9 1385.7,544.7 1389.7,544.6 1393.8,544.4 1397.8,544.3 1401.8,544.2 1405.8,544.0 1409.9,543.9 1413.9,543.7 1417.9,543.5 1422.0,543.3 1426.0,543.2 1430.0,543.0 1434.1,542.8 1438.1,542.7 1442.1,542.6 1446.1,542.5 1450.2,542.3 1454.2,542.2 1458.2,542.1 1462.3,541.9 1466.3,541.8" fill="none" stroke="#149a3e" stroke-width="1.05" stroke-opacity="0.85" stroke-linejoin="round"/>
<polyline points="1111.7,728.8 1115.7,728.0 1119.7,727.5 1123.8,727.1 1127.8,726.9 1131.8,726.7 1135.8,726.6 1139.9,726.5 1143.9,726.5 1147.9,726.5 1152.0,726.6 1156.0,726.6 1160.0,726.7 1164.0,726.7 1168.1,726.7 1172.1,726.7 1176.1,726.7 1180.2,726.6 1184.2,726.6 1188.2,726.6 1192.3,726.6 1196.3,726.6 1200.3,726.6 1204.3,726.6 1208.4,726.6 1212.4,726.7 1216.4,726.7 1220.5,726.7 1224.5,726.7 1228.5,726.6 1232.6,726.6 1236.6,726.5 1240.6,726.4 1244.6,726.3 1248.7,726.1 1252.7,726.0 1256.7,725.8 1260.8,725.6 1264.8,725.2 1268.8,724.8 1272.9,724.1 1276.9,723.2 1280.9,721.8 1284.9,720.0 1289.0,717.5 1293.0,714.0 1297.0,709.4 1301.1,703.2 1305.1,695.0 1309.1,684.5 1313.2,671.5 1317.2,656.1 1321.2,639.1 1325.2,621.7 1329.3,605.3 1333.3,591.1 1337.3,579.8 1341.4,571.3 1345.4,565.2 1349.4,561.0 1353.5,558.2 1357.5,556.3 1361.5,555.0 1365.5,554.2 1369.6,553.7 1373.6,553.3 1377.6,553.1 1381.7,552.9 1385.7,552.8 1389.7,552.7 1393.8,552.6 1397.8,552.5 1401.8,552.4 1405.8,552.3 1409.9,552.2 1413.9,552.1 1417.9,552.0 1422.0,551.9 1426.0,551.9 1430.0,551.9 1434.1,551.9 1438.1,551.8 1442.1,551.8 1446.1,551.8 1450.2,551.7 1454.2,551.7 1458.2,551.6 1462.3,551.5 1466.3,551.4" fill="none" stroke="#149a3e" stroke-width="1.05" stroke-opacity="0.85" stroke-linejoin="round"/>
<polyline points="1111.7,728.8 1115.7,728.0 1119.7,727.5 1123.8,727.2 1127.8,727.0 1131.8,726.9 1135.8,726.8 1139.9,726.8 1143.9,726.7 1147.9,726.7 1152.0,726.7 1156.0,726.6 1160.0,726.5 1164.0,726.5 1168.1,726.5 1172.1,726.5 1176.1,726.5 1180.2,726.5 1184.2,726.5 1188.2,726.6 1192.3,726.6 1196.3,726.6 1200.3,726.6 1204.3,726.6 1208.4,726.6 1212.4,726.6 1216.4,726.6 1220.5,726.5 1224.5,726.5 1228.5,726.5 1232.6,726.5 1236.6,726.5 1240.6,726.5 1244.6,726.5 1248.7,726.4 1252.7,726.3 1256.7,726.2 1260.8,725.9 1264.8,725.6 1268.8,725.1 1272.9,724.4 1276.9,723.5 1280.9,722.4 1284.9,720.8 1289.0,718.6 1293.0,715.6 1297.0,711.6 1301.1,706.2 1305.1,699.0 1309.1,689.6 1313.2,677.9 1317.2,663.7 1321.2,647.5 1325.2,630.6 1329.3,614.1 1333.3,599.5 1337.3,587.5 1341.4,578.4 1345.4,571.9 1349.4,567.3 1353.5,564.3 1357.5,562.3 1361.5,561.0 1365.5,560.1 1369.6,559.6 1373.6,559.2 1377.6,558.9 1381.7,558.7 1385.7,558.5 1389.7,558.4 1393.8,558.3 1397.8,558.3 1401.8,558.2 1405.8,558.2 1409.9,558.2 1413.9,558.2 1417.9,558.2 1422.0,558.1 1426.0,558.1 1430.0,558.1 1434.1,558.0 1438.1,557.9 1442.1,557.8 1446.1,557.8 1450.2,557.7 1454.2,557.7 1458.2,557.7 1462.3,557.7 1466.3,557.7" fill="none" stroke="#149a3e" stroke-width="1.05" stroke-opacity="0.85" stroke-linejoin="round"/>
<polyline points="1111.7,728.8 1115.7,728.1 1119.7,727.6 1123.8,727.3 1127.8,727.1 1131.8,726.9 1135.8,726.8 1139.9,726.7 1143.9,726.7 1147.9,726.6 1152.0,726.6 1156.0,726.6 1160.0,726.6 1164.0,726.6 1168.1,726.6 1172.1,726.6 1176.1,726.7 1180.2,726.6 1184.2,726.6 1188.2,726.6 1192.3,726.5 1196.3,726.5 1200.3,726.5 1204.3,726.4 1208.4,726.4 1212.4,726.5 1216.4,726.5 1220.5,726.5 1224.5,726.6 1228.5,726.6 1232.6,726.6 1236.6,726.6 1240.6,726.5 1244.6,726.5 1248.7,726.4 1252.7,726.2 1256.7,726.0 1260.8,725.8 1264.8,725.5 1268.8,725.1 1272.9,724.6 1276.9,723.9 1280.9,722.8 1284.9,721.4 1289.0,719.4 1293.0,716.6 1297.0,712.8 1301.1,707.7 1305.1,700.9 1309.1,692.1 1313.2,680.9 1317.2,667.3 1321.2,651.9 1325.2,635.3 1329.3,619.2 1333.3,604.6 1337.3,592.5 1341.4,583.2 1345.4,576.4 1349.4,571.7 1353.5,568.3 1357.5,566.1 1361.5,564.5 1365.5,563.5 1369.6,562.7 1373.6,562.2 1377.6,561.8 1381.7,561.6 1385.7,561.4 1389.7,561.2 1393.8,561.1 1397.8,561.0 1401.8,560.8 1405.8,560.7 1409.9,560.5 1413.9,560.4 1417.9,560.2 1422.0,560.0 1426.0,559.8 1430.0,559.6 1434.1,559.5 1438.1,559.4 1442.1,559.2 1446.1,559.1 1450.2,559.0 1454.2,558.9 1458.2,558.8 1462.3,558.6 1466.3,558.5" fill="none" stroke="#149a3e" stroke-width="1.05" stroke-opacity="0.85" stroke-linejoin="round"/>
<polyline points="1111.7,728.7 1115.7,728.0 1119.7,727.5 1123.8,727.3 1127.8,727.1 1131.8,727.0 1135.8,726.9 1139.9,726.8 1143.9,726.7 1147.9,726.7 1152.0,726.6 1156.0,726.6 1160.0,726.6 1164.0,726.6 1168.1,726.6 1172.1,726.6 1176.1,726.6 1180.2,726.6 1184.2,726.7 1188.2,726.6 1192.3,726.6 1196.3,726.6 1200.3,726.5 1204.3,726.5 1208.4,726.5 1212.4,726.5 1216.4,726.5 1220.5,726.5 1224.5,726.5 1228.5,726.5 1232.6,726.6 1236.6,726.6 1240.6,726.7 1244.6,726.7 1248.7,726.6 1252.7,726.6 1256.7,726.5 1260.8,726.5 1264.8,726.4 1268.8,726.3 1272.9,726.2 1276.9,726.1 1280.9,725.9 1284.9,725.7 1289.0,725.4 1293.0,724.9 1297.0,724.2 1301.1,723.2 1305.1,721.8 1309.1,720.0 1313.2,717.4 1317.2,713.9 1321.2,709.2 1325.2,702.8 1329.3,694.5 1333.3,683.8 1337.3,670.5 1341.4,654.6 1345.4,637.0 1349.4,618.7 1353.5,601.4 1357.5,586.3 1361.5,574.2 1365.5,565.0 1369.6,558.4 1373.6,553.8 1377.6,550.6 1381.7,548.5 1385.7,547.0 1389.7,546.0 1393.8,545.3 1397.8,544.8 1401.8,544.5 1405.8,544.2 1409.9,543.9 1413.9,543.7 1417.9,543.4 1422.0,543.2 1426.0,542.9 1430.0,542.7 1434.1,542.4 1438.1,542.2 1442.1,542.0 1446.1,541.8 1450.2,541.6 1454.2,541.5 1458.2,541.3 1462.3,541.1 1466.3,541.0" fill="none" stroke="#149a3e" stroke-width="1.05" stroke-opacity="0.85" stroke-linejoin="round"/>
<polyline points="1111.7,728.7 1115.7,727.9 1119.7,727.4 1123.8,727.1 1127.8,726.9 1131.8,726.8 1135.8,726.8 1139.9,726.8 1143.9,726.8 1147.9,726.8 1152.0,726.8 1156.0,726.8 1160.0,726.7 1164.0,726.7 1168.1,726.6 1172.1,726.6 1176.1,726.6 1180.2,726.5 1184.2,726.5 1188.2,726.5 1192.3,726.6 1196.3,726.6 1200.3,726.6 1204.3,726.6 1208.4,726.6 1212.4,726.6 1216.4,726.6 1220.5,726.5 1224.5,726.5 1228.5,726.5 1232.6,726.5 1236.6,726.4 1240.6,726.5 1244.6,726.5 1248.7,726.5 1252.7,726.6 1256.7,726.6 1260.8,726.6 1264.8,726.5 1268.8,726.5 1272.9,726.4 1276.9,726.2 1280.9,726.0 1284.9,725.7 1289.0,725.4 1293.0,724.9 1297.0,724.3 1301.1,723.4 1305.1,722.2 1309.1,720.6 1313.2,718.3 1317.2,715.2 1321.2,711.0 1325.2,705.2 1329.3,697.6 1333.3,687.6 1337.3,675.2 1341.4,660.3 1345.4,643.4 1349.4,625.8 1353.5,608.7 1357.5,593.7 1361.5,581.4 1365.5,572.0 1369.6,565.3 1373.6,560.6 1377.6,557.4 1381.7,555.2 1385.7,553.7 1389.7,552.7 1393.8,552.0 1397.8,551.5 1401.8,551.2 1405.8,550.9 1409.9,550.7 1413.9,550.6 1417.9,550.5 1422.0,550.4 1426.0,550.3 1430.0,550.2 1434.1,550.0 1438.1,549.9 1442.1,549.8 1446.1,549.6 1450.2,549.4 1454.2,549.3 1458.2,549.1 1462.3,549.0 1466.3,548.9" fill="none" stroke="#149a3e" stroke-width="1.05" stroke-opacity="0.85" stroke-linejoin="round"/>
<polyline points="1111.7,728.8 1115.7,728.0 1119.7,727.6 1123.8,727.3 1127.8,727.1 1131.8,726.9 1135.8,726.8 1139.9,726.8 1143.9,726.7 1147.9,726.6 1152.0,726.6 1156.0,726.6 1160.0,726.6 1164.0,726.6 1168.1,726.6 1172.1,726.7 1176.1,726.7 1180.2,726.7 1184.2,726.7 1188.2,726.6 1192.3,726.6 1196.3,726.6 1200.3,726.5 1204.3,726.5 1208.4,726.5 1212.4,726.4 1216.4,726.5 1220.5,726.5 1224.5,726.5 1228.5,726.6 1232.6,726.6 1236.6,726.6 1240.6,726.6 1244.6,726.6 1248.7,726.6 1252.7,726.5 1256.7,726.5 1260.8,726.4 1264.8,726.4 1268.8,726.3 1272.9,726.3 1276.9,726.2 1280.9,726.1 1284.9,725.9 1289.0,725.6 1293.0,725.2 1297.0,724.7 1301.1,723.8 1305.1,722.7 1309.1,721.1 1313.2,719.0 1317.2,716.1 1321.2,712.2 1325.2,706.9 1329.3,700.0 1333.3,690.9 1337.3,679.4 1341.4,665.5 1345.4,649.5 1349.4,632.5 1353.5,615.7 1357.5,600.6 1361.5,588.1 1365.5,578.4 1369.6,571.3 1373.6,566.4 1377.6,563.1 1381.7,560.9 1385.7,559.5 1389.7,558.6 1393.8,558.0 1397.8,557.7 1401.8,557.5 1405.8,557.3 1409.9,557.2 1413.9,557.1 1417.9,557.0 1422.0,556.9 1426.0,556.8 1430.0,556.8 1434.1,556.7 1438.1,556.7 1442.1,556.7 1446.1,556.7 1450.2,556.7 1454.2,556.7 1458.2,556.7 1462.3,556.6 1466.3,556.6" fill="none" stroke="#149a3e" stroke-width="1.05" stroke-opacity="0.85" stroke-linejoin="round"/>
<polyline points="1111.7,728.8 1115.7,728.0 1119.7,727.5 1123.8,727.1 1127.8,726.9 1131.8,726.7 1135.8,726.6 1139.9,726.6 1143.9,726.5 1147.9,726.5 1152.0,726.6 1156.0,726.6 1160.0,726.7 1164.0,726.7 1168.1,726.7 1172.1,726.7 1176.1,726.7 1180.2,726.7 1184.2,726.7 1188.2,726.6 1192.3,726.6 1196.3,726.6 1200.3,726.6 1204.3,726.6 1208.4,726.6 1212.4,726.6 1216.4,726.6 1220.5,726.7 1224.5,726.7 1228.5,726.7 1232.6,726.6 1236.6,726.6 1240.6,726.6 1244.6,726.5 1248.7,726.5 1252.7,726.4 1256.7,726.4 1260.8,726.4 1264.8,726.5 1268.8,726.5 1272.9,726.5 1276.9,726.6 1280.9,726.6 1284.9,726.6 1289.0,726.5 1293.0,726.4 1297.0,726.3 1301.1,726.2 1305.1,726.0 1309.1,725.8 1313.2,725.5 1317.2,725.2 1321.2,724.6 1325.2,723.9 1329.3,722.9 1333.3,721.5 1337.3,719.5 1341.4,716.8 1345.4,713.0 1349.4,707.9 1353.5,701.2 1357.5,692.3 1361.5,680.9 1365.5,667.0 1369.6,650.7 1373.6,633.0 1377.6,615.2 1381.7,598.7 1385.7,584.7 1389.7,573.7 1393.8,565.6 1397.8,559.9 1401.8,555.2 1405.8,551.7 1409.9,549.2 1413.9,547.2 1417.9,545.6 1422.0,544.3 1426.0,543.1 1430.0,542.1 1434.1,541.2 1438.1,540.3 1442.1,539.5 1446.1,538.6 1450.2,537.8 1454.2,536.9 1458.2,536.0 1462.3,535.2 1466.3,534.3" fill="none" stroke="#149a3e" stroke-width="1.05" stroke-opacity="0.85" stroke-linejoin="round"/>
<polyline points="1111.7,728.7 1115.7,727.9 1119.7,727.4 1123.8,727.1 1127.8,727.0 1131.8,726.9 1135.8,726.9 1139.9,726.8 1143.9,726.8 1147.9,726.8 1152.0,726.7 1156.0,726.7 1160.0,726.6 1164.0,726.6 1168.1,726.6 1172.1,726.6 1176.1,726.6 1180.2,726.6 1184.2,726.6 1188.2,726.6 1192.3,726.6 1196.3,726.6 1200.3,726.6 1204.3,726.6 1208.4,726.6 1212.4,726.5 1216.4,726.5 1220.5,726.5 1224.5,726.5 1228.5,726.5 1232.6,726.5 1236.6,726.5 1240.6,726.6 1244.6,726.6 1248.7,726.7 1252.7,726.7 1256.7,726.7 1260.8,726.7 1264.8,726.7 1268.8,726.6 1272.9,726.6 1276.9,726.5 1280.9,726.5 1284.9,726.5 1289.0,726.5 1293.0,726.5 1297.0,726.4 1301.1,726.4 1305.1,726.3 1309.1,726.1 1313.2,725.9 1317.2,725.5 1321.2,725.0 1325.2,724.3 1329.3,723.4 1333.3,722.2 1337.3,720.5 1341.4,718.2 1345.4,715.2 1349.4,711.0 1353.5,705.3 1357.5,697.9 1361.5,688.1 1365.5,675.8 1369.6,660.9 1373.6,643.9 1377.6,625.9 1381.7,608.4 1385.7,592.8 1389.7,579.9 1393.8,570.1 1397.8,563.0 1401.8,557.9 1405.8,554.1 1409.9,551.4 1413.9,549.5 1417.9,548.0 1422.0,546.9 1426.0,546.0 1430.0,545.2 1434.1,544.4 1438.1,543.8 1442.1,543.1 1446.1,542.5 1450.2,541.9 1454.2,541.3 1458.2,540.8 1462.3,540.3 1466.3,539.7" fill="none" stroke="#149a3e" stroke-width="1.05" stroke-opacity="0.85" stroke-linejoin="round"/>
<polyline points="1111.7,728.8 1115.7,728.0 1119.7,727.5 1123.8,727.2 1127.8,727.0 1131.8,726.8 1135.8,726.7 1139.9,726.6 1143.9,726.6 1147.9,726.6 1152.0,726.6 1156.0,726.6 1160.0,726.7 1164.0,726.7 1168.1,726.7 1172.1,726.8 1176.1,726.7 1180.2,726.7 1184.2,726.7 1188.2,726.6 1192.3,726.6 1196.3,726.6 1200.3,726.5 1204.3,726.5 1208.4,726.5 1212.4,726.5 1216.4,726.6 1220.5,726.6 1224.5,726.6 1228.5,726.6 1232.6,726.6 1236.6,726.6 1240.6,726.6 1244.6,726.5 1248.7,726.5 1252.7,726.5 1256.7,726.5 1260.8,726.5 1264.8,726.5 1268.8,726.5 1272.9,726.6 1276.9,726.6 1280.9,726.6 1284.9,726.6 1289.0,726.6 1293.0,726.6 1297.0,726.5 1301.1,726.4 1305.1,726.3 1309.1,726.1 1313.2,725.9 1317.2,725.6 1321.2,725.3 1325.2,724.8 1329.3,724.1 1333.3,723.1 1337.3,721.8 1341.4,720.0 1345.4,717.4 1349.4,713.9 1353.5,709.2 1357.5,702.8 1361.5,694.4 1365.5,683.7 1369.6,670.4 1373.6,654.7 1377.6,637.4 1381.7,619.6 1385.7,603.0 1389.7,588.5 1393.8,577.0 1397.8,568.4 1401.8,562.3 1405.8,557.8 1409.9,554.5 1413.9,552.2 1417.9,550.5 1422.0,549.3 1426.0,548.3 1430.0,547.5 1434.1,546.9 1438.1,546.3 1442.1,545.8 1446.1,545.4 1450.2,544.9 1454.2,544.4 1458.2,543.9 1462.3,543.4 1466.3,542.9" fill="none" stroke="#149a3e" stroke-width="1.05" stroke-opacity="0.85" stroke-linejoin="round"/>
<polyline points="1111.7,728.7 1115.7,728.0 1119.7,727.5 1123.8,727.3 1127.8,727.1 1131.8,727.0 1135.8,726.9 1139.9,726.8 1143.9,726.7 1147.9,726.7 1152.0,726.6 1156.0,726.6 1160.0,726.6 1164.0,726.5 1168.1,726.6 1172.1,726.6 1176.1,726.6 1180.2,726.6 1184.2,726.6 1188.2,726.6 1192.3,726.6 1196.3,726.6 1200.3,726.6 1204.3,726.5 1208.4,726.5 1212.4,726.5 1216.4,726.5 1220.5,726.5 1224.5,726.5 1228.5,726.5 1232.6,726.6 1236.6,726.6 1240.6,726.7 1244.6,726.7 1248.7,726.7 1252.7,726.7 1256.7,726.7 1260.8,726.6 1264.8,726.6 1268.8,726.6 1272.9,726.6 1276.9,726.6 1280.9,726.6 1284.9,726.6 1289.0,726.6 1293.0,726.6 1297.0,726.5 1301.1,726.5 1305.1,726.4 1309.1,726.2 1313.2,726.0 1317.2,725.7 1321.2,725.3 1325.2,724.8 1329.3,724.2 1333.3,723.3 1337.3,722.1 1341.4,720.5 1345.4,718.2 1349.4,715.1 1353.5,710.9 1357.5,705.2 1361.5,697.6 1365.5,687.7 1369.6,675.3 1373.6,660.4 1377.6,643.5 1381.7,625.9 1385.7,608.8 1389.7,593.7 1393.8,581.4 1397.8,572.1 1401.8,565.4 1405.8,560.6 1409.9,557.1 1413.9,554.7 1417.9,552.9 1422.0,551.6 1426.0,550.6 1430.0,549.8 1434.1,549.2 1438.1,548.6 1442.1,548.1 1446.1,547.7 1450.2,547.3 1454.2,546.9 1458.2,546.5 1462.3,546.1 1466.3,545.8" fill="none" stroke="#149a3e" stroke-width="1.05" stroke-opacity="0.85" stroke-linejoin="round"/>
<polyline points="1111.7,728.7 1115.7,727.8 1119.7,727.3 1123.8,727.0 1127.8,726.8 1131.8,726.7 1135.8,726.7 1139.9,726.7 1143.9,726.7 1147.9,726.7 1152.0,726.7 1156.0,726.6 1160.0,726.6 1164.0,726.6 1168.1,726.6 1172.1,726.5 1176.1,726.5 1180.2,726.6 1184.2,726.6 1188.2,726.6 1192.3,726.7 1196.3,726.7 1200.3,726.7 1204.3,726.7 1208.4,726.7 1212.4,726.7 1216.4,726.7 1220.5,726.6 1224.5,726.6 1228.5,726.5 1232.6,726.5 1236.6,726.5 1240.6,726.5 1244.6,726.6 1248.7,726.6 1252.7,726.6 1256.7,726.6 1260.8,726.6 1264.8,726.6 1268.8,726.6 1272.9,726.5 1276.9,726.5 1280.9,726.5 1284.9,726.5 1289.0,726.5 1293.0,726.5 1297.0,726.5 1301.1,726.6 1305.1,726.6 1309.1,726.6 1313.2,726.6 1317.2,726.6 1321.2,726.5 1325.2,726.4 1329.3,726.3 1333.3,726.2 1337.3,725.9 1341.4,725.7 1345.4,725.3 1349.4,724.8 1353.5,724.2 1357.5,723.3 1361.5,722.0 1365.5,720.2 1369.6,717.8 1373.6,714.5 1377.6,709.9 1381.7,703.8 1385.7,695.7 1389.7,685.2 1393.8,672.0 1397.8,656.1 1401.8,638.3 1405.8,619.6 1409.9,601.5 1413.9,585.5 1417.9,572.4 1422.0,562.5 1426.0,555.4 1430.0,550.3 1434.1,546.7 1438.1,544.1 1442.1,542.4 1446.1,541.1 1450.2,540.2 1454.2,539.5 1458.2,538.9 1462.3,538.5 1466.3,538.1" fill="none" stroke="#149a3e" stroke-width="1.05" stroke-opacity="0.85" stroke-linejoin="round"/>
<polyline points="1111.7,728.9 1115.7,728.1 1119.7,727.5 1123.8,727.2 1127.8,726.9 1131.8,726.7 1135.8,726.6 1139.9,726.5 1143.9,726.5 1147.9,726.5 1152.0,726.5 1156.0,726.6 1160.0,726.6 1164.0,726.6 1168.1,726.6 1172.1,726.6 1176.1,726.6 1180.2,726.6 1184.2,726.6 1188.2,726.5 1192.3,726.5 1196.3,726.5 1200.3,726.6 1204.3,726.6 1208.4,726.6 1212.4,726.7 1216.4,726.7 1220.5,726.7 1224.5,726.8 1228.5,726.7 1232.6,726.7 1236.6,726.7 1240.6,726.6 1244.6,726.6 1248.7,726.5 1252.7,726.5 1256.7,726.5 1260.8,726.5 1264.8,726.6 1268.8,726.6 1272.9,726.6 1276.9,726.6 1280.9,726.6 1284.9,726.6 1289.0,726.6 1293.0,726.5 1297.0,726.5 1301.1,726.4 1305.1,726.4 1309.1,726.4 1313.2,726.4 1317.2,726.4 1321.2,726.4 1325.2,726.4 1329.3,726.4 1333.3,726.3 1337.3,726.1 1341.4,725.9 1345.4,725.6 1349.4,725.1 1353.5,724.4 1357.5,723.6 1361.5,722.4 1365.5,720.8 1369.6,718.6 1373.6,715.7 1377.6,711.6 1381.7,706.1 1385.7,698.8 1389.7,689.2 1393.8,677.0 1397.8,662.2 1401.8,645.0 1405.8,626.6 1409.9,608.3 1413.9,591.7 1417.9,577.8 1422.0,567.0 1426.0,559.2 1430.0,553.7 1434.1,549.8 1438.1,547.1 1442.1,545.3 1446.1,544.1 1450.2,543.2 1454.2,542.5 1458.2,542.0 1462.3,541.6 1466.3,541.2" fill="none" stroke="#149a3e" stroke-width="1.05" stroke-opacity="0.85" stroke-linejoin="round"/>
<polyline points="1111.7,728.7 1115.7,727.8 1119.7,727.3 1123.8,727.0 1127.8,726.8 1131.8,726.7 1135.8,726.7 1139.9,726.7 1143.9,726.7 1147.9,726.7 1152.0,726.7 1156.0,726.7 1160.0,726.7 1164.0,726.6 1168.1,726.6 1172.1,726.6 1176.1,726.6 1180.2,726.6 1184.2,726.6 1188.2,726.6 1192.3,726.7 1196.3,726.7 1200.3,726.7 1204.3,726.7 1208.4,726.7 1212.4,726.7 1216.4,726.7 1220.5,726.6 1224.5,726.6 1228.5,726.5 1232.6,726.5 1236.6,726.5 1240.6,726.5 1244.6,726.5 1248.7,726.5 1252.7,726.6 1256.7,726.6 1260.8,726.6 1264.8,726.6 1268.8,726.6 1272.9,726.6 1276.9,726.6 1280.9,726.5 1284.9,726.5 1289.0,726.5 1293.0,726.5 1297.0,726.5 1301.1,726.6 1305.1,726.6 1309.1,726.6 1313.2,726.6 1317.2,726.6 1321.2,726.6 1325.2,726.5 1329.3,726.4 1333.3,726.3 1337.3,726.1 1341.4,725.8 1345.4,725.5 1349.4,725.1 1353.5,724.6 1357.5,723.9 1361.5,722.9 1365.5,721.5 1369.6,719.6 1373.6,716.9 1377.6,713.3 1381.7,708.3 1385.7,701.7 1389.7,692.9 1393.8,681.7 1397.8,668.0 1401.8,651.8 1405.8,634.0 1409.9,616.0 1413.9,599.2 1417.9,584.8 1422.0,573.4 1426.0,565.0 1430.0,559.0 1434.1,554.8 1438.1,551.9 1442.1,549.9 1446.1,548.6 1450.2,547.6 1454.2,547.0 1458.2,546.5 1462.3,546.1 1466.3,545.9" fill="none" stroke="#149a3e" stroke-width="1.05" stroke-opacity="0.85" stroke-linejoin="round"/>
<polyline points="1111.7,728.0 1115.7,727.5 1119.7,727.1 1123.8,726.9 1127.8,726.8 1131.8,726.8 1135.8,726.7 1139.9,726.7 1143.9,726.7 1147.9,726.7 1152.0,726.7 1156.0,726.6 1160.0,726.6 1164.0,726.6 1168.1,726.6 1172.1,726.6 1176.1,726.6 1180.2,726.6 1184.2,726.6 1188.2,726.7 1192.3,726.7 1196.3,726.7 1200.3,726.7 1204.3,726.7 1208.4,726.6 1212.4,726.6 1216.4,726.6 1220.5,726.5 1224.5,726.5 1228.5,726.5 1232.6,726.5 1236.6,726.5 1240.6,726.5 1244.6,726.6 1248.7,726.6 1252.7,726.6 1256.7,726.6 1260.8,726.6 1264.8,726.6 1268.8,726.6 1272.9,726.6 1276.9,726.5 1280.9,726.5 1284.9,726.5 1289.0,726.6 1293.0,726.6 1297.0,726.6 1301.1,726.7 1305.1,726.7 1309.1,726.7 1313.2,726.7 1317.2,726.7 1321.2,726.7 1325.2,726.6 1329.3,726.6 1333.3,726.6 1337.3,726.6 1341.4,726.6 1345.4,726.6 1349.4,726.6 1353.5,726.6 1357.5,726.6 1361.5,726.6 1365.5,726.6 1369.6,726.6 1373.6,726.6 1377.6,726.6 1381.7,726.6 1385.7,726.5 1389.7,726.5 1393.8,726.5 1397.8,726.5 1401.8,726.5 1405.8,726.5 1409.9,726.6 1413.9,726.6 1417.9,726.6 1422.0,726.7 1426.0,726.7 1430.0,726.7 1434.1,726.7 1438.1,726.6 1442.1,726.6 1446.1,726.6 1450.2,726.6 1454.2,726.6 1458.2,726.6 1462.3,726.6 1466.3,726.6" fill="none" stroke="#149a3e" stroke-width="1.3" stroke-opacity="0.85" stroke-linejoin="round"/>
<polyline points="1111.7,728.6 1115.7,727.9 1119.7,727.4 1123.8,727.1 1127.8,727.0 1131.8,726.9 1135.8,726.8 1139.9,726.8 1143.9,726.8 1147.9,726.8 1152.0,726.7 1156.0,726.7 1160.0,726.6 1164.0,726.6 1168.1,726.6 1172.1,726.6 1176.1,726.6 1180.2,726.6 1184.2,726.6 1188.2,726.7 1192.3,726.7 1196.3,726.7 1200.3,726.7 1204.3,726.6 1208.4,726.6 1212.4,726.6 1216.4,726.5 1220.5,726.5 1224.5,726.5 1228.5,726.5 1232.6,726.5 1236.6,726.5 1240.6,726.5 1244.6,726.6 1248.7,726.6 1252.7,726.7 1256.7,726.7 1260.8,726.7 1264.8,726.6 1268.8,726.6 1272.9,726.6 1276.9,726.6 1280.9,726.6 1284.9,726.6 1289.0,726.6 1293.0,726.6 1297.0,726.7 1301.1,726.7 1305.1,726.7 1309.1,726.7 1313.2,726.7 1317.2,726.7 1321.2,726.7 1325.2,726.6 1329.3,726.6 1333.3,726.5 1337.3,726.5 1341.4,726.5 1345.4,726.5 1349.4,726.5 1353.5,726.6 1357.5,726.6 1361.5,726.6 1365.5,726.6 1369.6,726.6 1373.6,726.6 1377.6,726.6 1381.7,726.5 1385.7,726.5 1389.7,726.5 1393.8,726.5 1397.8,726.5 1401.8,726.5 1405.8,726.6 1409.9,726.6 1413.9,726.7 1417.9,726.7 1422.0,726.7 1426.0,726.7 1430.0,726.7 1434.1,726.7 1438.1,726.7 1442.1,726.6 1446.1,726.6 1450.2,726.6 1454.2,726.6 1458.2,726.6 1462.3,726.6 1466.3,726.6" fill="none" stroke="#149a3e" stroke-width="1.3" stroke-opacity="0.85" stroke-linejoin="round"/>
<polyline points="1111.7,729.5 1115.7,728.5 1119.7,727.8 1123.8,727.3 1127.8,727.0 1131.8,726.8 1135.8,726.7 1139.9,726.7 1143.9,726.7 1147.9,726.7 1152.0,726.7 1156.0,726.7 1160.0,726.7 1164.0,726.7 1168.1,726.6 1172.1,726.6 1176.1,726.5 1180.2,726.4 1184.2,726.4 1188.2,726.4 1192.3,726.4 1196.3,726.5 1200.3,726.5 1204.3,726.6 1208.4,726.6 1212.4,726.7 1216.4,726.7 1220.5,726.7 1224.5,726.7 1228.5,726.6 1232.6,726.6 1236.6,726.6 1240.6,726.6 1244.6,726.6 1248.7,726.6 1252.7,726.6 1256.7,726.7 1260.8,726.7 1264.8,726.8 1268.8,726.8 1272.9,726.8 1276.9,726.7 1280.9,726.7 1284.9,726.6 1289.0,726.6 1293.0,726.5 1297.0,726.5 1301.1,726.4 1305.1,726.5 1309.1,726.5 1313.2,726.5 1317.2,726.6 1321.2,726.6 1325.2,726.6 1329.3,726.6 1333.3,726.6 1337.3,726.6 1341.4,726.6 1345.4,726.5 1349.4,726.5 1353.5,726.5 1357.5,726.5 1361.5,726.5 1365.5,726.6 1369.6,726.6 1373.6,726.7 1377.6,726.7 1381.7,726.8 1385.7,726.8 1389.7,726.8 1393.8,726.7 1397.8,726.7 1401.8,726.6 1405.8,726.6 1409.9,726.5 1413.9,726.5 1417.9,726.5 1422.0,726.6 1426.0,726.6 1430.0,726.6 1434.1,726.7 1438.1,726.7 1442.1,726.7 1446.1,726.6 1450.2,726.6 1454.2,726.5 1458.2,726.5 1462.3,726.4 1466.3,726.4" fill="none" stroke="#149a3e" stroke-width="1.3" stroke-opacity="0.85" stroke-linejoin="round"/>
<line x1="1111.7" y1="707.6" x2="1466.3" y2="707.6" stroke="#6cc9dc" stroke-width="2"/>
<rect x="1103.8" y="521" width="381.60000000000014" height="212.20000000000005" fill="none" stroke="#4d4d4d" stroke-width="1.6"/>
<line x1="1103.6" y1="729.6" x2="1103.6" y2="736.8000000000001" stroke="#444" stroke-width="1.2"/>
<line x1="1103.6" y1="517.4" x2="1103.6" y2="524.6" stroke="#444" stroke-width="1.2"/>
<line x1="1119.7" y1="731.1" x2="1119.7" y2="735.3000000000001" stroke="#444" stroke-width="1.2"/>
<line x1="1119.7" y1="518.9" x2="1119.7" y2="523.1" stroke="#444" stroke-width="1.2"/>
<line x1="1135.8" y1="731.1" x2="1135.8" y2="735.3000000000001" stroke="#444" stroke-width="1.2"/>
<line x1="1135.8" y1="518.9" x2="1135.8" y2="523.1" stroke="#444" stroke-width="1.2"/>
<line x1="1152.0" y1="731.1" x2="1152.0" y2="735.3000000000001" stroke="#444" stroke-width="1.2"/>
<line x1="1152.0" y1="518.9" x2="1152.0" y2="523.1" stroke="#444" stroke-width="1.2"/>
<line x1="1168.1" y1="731.1" x2="1168.1" y2="735.3000000000001" stroke="#444" stroke-width="1.2"/>
<line x1="1168.1" y1="518.9" x2="1168.1" y2="523.1" stroke="#444" stroke-width="1.2"/>
<line x1="1184.2" y1="729.6" x2="1184.2" y2="736.8000000000001" stroke="#444" stroke-width="1.2"/>
<line x1="1184.2" y1="517.4" x2="1184.2" y2="524.6" stroke="#444" stroke-width="1.2"/>
<line x1="1200.3" y1="731.1" x2="1200.3" y2="735.3000000000001" stroke="#444" stroke-width="1.2"/>
<line x1="1200.3" y1="518.9" x2="1200.3" y2="523.1" stroke="#444" stroke-width="1.2"/>
<line x1="1216.4" y1="731.1" x2="1216.4" y2="735.3000000000001" stroke="#444" stroke-width="1.2"/>
<line x1="1216.4" y1="518.9" x2="1216.4" y2="523.1" stroke="#444" stroke-width="1.2"/>
<line x1="1232.6" y1="731.1" x2="1232.6" y2="735.3000000000001" stroke="#444" stroke-width="1.2"/>
<line x1="1232.6" y1="518.9" x2="1232.6" y2="523.1" stroke="#444" stroke-width="1.2"/>
<line x1="1248.7" y1="731.1" x2="1248.7" y2="735.3000000000001" stroke="#444" stroke-width="1.2"/>
<line x1="1248.7" y1="518.9" x2="1248.7" y2="523.1" stroke="#444" stroke-width="1.2"/>
<line x1="1264.8" y1="729.6" x2="1264.8" y2="736.8000000000001" stroke="#444" stroke-width="1.2"/>
<line x1="1264.8" y1="517.4" x2="1264.8" y2="524.6" stroke="#444" stroke-width="1.2"/>
<line x1="1280.9" y1="731.1" x2="1280.9" y2="735.3000000000001" stroke="#444" stroke-width="1.2"/>
<line x1="1280.9" y1="518.9" x2="1280.9" y2="523.1" stroke="#444" stroke-width="1.2"/>
<line x1="1297.0" y1="731.1" x2="1297.0" y2="735.3000000000001" stroke="#444" stroke-width="1.2"/>
<line x1="1297.0" y1="518.9" x2="1297.0" y2="523.1" stroke="#444" stroke-width="1.2"/>
<line x1="1313.2" y1="731.1" x2="1313.2" y2="735.3000000000001" stroke="#444" stroke-width="1.2"/>
<line x1="1313.2" y1="518.9" x2="1313.2" y2="523.1" stroke="#444" stroke-width="1.2"/>
<line x1="1329.3" y1="731.1" x2="1329.3" y2="735.3000000000001" stroke="#444" stroke-width="1.2"/>
<line x1="1329.3" y1="518.9" x2="1329.3" y2="523.1" stroke="#444" stroke-width="1.2"/>
<line x1="1345.4" y1="729.6" x2="1345.4" y2="736.8000000000001" stroke="#444" stroke-width="1.2"/>
<line x1="1345.4" y1="517.4" x2="1345.4" y2="524.6" stroke="#444" stroke-width="1.2"/>
<line x1="1361.5" y1="731.1" x2="1361.5" y2="735.3000000000001" stroke="#444" stroke-width="1.2"/>
<line x1="1361.5" y1="518.9" x2="1361.5" y2="523.1" stroke="#444" stroke-width="1.2"/>
<line x1="1377.6" y1="731.1" x2="1377.6" y2="735.3000000000001" stroke="#444" stroke-width="1.2"/>
<line x1="1377.6" y1="518.9" x2="1377.6" y2="523.1" stroke="#444" stroke-width="1.2"/>
<line x1="1393.8" y1="731.1" x2="1393.8" y2="735.3000000000001" stroke="#444" stroke-width="1.2"/>
<line x1="1393.8" y1="518.9" x2="1393.8" y2="523.1" stroke="#444" stroke-width="1.2"/>
<line x1="1409.9" y1="731.1" x2="1409.9" y2="735.3000000000001" stroke="#444" stroke-width="1.2"/>
<line x1="1409.9" y1="518.9" x2="1409.9" y2="523.1" stroke="#444" stroke-width="1.2"/>
<line x1="1426.0" y1="729.6" x2="1426.0" y2="736.8000000000001" stroke="#444" stroke-width="1.2"/>
<line x1="1426.0" y1="517.4" x2="1426.0" y2="524.6" stroke="#444" stroke-width="1.2"/>
<line x1="1442.1" y1="731.1" x2="1442.1" y2="735.3000000000001" stroke="#444" stroke-width="1.2"/>
<line x1="1442.1" y1="518.9" x2="1442.1" y2="523.1" stroke="#444" stroke-width="1.2"/>
<line x1="1458.2" y1="731.1" x2="1458.2" y2="735.3000000000001" stroke="#444" stroke-width="1.2"/>
<line x1="1458.2" y1="518.9" x2="1458.2" y2="523.1" stroke="#444" stroke-width="1.2"/>
<line x1="1474.4" y1="731.1" x2="1474.4" y2="735.3000000000001" stroke="#444" stroke-width="1.2"/>
<line x1="1474.4" y1="518.9" x2="1474.4" y2="523.1" stroke="#444" stroke-width="1.2"/>
<line x1="1099.6" y1="726.6" x2="1106.95" y2="726.6" stroke="#444" stroke-width="1.2"/>
<line x1="1482.25" y1="726.6" x2="1487.92" y2="726.6" stroke="#444" stroke-width="1.2"/>
<line x1="1101.7" y1="718.9" x2="1105.375" y2="718.9" stroke="#444" stroke-width="1.2"/>
<line x1="1483.825" y1="718.9" x2="1486.66" y2="718.9" stroke="#444" stroke-width="1.2"/>
<line x1="1101.7" y1="711.1" x2="1105.375" y2="711.1" stroke="#444" stroke-width="1.2"/>
<line x1="1483.825" y1="711.1" x2="1486.66" y2="711.1" stroke="#444" stroke-width="1.2"/>
<line x1="1101.7" y1="703.4" x2="1105.375" y2="703.4" stroke="#444" stroke-width="1.2"/>
<line x1="1483.825" y1="703.4" x2="1486.66" y2="703.4" stroke="#444" stroke-width="1.2"/>
<line x1="1099.6" y1="695.6" x2="1106.95" y2="695.6" stroke="#444" stroke-width="1.2"/>
<line x1="1482.25" y1="695.6" x2="1487.92" y2="695.6" stroke="#444" stroke-width="1.2"/>
<line x1="1101.7" y1="687.9" x2="1105.375" y2="687.9" stroke="#444" stroke-width="1.2"/>
<line x1="1483.825" y1="687.9" x2="1486.66" y2="687.9" stroke="#444" stroke-width="1.2"/>
<line x1="1101.7" y1="680.2" x2="1105.375" y2="680.2" stroke="#444" stroke-width="1.2"/>
<line x1="1483.825" y1="680.2" x2="1486.66" y2="680.2" stroke="#444" stroke-width="1.2"/>
<line x1="1101.7" y1="672.4" x2="1105.375" y2="672.4" stroke="#444" stroke-width="1.2"/>
<line x1="1483.825" y1="672.4" x2="1486.66" y2="672.4" stroke="#444" stroke-width="1.2"/>
<line x1="1099.6" y1="664.7" x2="1106.95" y2="664.7" stroke="#444" stroke-width="1.2"/>
<line x1="1482.25" y1="664.7" x2="1487.92" y2="664.7" stroke="#444" stroke-width="1.2"/>
<line x1="1101.7" y1="656.9" x2="1105.375" y2="656.9" stroke="#444" stroke-width="1.2"/>
<line x1="1483.825" y1="656.9" x2="1486.66" y2="656.9" stroke="#444" stroke-width="1.2"/>
<line x1="1101.7" y1="649.2" x2="1105.375" y2="649.2" stroke="#444" stroke-width="1.2"/>
<line x1="1483.825" y1="649.2" x2="1486.66" y2="649.2" stroke="#444" stroke-width="1.2"/>
<line x1="1101.7" y1="641.5" x2="1105.375" y2="641.5" stroke="#444" stroke-width="1.2"/>
<line x1="1483.825" y1="641.5" x2="1486.66" y2="641.5" stroke="#444" stroke-width="1.2"/>
<line x1="1099.6" y1="633.7" x2="1106.95" y2="633.7" stroke="#444" stroke-width="1.2"/>
<line x1="1482.25" y1="633.7" x2="1487.92" y2="633.7" stroke="#444" stroke-width="1.2"/>
<line x1="1101.7" y1="626.0" x2="1105.375" y2="626.0" stroke="#444" stroke-width="1.2"/>
<line x1="1483.825" y1="626.0" x2="1486.66" y2="626.0" stroke="#444" stroke-width="1.2"/>
<line x1="1101.7" y1="618.2" x2="1105.375" y2="618.2" stroke="#444" stroke-width="1.2"/>
<line x1="1483.825" y1="618.2" x2="1486.66" y2="618.2" stroke="#444" stroke-width="1.2"/>
<line x1="1101.7" y1="610.5" x2="1105.375" y2="610.5" stroke="#444" stroke-width="1.2"/>
<line x1="1483.825" y1="610.5" x2="1486.66" y2="610.5" stroke="#444" stroke-width="1.2"/>
<line x1="1099.6" y1="602.8" x2="1106.95" y2="602.8" stroke="#444" stroke-width="1.2"/>
<line x1="1482.25" y1="602.8" x2="1487.92" y2="602.8" stroke="#444" stroke-width="1.2"/>
<line x1="1101.7" y1="595.0" x2="1105.375" y2="595.0" stroke="#444" stroke-width="1.2"/>
<line x1="1483.825" y1="595.0" x2="1486.66" y2="595.0" stroke="#444" stroke-width="1.2"/>
<line x1="1101.7" y1="587.3" x2="1105.375" y2="587.3" stroke="#444" stroke-width="1.2"/>
<line x1="1483.825" y1="587.3" x2="1486.66" y2="587.3" stroke="#444" stroke-width="1.2"/>
<line x1="1101.7" y1="579.5" x2="1105.375" y2="579.5" stroke="#444" stroke-width="1.2"/>
<line x1="1483.825" y1="579.5" x2="1486.66" y2="579.5" stroke="#444" stroke-width="1.2"/>
<line x1="1099.6" y1="571.8" x2="1106.95" y2="571.8" stroke="#444" stroke-width="1.2"/>
<line x1="1482.25" y1="571.8" x2="1487.92" y2="571.8" stroke="#444" stroke-width="1.2"/>
<line x1="1101.7" y1="564.1" x2="1105.375" y2="564.1" stroke="#444" stroke-width="1.2"/>
<line x1="1483.825" y1="564.1" x2="1486.66" y2="564.1" stroke="#444" stroke-width="1.2"/>
<line x1="1101.7" y1="556.3" x2="1105.375" y2="556.3" stroke="#444" stroke-width="1.2"/>
<line x1="1483.825" y1="556.3" x2="1486.66" y2="556.3" stroke="#444" stroke-width="1.2"/>
<line x1="1101.7" y1="548.6" x2="1105.375" y2="548.6" stroke="#444" stroke-width="1.2"/>
<line x1="1483.825" y1="548.6" x2="1486.66" y2="548.6" stroke="#444" stroke-width="1.2"/>
<line x1="1099.6" y1="540.8" x2="1106.95" y2="540.8" stroke="#444" stroke-width="1.2"/>
<line x1="1482.25" y1="540.8" x2="1487.92" y2="540.8" stroke="#444" stroke-width="1.2"/>
<line x1="1101.7" y1="533.1" x2="1105.375" y2="533.1" stroke="#444" stroke-width="1.2"/>
<line x1="1483.825" y1="533.1" x2="1486.66" y2="533.1" stroke="#444" stroke-width="1.2"/>
<line x1="1101.7" y1="525.4" x2="1105.375" y2="525.4" stroke="#444" stroke-width="1.2"/>
<line x1="1483.825" y1="525.4" x2="1486.66" y2="525.4" stroke="#444" stroke-width="1.2"/>
<text class="t tk" x="1095.5" y="732.7" text-anchor="end">0</text>
<text class="t tk" x="1095.5" y="701.7" text-anchor="end">200</text>
<text class="t tk" x="1095.5" y="670.8" text-anchor="end">400</text>
<text class="t tk" x="1095.5" y="639.8" text-anchor="end">600</text>
<text class="t tk" x="1095.5" y="608.9" text-anchor="end">800</text>
<text class="t tk" x="1095.5" y="577.9" text-anchor="end">1000</text>
<text class="t tk" x="1095.5" y="546.9" text-anchor="end">1200</text>
<text class="t tk" x="1104.2" y="753.2" text-anchor="middle">0</text>
<text class="t tk" x="1184.8" y="753.2" text-anchor="middle">10</text>
<text class="t tk" x="1265.4" y="753.2" text-anchor="middle">20</text>
<text class="t tk" x="1346.0" y="753.2" text-anchor="middle">30</text>
<text class="t tk" x="1426.6" y="753.2" text-anchor="middle">40</text>
<text class="t ax" x="1304.8" y="776.4" text-anchor="middle">Cycles</text>
<text class="t ax" transform="translate(1051.3,618.8) rotate(-90)" text-anchor="middle">RFU</text>
</svg></body></html>
